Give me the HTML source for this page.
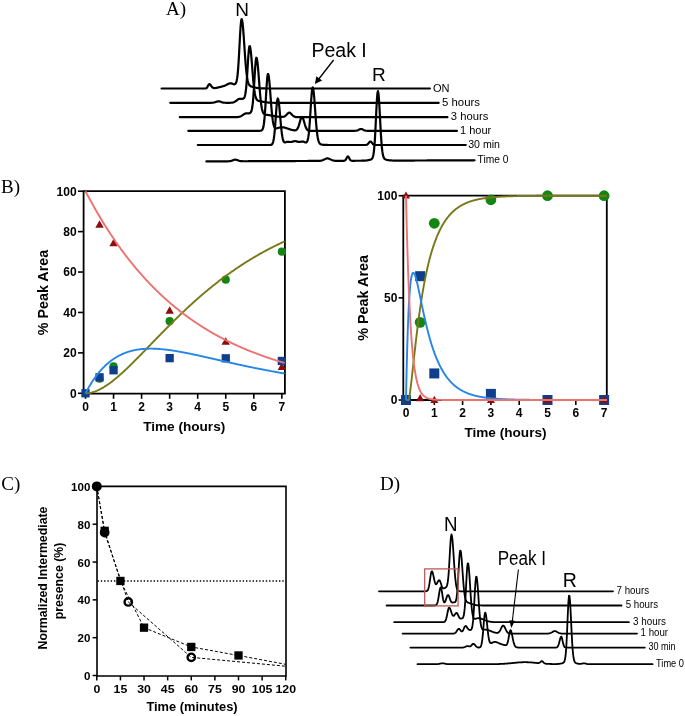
<!DOCTYPE html>
<html><head><meta charset="utf-8"><style>
html,body{margin:0;padding:0;background:#fff;}
body{width:685px;height:716px;overflow:hidden;}
svg{display:block;filter:blur(0.35px);}
</style></head><body>
<svg width="685" height="716" viewBox="0 0 685 716">
<rect width="685" height="716" fill="#fff"/>
<text x="166" y="14.6" font-family='"Liberation Serif", serif' font-size="19" font-weight="normal" text-anchor="start" fill="#000" >A)</text>
<text x="242.2" y="16" font-family='"Liberation Sans", sans-serif' font-size="19" font-weight="normal" text-anchor="middle" fill="#000" >N</text>
<text x="311.5" y="56.6" font-family='"Liberation Sans", sans-serif' font-size="19.5" font-weight="normal" text-anchor="start" fill="#000" >Peak I</text>
<text x="378.8" y="80.6" font-family='"Liberation Sans", sans-serif' font-size="19" font-weight="normal" text-anchor="middle" fill="#000" >R</text>
<path d="M161.6 88.5 L162.1 88.5 L162.6 88.5 L163.1 88.5 L163.6 88.5 L164.1 88.5 L164.6 88.5 L165.1 88.5 L165.6 88.5 L166.1 88.5 L166.6 88.5 L167.1 88.5 L167.6 88.5 L168.1 88.5 L168.6 88.5 L169.1 88.5 L169.6 88.5 L170.1 88.5 L170.6 88.5 L171.1 88.5 L171.6 88.5 L172.1 88.5 L172.6 88.5 L173.1 88.5 L173.6 88.5 L174.1 88.5 L174.6 88.5 L175.1 88.5 L175.6 88.5 L176.1 88.5 L176.6 88.5 L177.1 88.5 L177.6 88.5 L178.1 88.5 L178.6 88.5 L179.1 88.5 L179.6 88.5 L180.1 88.5 L180.6 88.5 L181.1 88.5 L181.6 88.5 L182.1 88.5 L182.6 88.5 L183.1 88.5 L183.6 88.5 L184.1 88.5 L184.6 88.5 L185.1 88.5 L185.6 88.5 L186.1 88.5 L186.6 88.5 L187.1 88.5 L187.6 88.5 L188.1 88.5 L188.6 88.5 L189.1 88.5 L189.6 88.5 L190.1 88.5 L190.6 88.5 L191.1 88.5 L191.6 88.5 L192.1 88.5 L192.6 88.5 L193.1 88.5 L193.6 88.5 L194.1 88.5 L194.6 88.5 L195.1 88.5 L195.6 88.5 L196.1 88.5 L196.6 88.5 L197.1 88.5 L197.6 88.5 L198.1 88.5 L198.6 88.5 L199.1 88.5 L199.6 88.5 L200.1 88.5 L200.6 88.5 L201.1 88.5 L201.6 88.5 L202.1 88.5 L202.6 88.5 L203.1 88.5 L203.6 88.5 L204.1 88.5 L204.6 88.49 L205.1 88.47 L205.6 88.42 L206.1 88.28 L206.6 87.99 L207.1 87.44 L207.6 86.62 L208.1 85.61 L208.6 84.68 L209.1 84.13 L209.6 84.13 L210.1 84.47 L210.6 85.05 L211.1 85.76 L211.6 86.46 L212.1 87.07 L212.6 87.53 L213.1 87.84 L213.6 88.02 L214.1 88.09 L214.6 88.1 L215.1 88.07 L215.6 88 L216.1 87.92 L216.6 87.83 L217.1 87.73 L217.6 87.62 L218.1 87.5 L218.6 87.38 L219.1 87.25 L219.6 87.12 L220.1 86.99 L220.6 86.86 L221.1 86.73 L221.6 86.6 L222.1 86.47 L222.6 86.33 L223.1 86.19 L223.6 86.04 L224.1 85.87 L224.6 85.69 L225.1 85.49 L225.6 85.26 L226.1 85.02 L226.6 84.76 L227.1 84.48 L227.6 84.21 L228.1 83.95 L228.6 83.71 L229.1 83.51 L229.6 83.36 L230.1 83.28 L230.6 83.26 L231.1 83.31 L231.6 83.43 L232.1 83.62 L232.6 83.84 L233.1 84.06 L233.6 84.23 L234.1 84.31 L234.6 84.27 L235.1 84.05 L235.6 83.55 L236.1 82.63 L236.6 81.05 L237.1 78.5 L237.6 74.62 L238.1 69.14 L238.6 61.96 L239.1 53.31 L239.6 43.81 L240.1 34.46 L240.6 26.49 L241.1 21.07 L241.6 19.09 L242.1 20.12 L242.6 23.33 L243.1 28.4 L243.6 34.84 L244.1 42.09 L244.6 49.57 L245.1 56.79 L245.6 63.35 L246.1 69.03 L246.6 73.72 L247.1 77.42 L247.6 80.23 L248.1 82.28 L248.6 83.72 L249.1 84.71 L249.6 85.38 L250.1 85.83 L250.6 86.15 L251.1 86.38 L251.6 86.56 L252.1 86.72 L252.6 86.87 L253.1 87 L253.6 87.13 L254.1 87.26 L254.6 87.38 L255.1 87.49 L255.6 87.6 L256.1 87.71 L256.6 87.8 L257.1 87.89 L257.6 87.97 L258.1 88.05 L258.6 88.11 L259.1 88.17 L259.6 88.22 L260.1 88.27 L260.6 88.31 L261.1 88.34 L261.6 88.37 L262.1 88.39 L262.6 88.41 L263.1 88.43 L263.6 88.45 L264.1 88.46 L264.6 88.47 L265.1 88.47 L265.6 88.48 L266.1 88.48 L266.6 88.49 L267.1 88.49 L267.6 88.49 L268.1 88.49 L268.6 88.5 L269.1 88.5 L269.6 88.5 L270.1 88.5 L270.6 88.5 L271.1 88.5 L271.6 88.5 L272.1 88.5 L272.6 88.5 L273.1 88.5 L273.6 88.5 L274.1 88.5 L274.6 88.5 L275.1 88.5 L275.6 88.5 L276.1 88.5 L276.6 88.5 L277.1 88.5 L277.6 88.5 L278.1 88.5 L278.6 88.5 L279.1 88.5 L279.6 88.5 L280.1 88.5 L280.6 88.5 L281.1 88.5 L281.6 88.5 L282.1 88.5 L282.6 88.5 L283.1 88.5 L283.6 88.5 L284.1 88.5 L284.6 88.5 L285.1 88.5 L285.6 88.5 L286.1 88.5 L286.6 88.5 L287.1 88.5 L287.6 88.5 L288.1 88.5 L288.6 88.5 L289.1 88.5 L289.6 88.5 L290.1 88.5 L290.6 88.5 L291.1 88.5 L291.6 88.5 L292.1 88.5 L292.6 88.5 L293.1 88.5 L293.6 88.5 L294.1 88.5 L294.6 88.5 L295.1 88.5 L295.6 88.5 L296.1 88.5 L296.6 88.5 L297.1 88.5 L297.6 88.5 L298.1 88.5 L298.6 88.5 L299.1 88.5 L299.6 88.5 L300.1 88.5 L300.6 88.5 L301.1 88.5 L301.6 88.5 L302.1 88.5 L302.6 88.5 L303.1 88.5 L303.6 88.5 L304.1 88.5 L304.6 88.5 L305.1 88.5 L305.6 88.5 L306.1 88.5 L306.6 88.5 L307.1 88.5 L307.6 88.5 L308.1 88.5 L308.6 88.5 L309.1 88.5 L309.6 88.5 L310.1 88.5 L310.6 88.5 L311.1 88.5 L311.6 88.5 L312.1 88.5 L312.6 88.5 L313.1 88.5 L313.6 88.5 L314.1 88.5 L314.6 88.5 L315.1 88.5 L315.6 88.5 L316.1 88.5 L316.6 88.5 L317.1 88.5 L317.6 88.5 L318.1 88.5 L318.6 88.5 L319.1 88.5 L319.6 88.5 L320.1 88.5 L320.6 88.5 L321.1 88.5 L321.6 88.5 L322.1 88.5 L322.6 88.5 L323.1 88.5 L323.6 88.5 L324.1 88.5 L324.6 88.5 L325.1 88.5 L325.6 88.5 L326.1 88.5 L326.6 88.5 L327.1 88.5 L327.6 88.5 L328.1 88.5 L328.6 88.5 L329.1 88.5 L329.6 88.5 L330.1 88.5 L330.6 88.5 L331.1 88.5 L331.6 88.5 L332.1 88.5 L332.6 88.5 L333.1 88.5 L333.6 88.5 L334.1 88.5 L334.6 88.5 L335.1 88.5 L335.6 88.5 L336.1 88.5 L336.6 88.5 L337.1 88.5 L337.6 88.5 L338.1 88.5 L338.6 88.5 L339.1 88.5 L339.6 88.5 L340.1 88.5 L340.6 88.5 L341.1 88.5 L341.6 88.5 L342.1 88.5 L342.6 88.5 L343.1 88.5 L343.6 88.5 L344.1 88.5 L344.6 88.5 L345.1 88.5 L345.6 88.5 L346.1 88.5 L346.6 88.5 L347.1 88.5 L347.6 88.5 L348.1 88.5 L348.6 88.5 L349.1 88.5 L349.6 88.5 L350.1 88.5 L350.6 88.5 L351.1 88.5 L351.6 88.5 L352.1 88.5 L352.6 88.5 L353.1 88.5 L353.6 88.5 L354.1 88.5 L354.6 88.5 L355.1 88.5 L355.6 88.5 L356.1 88.5 L356.6 88.5 L357.1 88.5 L357.6 88.5 L358.1 88.5 L358.6 88.5 L359.1 88.5 L359.6 88.5 L360.1 88.5 L360.6 88.5 L361.1 88.5 L361.6 88.5 L362.1 88.5 L362.6 88.5 L363.1 88.5 L363.6 88.5 L364.1 88.5 L364.6 88.5 L365.1 88.5 L365.6 88.5 L366.1 88.5 L366.6 88.5 L367.1 88.5 L367.6 88.5 L368.1 88.5 L368.6 88.5 L369.1 88.5 L369.6 88.5 L370.1 88.5 L370.6 88.5 L371.1 88.5 L371.6 88.5 L372.1 88.5 L372.6 88.5 L373.1 88.5 L373.6 88.5 L374.1 88.5 L374.6 88.5 L375.1 88.5 L375.6 88.5 L376.1 88.5 L376.6 88.5 L377.1 88.5 L377.6 88.5 L378.1 88.5 L378.6 88.5 L379.1 88.5 L379.6 88.5 L380.1 88.5 L380.6 88.5 L381.1 88.5 L381.6 88.5 L382.1 88.5 L382.6 88.5 L383.1 88.5 L383.6 88.5 L384.1 88.5 L384.6 88.5 L385.1 88.5 L385.6 88.5 L386.1 88.5 L386.6 88.5 L387.1 88.5 L387.6 88.5 L388.1 88.5 L388.6 88.5 L389.1 88.5 L389.6 88.5 L390.1 88.5 L390.6 88.5 L391.1 88.5 L391.6 88.5 L392.1 88.5 L392.6 88.5 L393.1 88.5 L393.6 88.5 L394.1 88.5 L394.6 88.5 L395.1 88.5 L395.6 88.5 L396.1 88.5 L396.6 88.5 L397.1 88.5 L397.6 88.5 L398.1 88.5 L398.6 88.5 L399.1 88.5 L399.6 88.5 L400.1 88.5 L400.6 88.5 L401.1 88.5 L401.6 88.5 L402.1 88.5 L402.6 88.5 L403.1 88.5 L403.6 88.5 L404.1 88.5 L404.6 88.5 L405.1 88.5 L405.6 88.5 L406.1 88.5 L406.6 88.5 L407.1 88.5 L407.6 88.5 L408.1 88.5 L408.6 88.5 L409.1 88.5 L409.6 88.5 L410.1 88.5 L410.6 88.5 L411.1 88.5 L411.6 88.5 L412.1 88.5 L412.6 88.5 L413.1 88.5 L413.6 88.5 L414.1 88.5 L414.6 88.5 L415.1 88.5 L415.6 88.5 L416.1 88.5 L416.6 88.5 L417.1 88.5 L417.6 88.5 L418.1 88.5 L418.6 88.5 L419.1 88.5 L419.6 88.5 L420.1 88.5 L420.6 88.5 L421.1 88.5 L421.6 88.5 L422.1 88.5 L422.6 88.5 L423.1 88.5 L423.6 88.5 L424.1 88.5 L424.6 88.5 L425.1 88.5 L425.6 88.5 L426.1 88.5 L426.6 88.5 L427.1 88.5 L427.6 88.5 L428.1 88.5 L428.6 88.5 L429.1 88.5 L429.6 88.5 L429.9 88.5" fill="none" stroke="#000" stroke-width="2.2" stroke-linejoin="round" stroke-linecap="round"/>
<text x="433" y="91.6" font-family='"Liberation Sans", sans-serif' font-size="11" font-weight="normal" text-anchor="start" fill="#000" textLength="16.6" lengthAdjust="spacingAndGlyphs">ON</text>
<path d="M170.3 102.8 L170.8 102.8 L171.3 102.8 L171.8 102.8 L172.3 102.8 L172.8 102.8 L173.3 102.8 L173.8 102.8 L174.3 102.8 L174.8 102.8 L175.3 102.8 L175.8 102.8 L176.3 102.8 L176.8 102.8 L177.3 102.8 L177.8 102.8 L178.3 102.8 L178.8 102.8 L179.3 102.8 L179.8 102.8 L180.3 102.8 L180.8 102.8 L181.3 102.8 L181.8 102.8 L182.3 102.8 L182.8 102.8 L183.3 102.8 L183.8 102.8 L184.3 102.8 L184.8 102.8 L185.3 102.8 L185.8 102.8 L186.3 102.8 L186.8 102.8 L187.3 102.8 L187.8 102.8 L188.3 102.8 L188.8 102.8 L189.3 102.8 L189.8 102.8 L190.3 102.8 L190.8 102.8 L191.3 102.8 L191.8 102.8 L192.3 102.8 L192.8 102.8 L193.3 102.8 L193.8 102.8 L194.3 102.8 L194.8 102.8 L195.3 102.8 L195.8 102.8 L196.3 102.8 L196.8 102.8 L197.3 102.8 L197.8 102.8 L198.3 102.8 L198.8 102.8 L199.3 102.8 L199.8 102.8 L200.3 102.8 L200.8 102.8 L201.3 102.8 L201.8 102.8 L202.3 102.8 L202.8 102.8 L203.3 102.8 L203.8 102.8 L204.3 102.8 L204.8 102.8 L205.3 102.8 L205.8 102.8 L206.3 102.8 L206.8 102.8 L207.3 102.8 L207.8 102.8 L208.3 102.8 L208.8 102.8 L209.3 102.8 L209.8 102.8 L210.3 102.79 L210.8 102.79 L211.3 102.78 L211.8 102.76 L212.3 102.73 L212.8 102.69 L213.3 102.63 L213.8 102.54 L214.3 102.43 L214.8 102.3 L215.3 102.14 L215.8 101.96 L216.3 101.78 L216.8 101.61 L217.3 101.46 L217.8 101.36 L218.3 101.3 L218.8 101.31 L219.3 101.37 L219.8 101.49 L220.3 101.64 L220.8 101.82 L221.3 102 L221.8 102.17 L222.3 102.33 L222.8 102.46 L223.3 102.56 L223.8 102.64 L224.3 102.7 L224.8 102.74 L225.3 102.76 L225.8 102.78 L226.3 102.79 L226.8 102.79 L227.3 102.8 L227.8 102.8 L228.3 102.8 L228.8 102.79 L229.3 102.79 L229.8 102.78 L230.3 102.77 L230.8 102.74 L231.3 102.71 L231.8 102.66 L232.3 102.59 L232.8 102.49 L233.3 102.35 L233.8 102.17 L234.3 101.95 L234.8 101.69 L235.3 101.37 L235.8 101.02 L236.3 100.65 L236.8 100.26 L237.3 99.89 L237.8 99.55 L238.3 99.27 L238.8 99.06 L239.3 98.92 L239.8 98.86 L240.3 98.86 L240.8 98.88 L241.3 98.92 L241.8 98.93 L242.3 98.9 L242.8 98.8 L243.3 98.6 L243.8 98.23 L244.3 97.55 L244.8 96.34 L245.3 94.28 L245.8 91.04 L246.3 86.33 L246.8 80.08 L247.3 72.53 L247.8 64.35 L248.3 56.53 L248.8 50.25 L249.3 46.58 L249.8 46.08 L250.3 47.83 L250.8 51.4 L251.3 56.4 L251.8 62.36 L252.3 68.72 L252.8 75 L253.3 80.79 L253.8 85.84 L254.3 90 L254.8 93.28 L255.3 95.75 L255.8 97.53 L256.3 98.77 L256.8 99.6 L257.3 100.15 L257.8 100.5 L258.3 100.73 L258.8 100.9 L259.3 101.03 L259.8 101.14 L260.3 101.24 L260.8 101.34 L261.3 101.44 L261.8 101.55 L262.3 101.65 L262.8 101.75 L263.3 101.85 L263.8 101.94 L264.3 102.03 L264.8 102.12 L265.3 102.2 L265.8 102.27 L266.3 102.34 L266.8 102.4 L267.3 102.46 L267.8 102.51 L268.3 102.56 L268.8 102.59 L269.3 102.63 L269.8 102.66 L270.3 102.68 L270.8 102.7 L271.3 102.72 L271.8 102.74 L272.3 102.75 L272.8 102.76 L273.3 102.77 L273.8 102.78 L274.3 102.78 L274.8 102.79 L275.3 102.79 L275.8 102.79 L276.3 102.79 L276.8 102.8 L277.3 102.8 L277.8 102.8 L278.3 102.8 L278.8 102.8 L279.3 102.8 L279.8 102.8 L280.3 102.8 L280.8 102.8 L281.3 102.8 L281.8 102.8 L282.3 102.8 L282.8 102.8 L283.3 102.8 L283.8 102.8 L284.3 102.8 L284.8 102.8 L285.3 102.8 L285.8 102.8 L286.3 102.8 L286.8 102.8 L287.3 102.8 L287.8 102.8 L288.3 102.8 L288.8 102.8 L289.3 102.8 L289.8 102.8 L290.3 102.8 L290.8 102.8 L291.3 102.8 L291.8 102.8 L292.3 102.8 L292.8 102.8 L293.3 102.8 L293.8 102.8 L294.3 102.8 L294.8 102.8 L295.3 102.8 L295.8 102.8 L296.3 102.8 L296.8 102.8 L297.3 102.8 L297.8 102.8 L298.3 102.8 L298.8 102.8 L299.3 102.8 L299.8 102.8 L300.3 102.8 L300.8 102.8 L301.3 102.8 L301.8 102.8 L302.3 102.8 L302.8 102.8 L303.3 102.8 L303.8 102.8 L304.3 102.8 L304.8 102.8 L305.3 102.8 L305.8 102.8 L306.3 102.8 L306.8 102.8 L307.3 102.8 L307.8 102.8 L308.3 102.8 L308.8 102.8 L309.3 102.8 L309.8 102.8 L310.3 102.8 L310.8 102.8 L311.3 102.8 L311.8 102.8 L312.3 102.8 L312.8 102.8 L313.3 102.8 L313.8 102.8 L314.3 102.8 L314.8 102.8 L315.3 102.8 L315.8 102.8 L316.3 102.8 L316.8 102.8 L317.3 102.8 L317.8 102.8 L318.3 102.8 L318.8 102.8 L319.3 102.8 L319.8 102.8 L320.3 102.8 L320.8 102.8 L321.3 102.8 L321.8 102.8 L322.3 102.8 L322.8 102.8 L323.3 102.8 L323.8 102.8 L324.3 102.8 L324.8 102.8 L325.3 102.8 L325.8 102.8 L326.3 102.8 L326.8 102.8 L327.3 102.8 L327.8 102.8 L328.3 102.8 L328.8 102.8 L329.3 102.8 L329.8 102.8 L330.3 102.8 L330.8 102.8 L331.3 102.8 L331.8 102.8 L332.3 102.8 L332.8 102.8 L333.3 102.8 L333.8 102.8 L334.3 102.8 L334.8 102.8 L335.3 102.8 L335.8 102.8 L336.3 102.8 L336.8 102.8 L337.3 102.8 L337.8 102.8 L338.3 102.8 L338.8 102.8 L339.3 102.8 L339.8 102.8 L340.3 102.8 L340.8 102.8 L341.3 102.8 L341.8 102.8 L342.3 102.8 L342.8 102.8 L343.3 102.8 L343.8 102.8 L344.3 102.8 L344.8 102.8 L345.3 102.8 L345.8 102.8 L346.3 102.8 L346.8 102.8 L347.3 102.8 L347.8 102.8 L348.3 102.8 L348.8 102.8 L349.3 102.8 L349.8 102.8 L350.3 102.8 L350.8 102.8 L351.3 102.8 L351.8 102.8 L352.3 102.8 L352.8 102.8 L353.3 102.8 L353.8 102.8 L354.3 102.8 L354.8 102.8 L355.3 102.8 L355.8 102.8 L356.3 102.8 L356.8 102.8 L357.3 102.8 L357.8 102.8 L358.3 102.8 L358.8 102.8 L359.3 102.8 L359.8 102.8 L360.3 102.8 L360.8 102.8 L361.3 102.8 L361.8 102.8 L362.3 102.8 L362.8 102.8 L363.3 102.8 L363.8 102.8 L364.3 102.8 L364.8 102.8 L365.3 102.8 L365.8 102.8 L366.3 102.8 L366.8 102.8 L367.3 102.8 L367.8 102.8 L368.3 102.8 L368.8 102.8 L369.3 102.8 L369.8 102.8 L370.3 102.8 L370.8 102.8 L371.3 102.8 L371.8 102.8 L372.3 102.8 L372.8 102.8 L373.3 102.8 L373.8 102.8 L374.3 102.8 L374.8 102.8 L375.3 102.8 L375.8 102.8 L376.3 102.8 L376.8 102.8 L377.3 102.8 L377.8 102.8 L378.3 102.8 L378.8 102.8 L379.3 102.8 L379.8 102.8 L380.3 102.8 L380.8 102.8 L381.3 102.8 L381.8 102.8 L382.3 102.8 L382.8 102.8 L383.3 102.8 L383.8 102.8 L384.3 102.8 L384.8 102.8 L385.3 102.8 L385.8 102.8 L386.3 102.8 L386.8 102.8 L387.3 102.8 L387.8 102.8 L388.3 102.8 L388.8 102.8 L389.3 102.8 L389.8 102.8 L390.3 102.8 L390.8 102.8 L391.3 102.8 L391.8 102.8 L392.3 102.8 L392.8 102.8 L393.3 102.8 L393.8 102.8 L394.3 102.8 L394.8 102.8 L395.3 102.8 L395.8 102.8 L396.3 102.8 L396.8 102.8 L397.3 102.8 L397.8 102.8 L398.3 102.8 L398.8 102.8 L399.3 102.8 L399.8 102.8 L400.3 102.8 L400.8 102.8 L401.3 102.8 L401.8 102.8 L402.3 102.8 L402.8 102.8 L403.3 102.8 L403.8 102.8 L404.3 102.8 L404.8 102.8 L405.3 102.8 L405.8 102.8 L406.3 102.8 L406.8 102.8 L407.3 102.8 L407.8 102.8 L408.3 102.8 L408.8 102.8 L409.3 102.8 L409.8 102.8 L410.3 102.8 L410.8 102.8 L411.3 102.8 L411.8 102.8 L412.3 102.8 L412.8 102.8 L413.3 102.8 L413.8 102.8 L414.3 102.8 L414.8 102.8 L415.3 102.8 L415.8 102.8 L416.3 102.8 L416.8 102.8 L417.3 102.8 L417.8 102.8 L418.3 102.8 L418.8 102.8 L419.3 102.8 L419.8 102.8 L420.3 102.8 L420.8 102.8 L421.3 102.8 L421.8 102.8 L422.3 102.8 L422.8 102.8 L423.3 102.8 L423.8 102.8 L424.3 102.8 L424.8 102.8 L425.3 102.8 L425.8 102.8 L426.3 102.8 L426.8 102.8 L427.3 102.8 L427.8 102.8 L428.3 102.8 L428.8 102.8 L429.3 102.8 L429.8 102.8 L430.3 102.8 L430.8 102.8 L431.3 102.8 L431.8 102.8 L432.3 102.8 L432.8 102.8 L433.3 102.8 L433.8 102.8 L434.3 102.8 L434.8 102.8 L435.3 102.8 L435.8 102.8 L436.3 102.8 L436.8 102.8 L437.3 102.8 L437.8 102.8 L438.3 102.8 L438.7 102.8" fill="none" stroke="#000" stroke-width="2.2" stroke-linejoin="round" stroke-linecap="round"/>
<text x="442" y="105.9" font-family='"Liberation Sans", sans-serif' font-size="11" font-weight="normal" text-anchor="start" fill="#000" textLength="38.0" lengthAdjust="spacingAndGlyphs">5 hours</text>
<path d="M179.8 117.2 L180.3 117.2 L180.8 117.2 L181.3 117.2 L181.8 117.2 L182.3 117.2 L182.8 117.2 L183.3 117.2 L183.8 117.2 L184.3 117.2 L184.8 117.2 L185.3 117.2 L185.8 117.2 L186.3 117.2 L186.8 117.2 L187.3 117.2 L187.8 117.2 L188.3 117.2 L188.8 117.2 L189.3 117.2 L189.8 117.2 L190.3 117.2 L190.8 117.2 L191.3 117.2 L191.8 117.2 L192.3 117.2 L192.8 117.2 L193.3 117.2 L193.8 117.2 L194.3 117.2 L194.8 117.2 L195.3 117.2 L195.8 117.2 L196.3 117.2 L196.8 117.2 L197.3 117.2 L197.8 117.2 L198.3 117.2 L198.8 117.2 L199.3 117.2 L199.8 117.2 L200.3 117.2 L200.8 117.2 L201.3 117.2 L201.8 117.2 L202.3 117.2 L202.8 117.2 L203.3 117.2 L203.8 117.2 L204.3 117.2 L204.8 117.2 L205.3 117.2 L205.8 117.2 L206.3 117.2 L206.8 117.2 L207.3 117.2 L207.8 117.2 L208.3 117.2 L208.8 117.2 L209.3 117.2 L209.8 117.2 L210.3 117.2 L210.8 117.2 L211.3 117.2 L211.8 117.2 L212.3 117.2 L212.8 117.2 L213.3 117.2 L213.8 117.2 L214.3 117.2 L214.8 117.2 L215.3 117.2 L215.8 117.2 L216.3 117.2 L216.8 117.2 L217.3 117.2 L217.8 117.2 L218.3 117.2 L218.8 117.2 L219.3 117.2 L219.8 117.2 L220.3 117.2 L220.8 117.2 L221.3 117.2 L221.8 117.2 L222.3 117.2 L222.8 117.2 L223.3 117.2 L223.8 117.2 L224.3 117.2 L224.8 117.2 L225.3 117.2 L225.8 117.2 L226.3 117.2 L226.8 117.2 L227.3 117.2 L227.8 117.2 L228.3 117.2 L228.8 117.2 L229.3 117.2 L229.8 117.2 L230.3 117.2 L230.8 117.2 L231.3 117.2 L231.8 117.2 L232.3 117.2 L232.8 117.2 L233.3 117.2 L233.8 117.19 L234.3 117.19 L234.8 117.19 L235.3 117.18 L235.8 117.16 L236.3 117.15 L236.8 117.12 L237.3 117.08 L237.8 117.03 L238.3 116.96 L238.8 116.86 L239.3 116.74 L239.8 116.59 L240.3 116.41 L240.8 116.19 L241.3 115.94 L241.8 115.66 L242.3 115.35 L242.8 115.03 L243.3 114.7 L243.8 114.38 L244.3 114.08 L244.8 113.81 L245.3 113.6 L245.8 113.43 L246.3 113.32 L246.8 113.26 L247.3 113.25 L247.8 113.28 L248.3 113.31 L248.8 113.32 L249.3 113.27 L249.8 113.12 L250.3 112.84 L250.8 112.31 L251.3 111.35 L251.8 109.72 L252.3 107.06 L252.8 103.03 L253.3 97.42 L253.8 90.27 L254.3 82 L254.8 73.46 L255.3 65.78 L255.8 60.21 L256.3 57.72 L256.8 58.31 L257.3 60.97 L257.8 65.39 L258.3 71.11 L258.8 77.59 L259.3 84.27 L259.8 90.67 L260.3 96.42 L260.8 101.29 L261.3 105.22 L261.8 108.22 L262.3 110.42 L262.8 111.96 L263.3 112.99 L263.8 113.68 L264.3 114.12 L264.8 114.39 L265.3 114.56 L265.8 114.68 L266.3 114.76 L266.8 114.83 L267.3 114.89 L267.8 114.96 L268.3 115.03 L268.8 115.11 L269.3 115.19 L269.8 115.28 L270.3 115.37 L270.8 115.46 L271.3 115.55 L271.8 115.65 L272.3 115.74 L272.8 115.83 L273.3 115.93 L273.8 116.02 L274.3 116.11 L274.8 116.19 L275.3 116.28 L275.8 116.36 L276.3 116.43 L276.8 116.5 L277.3 116.57 L277.8 116.64 L278.3 116.69 L278.8 116.75 L279.3 116.8 L279.8 116.84 L280.3 116.88 L280.8 116.91 L281.3 116.93 L281.8 116.94 L282.3 116.93 L282.8 116.89 L283.3 116.81 L283.8 116.68 L284.3 116.49 L284.8 116.22 L285.3 115.88 L285.8 115.45 L286.3 114.96 L286.8 114.43 L287.3 113.9 L287.8 113.41 L288.3 113.02 L288.8 112.77 L289.3 112.68 L289.8 112.78 L290.3 113.03 L290.8 113.43 L291.3 113.92 L291.8 114.46 L292.3 115 L292.8 115.51 L293.3 115.95 L293.8 116.31 L294.3 116.59 L294.8 116.8 L295.3 116.95 L295.8 117.05 L296.3 117.11 L296.8 117.15 L297.3 117.17 L297.8 117.19 L298.3 117.19 L298.8 117.2 L299.3 117.2 L299.8 117.2 L300.3 117.2 L300.8 117.2 L301.3 117.2 L301.8 117.2 L302.3 117.2 L302.8 117.2 L303.3 117.2 L303.8 117.2 L304.3 117.2 L304.8 117.2 L305.3 117.2 L305.8 117.2 L306.3 117.2 L306.8 117.2 L307.3 117.2 L307.8 117.2 L308.3 117.2 L308.8 117.2 L309.3 117.2 L309.8 117.2 L310.3 117.2 L310.8 117.2 L311.3 117.2 L311.8 117.2 L312.3 117.2 L312.8 117.2 L313.3 117.2 L313.8 117.2 L314.3 117.2 L314.8 117.2 L315.3 117.2 L315.8 117.2 L316.3 117.2 L316.8 117.2 L317.3 117.2 L317.8 117.2 L318.3 117.2 L318.8 117.2 L319.3 117.2 L319.8 117.2 L320.3 117.2 L320.8 117.2 L321.3 117.2 L321.8 117.2 L322.3 117.2 L322.8 117.2 L323.3 117.2 L323.8 117.2 L324.3 117.2 L324.8 117.2 L325.3 117.2 L325.8 117.2 L326.3 117.2 L326.8 117.2 L327.3 117.2 L327.8 117.2 L328.3 117.2 L328.8 117.2 L329.3 117.2 L329.8 117.2 L330.3 117.2 L330.8 117.2 L331.3 117.2 L331.8 117.2 L332.3 117.2 L332.8 117.2 L333.3 117.2 L333.8 117.2 L334.3 117.2 L334.8 117.2 L335.3 117.2 L335.8 117.2 L336.3 117.2 L336.8 117.2 L337.3 117.2 L337.8 117.2 L338.3 117.2 L338.8 117.2 L339.3 117.2 L339.8 117.2 L340.3 117.2 L340.8 117.2 L341.3 117.2 L341.8 117.2 L342.3 117.2 L342.8 117.2 L343.3 117.2 L343.8 117.2 L344.3 117.2 L344.8 117.2 L345.3 117.2 L345.8 117.2 L346.3 117.2 L346.8 117.2 L347.3 117.2 L347.8 117.2 L348.3 117.2 L348.8 117.2 L349.3 117.2 L349.8 117.2 L350.3 117.2 L350.8 117.2 L351.3 117.2 L351.8 117.2 L352.3 117.2 L352.8 117.2 L353.3 117.2 L353.8 117.2 L354.3 117.2 L354.8 117.2 L355.3 117.2 L355.8 117.2 L356.3 117.2 L356.8 117.2 L357.3 117.2 L357.8 117.2 L358.3 117.2 L358.8 117.2 L359.3 117.2 L359.8 117.2 L360.3 117.2 L360.8 117.2 L361.3 117.2 L361.8 117.2 L362.3 117.2 L362.8 117.2 L363.3 117.2 L363.8 117.2 L364.3 117.2 L364.8 117.2 L365.3 117.2 L365.8 117.2 L366.3 117.2 L366.8 117.2 L367.3 117.2 L367.8 117.2 L368.3 117.2 L368.8 117.2 L369.3 117.2 L369.8 117.2 L370.3 117.2 L370.8 117.2 L371.3 117.2 L371.8 117.2 L372.3 117.2 L372.8 117.2 L373.3 117.2 L373.8 117.2 L374.3 117.2 L374.8 117.2 L375.3 117.2 L375.8 117.2 L376.3 117.2 L376.8 117.2 L377.3 117.2 L377.8 117.2 L378.3 117.2 L378.8 117.2 L379.3 117.2 L379.8 117.2 L380.3 117.2 L380.8 117.2 L381.3 117.2 L381.8 117.2 L382.3 117.2 L382.8 117.2 L383.3 117.2 L383.8 117.2 L384.3 117.2 L384.8 117.2 L385.3 117.2 L385.8 117.2 L386.3 117.2 L386.8 117.2 L387.3 117.2 L387.8 117.2 L388.3 117.2 L388.8 117.2 L389.3 117.2 L389.8 117.2 L390.3 117.2 L390.8 117.2 L391.3 117.2 L391.8 117.2 L392.3 117.2 L392.8 117.2 L393.3 117.2 L393.8 117.2 L394.3 117.2 L394.8 117.2 L395.3 117.2 L395.8 117.2 L396.3 117.2 L396.8 117.2 L397.3 117.2 L397.8 117.2 L398.3 117.2 L398.8 117.2 L399.3 117.2 L399.8 117.2 L400.3 117.2 L400.8 117.2 L401.3 117.2 L401.8 117.2 L402.3 117.2 L402.8 117.2 L403.3 117.2 L403.8 117.2 L404.3 117.2 L404.8 117.2 L405.3 117.2 L405.8 117.2 L406.3 117.2 L406.8 117.2 L407.3 117.2 L407.8 117.2 L408.3 117.2 L408.8 117.2 L409.3 117.2 L409.8 117.2 L410.3 117.2 L410.8 117.2 L411.3 117.2 L411.8 117.2 L412.3 117.2 L412.8 117.2 L413.3 117.2 L413.8 117.2 L414.3 117.2 L414.8 117.2 L415.3 117.2 L415.8 117.2 L416.3 117.2 L416.8 117.2 L417.3 117.2 L417.8 117.2 L418.3 117.2 L418.8 117.2 L419.3 117.2 L419.8 117.2 L420.3 117.2 L420.8 117.2 L421.3 117.2 L421.8 117.2 L422.3 117.2 L422.8 117.2 L423.3 117.2 L423.8 117.2 L424.3 117.2 L424.8 117.2 L425.3 117.2 L425.8 117.2 L426.3 117.2 L426.8 117.2 L427.3 117.2 L427.8 117.2 L428.3 117.2 L428.8 117.2 L429.3 117.2 L429.8 117.2 L430.3 117.2 L430.8 117.2 L431.3 117.2 L431.8 117.2 L432.3 117.2 L432.8 117.2 L433.3 117.2 L433.8 117.2 L434.3 117.2 L434.8 117.2 L435.3 117.2 L435.8 117.2 L436.3 117.2 L436.8 117.2 L437.3 117.2 L437.8 117.2 L438.3 117.2 L438.8 117.2 L439.3 117.2 L439.8 117.2 L440.3 117.2 L440.8 117.2 L441.3 117.2 L441.8 117.2 L442.3 117.2 L442.8 117.2 L443.3 117.2 L443.8 117.2 L444.3 117.2 L444.8 117.2 L445.3 117.2 L445.8 117.2 L446.3 117.2 L446.8 117.2 L447.3 117.2 L447.4 117.2" fill="none" stroke="#000" stroke-width="2.2" stroke-linejoin="round" stroke-linecap="round"/>
<text x="450.8" y="120.3" font-family='"Liberation Sans", sans-serif' font-size="11" font-weight="normal" text-anchor="start" fill="#000" textLength="37.5" lengthAdjust="spacingAndGlyphs">3 hours</text>
<path d="M188.3 130.8 L188.8 130.8 L189.3 130.8 L189.8 130.8 L190.3 130.8 L190.8 130.8 L191.3 130.8 L191.8 130.8 L192.3 130.8 L192.8 130.8 L193.3 130.8 L193.8 130.8 L194.3 130.8 L194.8 130.8 L195.3 130.8 L195.8 130.8 L196.3 130.8 L196.8 130.8 L197.3 130.8 L197.8 130.8 L198.3 130.8 L198.8 130.8 L199.3 130.8 L199.8 130.8 L200.3 130.8 L200.8 130.8 L201.3 130.8 L201.8 130.8 L202.3 130.8 L202.8 130.8 L203.3 130.8 L203.8 130.8 L204.3 130.8 L204.8 130.8 L205.3 130.8 L205.8 130.8 L206.3 130.8 L206.8 130.8 L207.3 130.8 L207.8 130.8 L208.3 130.8 L208.8 130.8 L209.3 130.8 L209.8 130.8 L210.3 130.8 L210.8 130.8 L211.3 130.8 L211.8 130.8 L212.3 130.8 L212.8 130.8 L213.3 130.8 L213.8 130.8 L214.3 130.8 L214.8 130.8 L215.3 130.8 L215.8 130.8 L216.3 130.8 L216.8 130.8 L217.3 130.8 L217.8 130.8 L218.3 130.8 L218.8 130.8 L219.3 130.8 L219.8 130.8 L220.3 130.8 L220.8 130.8 L221.3 130.8 L221.8 130.8 L222.3 130.8 L222.8 130.8 L223.3 130.8 L223.8 130.8 L224.3 130.8 L224.8 130.8 L225.3 130.8 L225.8 130.8 L226.3 130.8 L226.8 130.8 L227.3 130.8 L227.8 130.8 L228.3 130.8 L228.8 130.8 L229.3 130.8 L229.8 130.8 L230.3 130.8 L230.8 130.8 L231.3 130.8 L231.8 130.8 L232.3 130.8 L232.8 130.8 L233.3 130.8 L233.8 130.8 L234.3 130.8 L234.8 130.8 L235.3 130.8 L235.8 130.8 L236.3 130.8 L236.8 130.8 L237.3 130.8 L237.8 130.8 L238.3 130.8 L238.8 130.8 L239.3 130.8 L239.8 130.8 L240.3 130.8 L240.8 130.8 L241.3 130.8 L241.8 130.8 L242.3 130.8 L242.8 130.8 L243.3 130.8 L243.8 130.8 L244.3 130.8 L244.8 130.8 L245.3 130.8 L245.8 130.8 L246.3 130.8 L246.8 130.8 L247.3 130.8 L247.8 130.8 L248.3 130.8 L248.8 130.8 L249.3 130.8 L249.8 130.8 L250.3 130.8 L250.8 130.8 L251.3 130.8 L251.8 130.8 L252.3 130.8 L252.8 130.8 L253.3 130.8 L253.8 130.8 L254.3 130.8 L254.8 130.8 L255.3 130.8 L255.8 130.8 L256.3 130.8 L256.8 130.8 L257.3 130.8 L257.8 130.8 L258.3 130.8 L258.8 130.8 L259.3 130.79 L259.8 130.78 L260.3 130.76 L260.8 130.71 L261.3 130.58 L261.8 130.32 L262.3 129.81 L262.8 128.85 L263.3 127.18 L263.8 124.5 L264.3 120.49 L264.8 114.95 L265.3 107.89 L265.8 99.69 L266.3 91.11 L266.8 83.22 L267.3 77.2 L267.8 74.07 L268.3 74.15 L268.8 76.52 L269.3 80.81 L269.8 86.53 L270.3 93.08 L270.8 99.85 L271.3 106.32 L271.8 112.08 L272.3 116.91 L272.8 120.73 L273.3 123.57 L273.8 125.57 L274.3 126.89 L274.8 127.69 L275.3 128.12 L275.8 128.31 L276.3 128.34 L276.8 128.28 L277.3 128.17 L277.8 128.03 L278.3 127.89 L278.8 127.76 L279.3 127.63 L279.8 127.53 L280.3 127.44 L280.8 127.37 L281.3 127.32 L281.8 127.3 L282.3 127.3 L282.8 127.33 L283.3 127.38 L283.8 127.45 L284.3 127.55 L284.8 127.66 L285.3 127.79 L285.8 127.94 L286.3 128.09 L286.8 128.26 L287.3 128.43 L287.8 128.61 L288.3 128.78 L288.8 128.96 L289.3 129.13 L289.8 129.3 L290.3 129.46 L290.8 129.61 L291.3 129.75 L291.8 129.88 L292.3 130 L292.8 130.1 L293.3 130.2 L293.8 130.27 L294.3 130.32 L294.8 130.34 L295.3 130.3 L295.8 130.19 L296.3 129.96 L296.8 129.57 L297.3 128.97 L297.8 128.1 L298.3 126.96 L298.8 125.53 L299.3 123.87 L299.8 122.09 L300.3 120.34 L300.8 118.82 L301.3 117.7 L301.8 117.14 L302.3 117.2 L302.8 117.9 L303.3 119.12 L303.8 120.71 L304.3 122.49 L304.8 124.27 L305.3 125.9 L305.8 127.3 L306.3 128.41 L306.8 129.25 L307.3 129.84 L307.8 130.23 L308.3 130.48 L308.8 130.63 L309.3 130.71 L309.8 130.76 L310.3 130.78 L310.8 130.79 L311.3 130.8 L311.8 130.8 L312.3 130.8 L312.8 130.8 L313.3 130.8 L313.8 130.8 L314.3 130.8 L314.8 130.8 L315.3 130.8 L315.8 130.8 L316.3 130.8 L316.8 130.8 L317.3 130.8 L317.8 130.8 L318.3 130.8 L318.8 130.8 L319.3 130.8 L319.8 130.8 L320.3 130.8 L320.8 130.8 L321.3 130.8 L321.8 130.8 L322.3 130.8 L322.8 130.8 L323.3 130.8 L323.8 130.8 L324.3 130.8 L324.8 130.8 L325.3 130.8 L325.8 130.8 L326.3 130.8 L326.8 130.8 L327.3 130.8 L327.8 130.8 L328.3 130.8 L328.8 130.8 L329.3 130.8 L329.8 130.8 L330.3 130.8 L330.8 130.8 L331.3 130.8 L331.8 130.8 L332.3 130.8 L332.8 130.8 L333.3 130.8 L333.8 130.8 L334.3 130.8 L334.8 130.8 L335.3 130.8 L335.8 130.8 L336.3 130.8 L336.8 130.8 L337.3 130.8 L337.8 130.8 L338.3 130.8 L338.8 130.8 L339.3 130.8 L339.8 130.8 L340.3 130.8 L340.8 130.8 L341.3 130.8 L341.8 130.8 L342.3 130.8 L342.8 130.8 L343.3 130.8 L343.8 130.8 L344.3 130.8 L344.8 130.8 L345.3 130.8 L345.8 130.8 L346.3 130.8 L346.8 130.8 L347.3 130.8 L347.8 130.8 L348.3 130.8 L348.8 130.8 L349.3 130.8 L349.8 130.8 L350.3 130.8 L350.8 130.8 L351.3 130.8 L351.8 130.8 L352.3 130.8 L352.8 130.8 L353.3 130.8 L353.8 130.8 L354.3 130.79 L354.8 130.79 L355.3 130.77 L355.8 130.74 L356.3 130.69 L356.8 130.6 L357.3 130.47 L357.8 130.3 L358.3 130.08 L358.8 129.82 L359.3 129.55 L359.8 129.3 L360.3 129.11 L360.8 129.01 L361.3 129.02 L361.8 129.14 L362.3 129.34 L362.8 129.6 L363.3 129.87 L363.8 130.12 L364.3 130.34 L364.8 130.5 L365.3 130.62 L365.8 130.7 L366.3 130.75 L366.8 130.77 L367.3 130.79 L367.8 130.79 L368.3 130.8 L368.8 130.8 L369.3 130.8 L369.8 130.8 L370.3 130.8 L370.8 130.8 L371.3 130.8 L371.8 130.8 L372.3 130.8 L372.8 130.8 L373.3 130.8 L373.8 130.8 L374.3 130.8 L374.8 130.8 L375.3 130.8 L375.8 130.8 L376.3 130.8 L376.8 130.8 L377.3 130.8 L377.8 130.8 L378.3 130.8 L378.8 130.8 L379.3 130.8 L379.8 130.8 L380.3 130.8 L380.8 130.8 L381.3 130.8 L381.8 130.8 L382.3 130.8 L382.8 130.8 L383.3 130.8 L383.8 130.8 L384.3 130.8 L384.8 130.8 L385.3 130.8 L385.8 130.8 L386.3 130.8 L386.8 130.8 L387.3 130.8 L387.8 130.8 L388.3 130.8 L388.8 130.8 L389.3 130.8 L389.8 130.8 L390.3 130.8 L390.8 130.8 L391.3 130.8 L391.8 130.8 L392.3 130.8 L392.8 130.8 L393.3 130.8 L393.8 130.8 L394.3 130.8 L394.8 130.8 L395.3 130.8 L395.8 130.8 L396.3 130.8 L396.8 130.8 L397.3 130.8 L397.8 130.8 L398.3 130.8 L398.8 130.8 L399.3 130.8 L399.8 130.8 L400.3 130.8 L400.8 130.8 L401.3 130.8 L401.8 130.8 L402.3 130.8 L402.8 130.8 L403.3 130.8 L403.8 130.8 L404.3 130.8 L404.8 130.8 L405.3 130.8 L405.8 130.8 L406.3 130.8 L406.8 130.8 L407.3 130.8 L407.8 130.8 L408.3 130.8 L408.8 130.8 L409.3 130.8 L409.8 130.8 L410.3 130.8 L410.8 130.8 L411.3 130.8 L411.8 130.8 L412.3 130.8 L412.8 130.8 L413.3 130.8 L413.8 130.8 L414.3 130.8 L414.8 130.8 L415.3 130.8 L415.8 130.8 L416.3 130.8 L416.8 130.8 L417.3 130.8 L417.8 130.8 L418.3 130.8 L418.8 130.8 L419.3 130.8 L419.8 130.8 L420.3 130.8 L420.8 130.8 L421.3 130.8 L421.8 130.8 L422.3 130.8 L422.8 130.8 L423.3 130.8 L423.8 130.8 L424.3 130.8 L424.8 130.8 L425.3 130.8 L425.8 130.8 L426.3 130.8 L426.8 130.8 L427.3 130.8 L427.8 130.8 L428.3 130.8 L428.8 130.8 L429.3 130.8 L429.8 130.8 L430.3 130.8 L430.8 130.8 L431.3 130.8 L431.8 130.8 L432.3 130.8 L432.8 130.8 L433.3 130.8 L433.8 130.8 L434.3 130.8 L434.8 130.8 L435.3 130.8 L435.8 130.8 L436.3 130.8 L436.8 130.8 L437.3 130.8 L437.8 130.8 L438.3 130.8 L438.8 130.8 L439.3 130.8 L439.8 130.8 L440.3 130.8 L440.8 130.8 L441.3 130.8 L441.8 130.8 L442.3 130.8 L442.8 130.8 L443.3 130.8 L443.8 130.8 L444.3 130.8 L444.8 130.8 L445.3 130.8 L445.8 130.8 L446.3 130.8 L446.8 130.8 L447.3 130.8 L447.8 130.8 L448.3 130.8 L448.8 130.8 L449.3 130.8 L449.8 130.8 L450.3 130.8 L450.8 130.8 L451.3 130.8 L451.8 130.8 L452.3 130.8 L452.8 130.8 L453.3 130.8 L453.8 130.8 L454.3 130.8 L454.8 130.8 L455.3 130.8 L455.8 130.8 L456.3 130.8 L456.8 130.8 L457 130.8" fill="none" stroke="#000" stroke-width="2.2" stroke-linejoin="round" stroke-linecap="round"/>
<text x="460" y="133.9" font-family='"Liberation Sans", sans-serif' font-size="11" font-weight="normal" text-anchor="start" fill="#000" textLength="31.2" lengthAdjust="spacingAndGlyphs">1 hour</text>
<path d="M197.8 145 L198.3 145 L198.8 145 L199.3 145 L199.8 145 L200.3 145 L200.8 145 L201.3 145 L201.8 145 L202.3 145 L202.8 145 L203.3 145 L203.8 145 L204.3 145 L204.8 145 L205.3 145 L205.8 145 L206.3 145 L206.8 145 L207.3 145 L207.8 145 L208.3 145 L208.8 145 L209.3 145 L209.8 145 L210.3 145 L210.8 145 L211.3 145 L211.8 145 L212.3 145 L212.8 145 L213.3 145 L213.8 145 L214.3 145 L214.8 145 L215.3 145 L215.8 145 L216.3 145 L216.8 145 L217.3 145 L217.8 145 L218.3 145 L218.8 145 L219.3 145 L219.8 145 L220.3 145 L220.8 145 L221.3 145 L221.8 145 L222.3 145 L222.8 145 L223.3 145 L223.8 145 L224.3 145 L224.8 145 L225.3 145 L225.8 145 L226.3 145 L226.8 145 L227.3 145 L227.8 145 L228.3 145 L228.8 145 L229.3 145 L229.8 145 L230.3 145 L230.8 145 L231.3 145 L231.8 145 L232.3 145 L232.8 145 L233.3 145 L233.8 145 L234.3 145 L234.8 145 L235.3 145 L235.8 145 L236.3 145 L236.8 145 L237.3 145 L237.8 145 L238.3 145 L238.8 145 L239.3 145 L239.8 145 L240.3 145 L240.8 145 L241.3 145 L241.8 145 L242.3 145 L242.8 145 L243.3 145 L243.8 145 L244.3 145 L244.8 145 L245.3 145 L245.8 145 L246.3 145 L246.8 145 L247.3 145 L247.8 145 L248.3 145 L248.8 145 L249.3 145 L249.8 145 L250.3 145 L250.8 145 L251.3 145 L251.8 145 L252.3 145 L252.8 145 L253.3 145 L253.8 145 L254.3 145 L254.8 145 L255.3 145 L255.8 145 L256.3 145 L256.8 145 L257.3 145 L257.8 145 L258.3 145 L258.8 145 L259.3 145 L259.8 145 L260.3 145 L260.8 145 L261.3 145 L261.8 145 L262.3 145 L262.8 145 L263.3 145 L263.8 145 L264.3 145 L264.8 145 L265.3 145 L265.8 145 L266.3 145 L266.8 145 L267.3 145 L267.8 145 L268.3 145 L268.8 145 L269.3 144.99 L269.8 144.98 L270.3 144.96 L270.8 144.9 L271.3 144.76 L271.8 144.48 L272.3 143.94 L272.8 142.96 L273.3 141.3 L273.8 138.71 L274.3 134.94 L274.8 129.9 L275.3 123.71 L275.8 116.8 L276.3 109.9 L276.8 103.96 L277.3 99.93 L277.8 98.5 L278.3 99.49 L278.8 102.35 L279.3 106.73 L279.8 112.1 L280.3 117.89 L280.8 123.58 L281.3 128.74 L281.8 133.09 L282.3 136.51 L282.8 139.02 L283.3 140.71 L283.8 141.74 L284.3 142.26 L284.8 142.43 L285.3 142.38 L285.8 142.23 L286.3 142.06 L286.8 141.9 L287.3 141.8 L287.8 141.77 L288.3 141.79 L288.8 141.85 L289.3 141.92 L289.8 141.98 L290.3 142.01 L290.8 141.99 L291.3 141.93 L291.8 141.83 L292.3 141.7 L292.8 141.56 L293.3 141.42 L293.8 141.3 L294.3 141.21 L294.8 141.17 L295.3 141.17 L295.8 141.22 L296.3 141.31 L296.8 141.43 L297.3 141.57 L297.8 141.7 L298.3 141.82 L298.8 141.9 L299.3 141.94 L299.8 141.93 L300.3 141.88 L300.8 141.79 L301.3 141.69 L301.8 141.6 L302.3 141.55 L302.8 141.56 L303.3 141.63 L303.8 141.77 L304.3 141.97 L304.8 142.18 L305.3 142.38 L305.8 142.49 L306.3 142.42 L306.8 142.06 L307.3 141.22 L307.8 139.67 L308.3 137.15 L308.8 133.41 L309.3 128.28 L309.8 121.78 L310.3 114.19 L310.8 106.13 L311.3 98.46 L311.8 92.21 L312.3 88.3 L312.8 87.35 L313.3 89.03 L313.8 92.9 L314.3 98.5 L314.8 105.18 L315.3 112.28 L315.8 119.16 L316.3 125.37 L316.8 130.63 L317.3 134.82 L317.8 137.99 L318.3 140.27 L318.8 141.85 L319.3 142.89 L319.8 143.57 L320.3 144 L320.8 144.27 L321.3 144.45 L321.8 144.58 L322.3 144.66 L322.8 144.73 L323.3 144.79 L323.8 144.83 L324.3 144.86 L324.8 144.89 L325.3 144.92 L325.8 144.94 L326.3 144.95 L326.8 144.96 L327.3 144.97 L327.8 144.98 L328.3 144.98 L328.8 144.99 L329.3 144.99 L329.8 144.99 L330.3 145 L330.8 145 L331.3 145 L331.8 145 L332.3 145 L332.8 145 L333.3 145 L333.8 145 L334.3 145 L334.8 145 L335.3 145 L335.8 145 L336.3 145 L336.8 145 L337.3 145 L337.8 145 L338.3 145 L338.8 145 L339.3 145 L339.8 145 L340.3 145 L340.8 145 L341.3 145 L341.8 145 L342.3 145 L342.8 145 L343.3 145 L343.8 145 L344.3 145 L344.8 145 L345.3 145 L345.8 145 L346.3 145 L346.8 145 L347.3 145 L347.8 145 L348.3 145 L348.8 145 L349.3 145 L349.8 145 L350.3 145 L350.8 145 L351.3 145 L351.8 145 L352.3 145 L352.8 145 L353.3 145 L353.8 145 L354.3 145 L354.8 145 L355.3 145 L355.8 145 L356.3 145 L356.8 145 L357.3 145 L357.8 145 L358.3 145 L358.8 145 L359.3 145 L359.8 145 L360.3 145 L360.8 145 L361.3 145 L361.8 145 L362.3 145 L362.8 145 L363.3 145 L363.8 145 L364.3 145 L364.8 144.99 L365.3 144.98 L365.8 144.94 L366.3 144.87 L366.8 144.72 L367.3 144.46 L367.8 144.07 L368.3 143.52 L368.8 142.88 L369.3 142.24 L369.8 141.74 L370.3 141.51 L370.8 141.61 L371.3 142.01 L371.8 142.61 L372.3 143.27 L372.8 143.86 L373.3 144.32 L373.8 144.63 L374.3 144.82 L374.8 144.92 L375.3 144.97 L375.8 144.99 L376.3 145 L376.8 145 L377.3 145 L377.8 145 L378.3 145 L378.8 145 L379.3 145 L379.8 145 L380.3 145 L380.8 145 L381.3 145 L381.8 145 L382.3 145 L382.8 145 L383.3 145 L383.8 145 L384.3 145 L384.8 145 L385.3 145 L385.8 145 L386.3 145 L386.8 145 L387.3 145 L387.8 145 L388.3 145 L388.8 145 L389.3 145 L389.8 145 L390.3 145 L390.8 145 L391.3 145 L391.8 145 L392.3 145 L392.8 145 L393.3 145 L393.8 145 L394.3 145 L394.8 145 L395.3 145 L395.8 145 L396.3 145 L396.8 145 L397.3 145 L397.8 145 L398.3 145 L398.8 145 L399.3 145 L399.8 145 L400.3 145 L400.8 145 L401.3 145 L401.8 145 L402.3 145 L402.8 145 L403.3 145 L403.8 145 L404.3 145 L404.8 145 L405.3 145 L405.8 145 L406.3 145 L406.8 145 L407.3 145 L407.8 145 L408.3 145 L408.8 145 L409.3 145 L409.8 145 L410.3 145 L410.8 145 L411.3 145 L411.8 145 L412.3 145 L412.8 145 L413.3 145 L413.8 145 L414.3 145 L414.8 145 L415.3 145 L415.8 145 L416.3 145 L416.8 145 L417.3 145 L417.8 145 L418.3 145 L418.8 145 L419.3 145 L419.8 145 L420.3 145 L420.8 145 L421.3 145 L421.8 145 L422.3 145 L422.8 145 L423.3 145 L423.8 145 L424.3 145 L424.8 145 L425.3 145 L425.8 145 L426.3 145 L426.8 145 L427.3 145 L427.8 145 L428.3 145 L428.8 145 L429.3 145 L429.8 145 L430.3 145 L430.8 145 L431.3 145 L431.8 145 L432.3 145 L432.8 145 L433.3 145 L433.8 145 L434.3 145 L434.8 145 L435.3 145 L435.8 145 L436.3 145 L436.8 145 L437.3 145 L437.8 145 L438.3 145 L438.8 145 L439.3 145 L439.8 145 L440.3 145 L440.8 145 L441.3 145 L441.8 145 L442.3 145 L442.8 145 L443.3 145 L443.8 145 L444.3 145 L444.8 145 L445.3 145 L445.8 145 L446.3 145 L446.8 145 L447.3 145 L447.8 145 L448.3 145 L448.8 145 L449.3 145 L449.8 145 L450.3 145 L450.8 145 L451.3 145 L451.8 145 L452.3 145 L452.8 145 L453.3 145 L453.8 145 L454.3 145 L454.8 145 L455.3 145 L455.8 145 L456.3 145 L456.8 145 L457.3 145 L457.8 145 L458.3 145 L458.8 145 L459.3 145 L459.8 145 L460.3 145 L460.8 145 L461.3 145 L461.8 145 L462.3 145 L462.8 145 L463.3 145 L463.8 145 L464.3 145 L464.8 145 L465.3 145 L465.8 145 L465.8 145" fill="none" stroke="#000" stroke-width="2.2" stroke-linejoin="round" stroke-linecap="round"/>
<text x="468.2" y="148.1" font-family='"Liberation Sans", sans-serif' font-size="11" font-weight="normal" text-anchor="start" fill="#000" textLength="31.8" lengthAdjust="spacingAndGlyphs">30 min</text>
<path d="M206.4 161.4 L206.9 161.4 L207.4 161.4 L207.9 161.39 L208.4 161.39 L208.9 161.39 L209.4 161.39 L209.9 161.39 L210.4 161.38 L210.9 161.38 L211.4 161.38 L211.9 161.38 L212.4 161.37 L212.9 161.37 L213.4 161.37 L213.9 161.37 L214.4 161.37 L214.9 161.36 L215.4 161.36 L215.9 161.36 L216.4 161.36 L216.9 161.36 L217.4 161.35 L217.9 161.35 L218.4 161.35 L218.9 161.35 L219.4 161.35 L219.9 161.34 L220.4 161.34 L220.9 161.34 L221.4 161.34 L221.9 161.33 L222.4 161.33 L222.9 161.33 L223.4 161.33 L223.9 161.33 L224.4 161.32 L224.9 161.32 L225.4 161.32 L225.9 161.32 L226.4 161.31 L226.9 161.31 L227.4 161.3 L227.9 161.29 L228.4 161.27 L228.9 161.25 L229.4 161.2 L229.9 161.15 L230.4 161.06 L230.9 160.96 L231.4 160.82 L231.9 160.66 L232.4 160.47 L232.9 160.28 L233.4 160.09 L233.9 159.92 L234.4 159.78 L234.9 159.7 L235.4 159.68 L235.9 159.72 L236.4 159.82 L236.9 159.97 L237.4 160.15 L237.9 160.34 L238.4 160.52 L238.9 160.7 L239.4 160.84 L239.9 160.96 L240.4 161.06 L240.9 161.12 L241.4 161.17 L241.9 161.2 L242.4 161.22 L242.9 161.23 L243.4 161.24 L243.9 161.24 L244.4 161.24 L244.9 161.24 L245.4 161.24 L245.9 161.23 L246.4 161.23 L246.9 161.23 L247.4 161.23 L247.9 161.23 L248.4 161.22 L248.9 161.22 L249.4 161.22 L249.9 161.22 L250.4 161.22 L250.9 161.21 L251.4 161.21 L251.9 161.21 L252.4 161.21 L252.9 161.2 L253.4 161.2 L253.9 161.2 L254.4 161.2 L254.9 161.2 L255.4 161.19 L255.9 161.19 L256.4 161.19 L256.9 161.19 L257.4 161.19 L257.9 161.18 L258.4 161.18 L258.9 161.18 L259.4 161.18 L259.9 161.18 L260.4 161.17 L260.9 161.17 L261.4 161.17 L261.9 161.17 L262.4 161.16 L262.9 161.16 L263.4 161.16 L263.9 161.16 L264.4 161.16 L264.9 161.15 L265.4 161.15 L265.9 161.15 L266.4 161.15 L266.9 161.15 L267.4 161.14 L267.9 161.14 L268.4 161.14 L268.9 161.14 L269.4 161.14 L269.9 161.13 L270.4 161.13 L270.9 161.13 L271.4 161.13 L271.9 161.12 L272.4 161.12 L272.9 161.12 L273.4 161.12 L273.9 161.12 L274.4 161.11 L274.9 161.11 L275.4 161.11 L275.9 161.11 L276.4 161.11 L276.9 161.1 L277.4 161.1 L277.9 161.1 L278.4 161.1 L278.9 161.1 L279.4 161.09 L279.9 161.09 L280.4 161.09 L280.9 161.09 L281.4 161.09 L281.9 161.08 L282.4 161.08 L282.9 161.08 L283.4 161.08 L283.9 161.07 L284.4 161.07 L284.9 161.07 L285.4 161.07 L285.9 161.07 L286.4 161.06 L286.9 161.06 L287.4 161.06 L287.9 161.06 L288.4 161.06 L288.9 161.05 L289.4 161.05 L289.9 161.05 L290.4 161.05 L290.9 161.05 L291.4 161.04 L291.9 161.04 L292.4 161.04 L292.9 161.04 L293.4 161.03 L293.9 161.03 L294.4 161.03 L294.9 161.03 L295.4 161.03 L295.9 161.02 L296.4 161.02 L296.9 161.02 L297.4 161.02 L297.9 161.02 L298.4 161.01 L298.9 161.01 L299.4 161.01 L299.9 161.01 L300.4 161.01 L300.9 161 L301.4 161 L301.9 161 L302.4 161 L302.9 160.99 L303.4 160.99 L303.9 160.99 L304.4 160.99 L304.9 160.99 L305.4 160.98 L305.9 160.98 L306.4 160.98 L306.9 160.98 L307.4 160.98 L307.9 160.97 L308.4 160.97 L308.9 160.97 L309.4 160.97 L309.9 160.97 L310.4 160.96 L310.9 160.96 L311.4 160.96 L311.9 160.96 L312.4 160.95 L312.9 160.95 L313.4 160.95 L313.9 160.95 L314.4 160.95 L314.9 160.94 L315.4 160.94 L315.9 160.94 L316.4 160.93 L316.9 160.93 L317.4 160.92 L317.9 160.92 L318.4 160.9 L318.9 160.88 L319.4 160.85 L319.9 160.81 L320.4 160.76 L320.9 160.68 L321.4 160.58 L321.9 160.45 L322.4 160.29 L322.9 160.1 L323.4 159.88 L323.9 159.64 L324.4 159.39 L324.9 159.14 L325.4 158.9 L325.9 158.69 L326.4 158.53 L326.9 158.43 L327.4 158.39 L327.9 158.42 L328.4 158.52 L328.9 158.68 L329.4 158.88 L329.9 159.11 L330.4 159.36 L330.9 159.61 L331.4 159.85 L331.9 160.06 L332.4 160.25 L332.9 160.4 L333.4 160.53 L333.9 160.63 L334.4 160.7 L334.9 160.75 L335.4 160.79 L335.9 160.81 L336.4 160.83 L336.9 160.84 L337.4 160.84 L337.9 160.84 L338.4 160.84 L338.9 160.84 L339.4 160.84 L339.9 160.84 L340.4 160.84 L340.9 160.83 L341.4 160.83 L341.9 160.83 L342.4 160.83 L342.9 160.82 L343.4 160.81 L343.9 160.78 L344.4 160.7 L344.9 160.5 L345.4 160.11 L345.9 159.44 L346.4 158.5 L346.9 157.46 L347.4 156.63 L347.9 156.31 L348.4 156.62 L348.9 157.45 L349.4 158.49 L349.9 159.42 L350.4 160.09 L350.9 160.48 L351.4 160.67 L351.9 160.75 L352.4 160.78 L352.9 160.78 L353.4 160.78 L353.9 160.78 L354.4 160.78 L354.9 160.78 L355.4 160.77 L355.9 160.77 L356.4 160.77 L356.9 160.77 L357.4 160.76 L357.9 160.76 L358.4 160.76 L358.9 160.75 L359.4 160.75 L359.9 160.74 L360.4 160.74 L360.9 160.73 L361.4 160.72 L361.9 160.71 L362.4 160.7 L362.9 160.68 L363.4 160.66 L363.9 160.64 L364.4 160.61 L364.9 160.58 L365.4 160.54 L365.9 160.49 L366.4 160.44 L366.9 160.37 L367.4 160.3 L367.9 160.22 L368.4 160.13 L368.9 160.03 L369.4 159.91 L369.9 159.78 L370.4 159.63 L370.9 159.45 L371.4 159.18 L371.9 158.77 L372.4 158.06 L372.9 156.82 L373.4 154.72 L373.9 151.33 L374.4 146.24 L374.9 139.15 L375.4 130.14 L375.9 119.78 L376.4 109.18 L376.9 99.88 L377.4 93.47 L377.9 91.18 L378.4 93.05 L378.9 98.35 L379.4 106.27 L379.9 115.64 L380.4 125.27 L380.9 134.17 L381.4 141.69 L381.9 147.59 L382.4 151.88 L382.9 154.83 L383.4 156.74 L383.9 157.92 L384.4 158.65 L384.9 159.09 L385.4 159.37 L385.9 159.57 L386.4 159.73 L386.9 159.86 L387.4 159.97 L387.9 160.06 L388.4 160.15 L388.9 160.23 L389.4 160.29 L389.9 160.35 L390.4 160.4 L390.9 160.44 L391.4 160.47 L391.9 160.5 L392.4 160.52 L392.9 160.54 L393.4 160.56 L393.9 160.57 L394.4 160.58 L394.9 160.58 L395.4 160.59 L395.9 160.59 L396.4 160.59 L396.9 160.59 L397.4 160.59 L397.9 160.59 L398.4 160.59 L398.9 160.59 L399.4 160.59 L399.9 160.59 L400.4 160.58 L400.9 160.58 L401.4 160.58 L401.9 160.58 L402.4 160.58 L402.9 160.57 L403.4 160.57 L403.9 160.57 L404.4 160.57 L404.9 160.57 L405.4 160.56 L405.9 160.56 L406.4 160.56 L406.9 160.56 L407.4 160.56 L407.9 160.55 L408.4 160.55 L408.9 160.55 L409.4 160.55 L409.9 160.55 L410.4 160.54 L410.9 160.54 L411.4 160.54 L411.9 160.54 L412.4 160.53 L412.9 160.53 L413.4 160.53 L413.9 160.53 L414.4 160.53 L414.9 160.52 L415.4 160.52 L415.9 160.52 L416.4 160.52 L416.9 160.52 L417.4 160.51 L417.9 160.51 L418.4 160.51 L418.9 160.51 L419.4 160.51 L419.9 160.5 L420.4 160.5 L420.9 160.5 L421.4 160.5 L421.9 160.49 L422.4 160.49 L422.9 160.49 L423.4 160.49 L423.9 160.49 L424.4 160.48 L424.9 160.48 L425.4 160.48 L425.9 160.48 L426.4 160.48 L426.9 160.47 L427.4 160.47 L427.9 160.47 L428.4 160.47 L428.9 160.47 L429.4 160.46 L429.9 160.46 L430.4 160.46 L430.9 160.46 L431.4 160.46 L431.9 160.45 L432.4 160.45 L432.9 160.45 L433.4 160.45 L433.9 160.44 L434.4 160.44 L434.9 160.44 L435.4 160.44 L435.9 160.44 L436.4 160.43 L436.9 160.43 L437.4 160.43 L437.9 160.43 L438.4 160.43 L438.9 160.42 L439.4 160.42 L439.9 160.42 L440.4 160.42 L440.9 160.42 L441.4 160.41 L441.9 160.41 L442.4 160.41 L442.9 160.41 L443.4 160.4 L443.9 160.4 L444.4 160.4 L444.9 160.4 L445.4 160.4 L445.9 160.39 L446.4 160.39 L446.9 160.39 L447.4 160.39 L447.9 160.39 L448.4 160.38 L448.9 160.38 L449.4 160.38 L449.9 160.38 L450.4 160.38 L450.9 160.37 L451.4 160.37 L451.9 160.37 L452.4 160.37 L452.9 160.36 L453.4 160.36 L453.9 160.36 L454.4 160.36 L454.9 160.36 L455.4 160.35 L455.9 160.35 L456.4 160.35 L456.9 160.35 L457.4 160.35 L457.9 160.34 L458.4 160.34 L458.9 160.34 L459.4 160.34 L459.9 160.34 L460.4 160.33 L460.9 160.33 L461.4 160.33 L461.9 160.33 L462.4 160.32 L462.9 160.32 L463.4 160.32 L463.9 160.32 L464.4 160.32 L464.9 160.31 L465.4 160.31 L465.9 160.31 L466.4 160.31 L466.9 160.31 L467.4 160.3 L467.9 160.3 L468.4 160.3 L468.9 160.3 L469.4 160.3 L469.9 160.29 L470.4 160.29 L470.9 160.29 L471.4 160.29 L471.9 160.28 L472.4 160.28 L472.9 160.28 L473.4 160.28 L473.9 160.28 L474.4 160.27 L474.6 160.27" fill="none" stroke="#000" stroke-width="2.2" stroke-linejoin="round" stroke-linecap="round"/>
<text x="477.5" y="163.37" font-family='"Liberation Sans", sans-serif' font-size="11" font-weight="normal" text-anchor="start" fill="#000" textLength="31.0" lengthAdjust="spacingAndGlyphs">Time 0</text>
<line x1="333.6" y1="60" x2="318.8" y2="79" stroke="#000" stroke-width="1.3"/>
<path d="M314.9 84.0 L316.3 76.3 L322.1 80.6 Z" fill="#000"/>
<text x="1" y="192.8" font-family='"Liberation Serif", serif' font-size="19" font-weight="normal" text-anchor="start" fill="#000" >B)</text>
<path d="M83.6 191.2 L284.9 191.2 L284.9 393.6 L83.6 393.6 Z" fill="none" stroke="#000" stroke-width="1.8"/>
<line x1="78" y1="393.3" x2="83.6" y2="393.3" stroke="#000" stroke-width="1.6"/>
<text x="76.6" y="397.6" font-family='"Liberation Sans", sans-serif' font-size="12" font-weight="bold" text-anchor="end" fill="#000" >0</text>
<line x1="78" y1="352.88" x2="83.6" y2="352.88" stroke="#000" stroke-width="1.6"/>
<text x="76.6" y="357.18" font-family='"Liberation Sans", sans-serif' font-size="12" font-weight="bold" text-anchor="end" fill="#000" >20</text>
<line x1="78" y1="312.46" x2="83.6" y2="312.46" stroke="#000" stroke-width="1.6"/>
<text x="76.6" y="316.76" font-family='"Liberation Sans", sans-serif' font-size="12" font-weight="bold" text-anchor="end" fill="#000" >40</text>
<line x1="78" y1="272.04" x2="83.6" y2="272.04" stroke="#000" stroke-width="1.6"/>
<text x="76.6" y="276.34" font-family='"Liberation Sans", sans-serif' font-size="12" font-weight="bold" text-anchor="end" fill="#000" >60</text>
<line x1="78" y1="231.62" x2="83.6" y2="231.62" stroke="#000" stroke-width="1.6"/>
<text x="76.6" y="235.92" font-family='"Liberation Sans", sans-serif' font-size="12" font-weight="bold" text-anchor="end" fill="#000" >80</text>
<line x1="78" y1="191.2" x2="83.6" y2="191.2" stroke="#000" stroke-width="1.6"/>
<text x="76.6" y="195.5" font-family='"Liberation Sans", sans-serif' font-size="12" font-weight="bold" text-anchor="end" fill="#000" >100</text>
<line x1="85.5" y1="393.6" x2="85.5" y2="398.8" stroke="#000" stroke-width="1.6"/>
<text x="85.5" y="411.2" font-family='"Liberation Sans", sans-serif' font-size="12" font-weight="bold" text-anchor="middle" fill="#000" >0</text>
<line x1="113.55" y1="393.6" x2="113.55" y2="398.8" stroke="#000" stroke-width="1.6"/>
<text x="113.55" y="411.2" font-family='"Liberation Sans", sans-serif' font-size="12" font-weight="bold" text-anchor="middle" fill="#000" >1</text>
<line x1="141.6" y1="393.6" x2="141.6" y2="398.8" stroke="#000" stroke-width="1.6"/>
<text x="141.6" y="411.2" font-family='"Liberation Sans", sans-serif' font-size="12" font-weight="bold" text-anchor="middle" fill="#000" >2</text>
<line x1="169.65" y1="393.6" x2="169.65" y2="398.8" stroke="#000" stroke-width="1.6"/>
<text x="169.65" y="411.2" font-family='"Liberation Sans", sans-serif' font-size="12" font-weight="bold" text-anchor="middle" fill="#000" >3</text>
<line x1="197.7" y1="393.6" x2="197.7" y2="398.8" stroke="#000" stroke-width="1.6"/>
<text x="197.7" y="411.2" font-family='"Liberation Sans", sans-serif' font-size="12" font-weight="bold" text-anchor="middle" fill="#000" >4</text>
<line x1="225.75" y1="393.6" x2="225.75" y2="398.8" stroke="#000" stroke-width="1.6"/>
<text x="225.75" y="411.2" font-family='"Liberation Sans", sans-serif' font-size="12" font-weight="bold" text-anchor="middle" fill="#000" >5</text>
<line x1="253.8" y1="393.6" x2="253.8" y2="398.8" stroke="#000" stroke-width="1.6"/>
<text x="253.8" y="411.2" font-family='"Liberation Sans", sans-serif' font-size="12" font-weight="bold" text-anchor="middle" fill="#000" >6</text>
<line x1="281.85" y1="393.6" x2="281.85" y2="398.8" stroke="#000" stroke-width="1.6"/>
<text x="281.85" y="411.2" font-family='"Liberation Sans", sans-serif' font-size="12" font-weight="bold" text-anchor="middle" fill="#000" >7</text>
<text x="184.2" y="431" font-family='"Liberation Sans", sans-serif' font-size="13.6" font-weight="bold" text-anchor="middle" fill="#000" >Time (hours)</text>
<text x="0" y="0" font-family='"Liberation Sans", sans-serif' font-size="14.3" font-weight="bold" text-anchor="middle" fill="#000" transform="translate(48.2 292.5) rotate(-90)">% Peak Area</text>
<circle cx="99.53" cy="378.75" r="4.1" fill="#138513"/>
<circle cx="113.55" cy="366.42" r="4.1" fill="#138513"/>
<circle cx="169.65" cy="321.15" r="4.1" fill="#138513"/>
<circle cx="225.75" cy="279.72" r="4.1" fill="#138513"/>
<circle cx="281.85" cy="251.63" r="4.1" fill="#138513"/>
<path d="M99.53 220.21 L103.73 227.77 L95.33 227.77 Z" fill="#8e0c0c"/>
<path d="M113.55 238.81 L117.75 246.37 L109.35 246.37 Z" fill="#8e0c0c"/>
<path d="M169.65 306.31 L173.85 313.87 L165.45 313.87 Z" fill="#8e0c0c"/>
<path d="M225.75 337.23 L229.95 344.79 L221.55 344.79 Z" fill="#8e0c0c"/>
<path d="M281.85 362.49 L286.05 370.05 L277.65 370.05 Z" fill="#8e0c0c"/>
<rect x="81.35" y="389.15" width="8.3" height="8.3" fill="#0f3f8c"/>
<rect x="95.38" y="373.18" width="8.3" height="8.3" fill="#0f3f8c"/>
<rect x="109.4" y="366.11" width="8.3" height="8.3" fill="#0f3f8c"/>
<rect x="165.5" y="353.98" width="8.3" height="8.3" fill="#0f3f8c"/>
<rect x="221.6" y="354.19" width="8.3" height="8.3" fill="#0f3f8c"/>
<rect x="277.7" y="356.81" width="8.3" height="8.3" fill="#0f3f8c"/>
<path d="M85.5 393.3 L86.16 393.29 L86.83 393.26 L87.49 393.21 L88.16 393.15 L88.82 393.06 L89.48 392.96 L90.15 392.84 L90.81 392.71 L91.47 392.55 L92.14 392.39 L92.8 392.2 L93.47 392 L94.13 391.79 L94.79 391.56 L95.46 391.31 L96.12 391.06 L96.79 390.79 L97.45 390.5 L98.11 390.2 L98.78 389.89 L99.44 389.57 L100.1 389.24 L100.77 388.89 L101.43 388.53 L102.1 388.16 L102.76 387.78 L103.42 387.39 L104.09 386.99 L104.75 386.57 L105.42 386.15 L106.08 385.72 L106.74 385.28 L107.41 384.83 L108.07 384.37 L108.73 383.9 L109.4 383.43 L110.06 382.94 L110.73 382.45 L111.39 381.95 L112.05 381.44 L112.72 380.92 L113.38 380.4 L114.05 379.87 L114.71 379.33 L115.37 378.79 L116.04 378.24 L116.7 377.69 L117.36 377.12 L118.03 376.56 L118.69 375.98 L119.36 375.41 L120.02 374.82 L120.68 374.23 L121.35 373.64 L122.01 373.04 L122.68 372.44 L123.34 371.83 L124 371.22 L124.67 370.6 L125.33 369.98 L125.99 369.36 L126.66 368.73 L127.32 368.1 L127.99 367.46 L128.65 366.82 L129.31 366.18 L129.98 365.54 L130.64 364.89 L131.31 364.24 L131.97 363.59 L132.63 362.93 L133.3 362.27 L133.96 361.61 L134.62 360.95 L135.29 360.29 L135.95 359.62 L136.62 358.95 L137.28 358.28 L137.94 357.61 L138.61 356.93 L139.27 356.26 L139.94 355.58 L140.6 354.91 L141.26 354.23 L141.93 353.55 L142.59 352.87 L143.25 352.18 L143.92 351.5 L144.58 350.82 L145.25 350.13 L145.91 349.45 L146.57 348.76 L147.24 348.08 L147.9 347.39 L148.57 346.71 L149.23 346.02 L149.89 345.33 L150.56 344.65 L151.22 343.96 L151.88 343.27 L152.55 342.59 L153.21 341.9 L153.88 341.21 L154.54 340.53 L155.2 339.84 L155.87 339.16 L156.53 338.47 L157.2 337.79 L157.86 337.1 L158.52 336.42 L159.19 335.74 L159.85 335.06 L160.52 334.38 L161.18 333.7 L161.84 333.02 L162.51 332.34 L163.17 331.66 L163.83 330.99 L164.5 330.31 L165.16 329.64 L165.83 328.97 L166.49 328.29 L167.15 327.62 L167.82 326.96 L168.48 326.29 L169.15 325.62 L169.81 324.96 L170.47 324.29 L171.14 323.63 L171.8 322.97 L172.46 322.31 L173.13 321.65 L173.79 321 L174.46 320.34 L175.12 319.69 L175.78 319.04 L176.45 318.39 L177.11 317.74 L177.78 317.1 L178.44 316.45 L179.1 315.81 L179.77 315.17 L180.43 314.53 L181.09 313.89 L181.76 313.26 L182.42 312.63 L183.09 312 L183.75 311.37 L184.41 310.74 L185.08 310.11 L185.74 309.49 L186.41 308.87 L187.07 308.25 L187.73 307.63 L188.4 307.02 L189.06 306.4 L189.72 305.79 L190.39 305.18 L191.05 304.58 L191.72 303.97 L192.38 303.37 L193.04 302.77 L193.71 302.17 L194.37 301.58 L195.04 300.98 L195.7 300.39 L196.36 299.8 L197.03 299.21 L197.69 298.63 L198.35 298.04 L199.02 297.46 L199.68 296.89 L200.35 296.31 L201.01 295.74 L201.67 295.16 L202.34 294.6 L203 294.03 L203.67 293.46 L204.33 292.9 L204.99 292.34 L205.66 291.78 L206.32 291.23 L206.98 290.67 L207.65 290.12 L208.31 289.57 L208.98 289.03 L209.64 288.48 L210.3 287.94 L210.97 287.4 L211.63 286.87 L212.3 286.33 L212.96 285.8 L213.62 285.27 L214.29 284.74 L214.95 284.22 L215.61 283.69 L216.28 283.17 L216.94 282.65 L217.61 282.14 L218.27 281.62 L218.93 281.11 L219.6 280.6 L220.26 280.1 L220.93 279.59 L221.59 279.09 L222.25 278.59 L222.92 278.09 L223.58 277.6 L224.24 277.11 L224.91 276.62 L225.57 276.13 L226.24 275.64 L226.9 275.16 L227.56 274.68 L228.23 274.2 L228.89 273.72 L229.56 273.25 L230.22 272.78 L230.88 272.31 L231.55 271.84 L232.21 271.37 L232.87 270.91 L233.54 270.45 L234.2 269.99 L234.87 269.54 L235.53 269.08 L236.19 268.63 L236.86 268.18 L237.52 267.73 L238.19 267.29 L238.85 266.85 L239.51 266.41 L240.18 265.97 L240.84 265.53 L241.5 265.1 L242.17 264.67 L242.83 264.24 L243.5 263.81 L244.16 263.39 L244.82 262.96 L245.49 262.54 L246.15 262.12 L246.82 261.71 L247.48 261.29 L248.14 260.88 L248.81 260.47 L249.47 260.06 L250.13 259.66 L250.8 259.26 L251.46 258.85 L252.13 258.46 L252.79 258.06 L253.45 257.66 L254.12 257.27 L254.78 256.88 L255.45 256.49 L256.11 256.1 L256.77 255.72 L257.44 255.34 L258.1 254.96 L258.76 254.58 L259.43 254.2 L260.09 253.83 L260.76 253.45 L261.42 253.08 L262.08 252.72 L262.75 252.35 L263.41 251.99 L264.08 251.62 L264.74 251.26 L265.4 250.9 L266.07 250.55 L266.73 250.19 L267.39 249.84 L268.06 249.49 L268.72 249.14 L269.39 248.79 L270.05 248.45 L270.71 248.11 L271.38 247.76 L272.04 247.43 L272.71 247.09 L273.37 246.75 L274.03 246.42 L274.7 246.09 L275.36 245.76 L276.02 245.43 L276.69 245.1 L277.35 244.78 L278.02 244.46 L278.68 244.13 L279.34 243.82 L280.01 243.5 L280.67 243.18 L281.34 242.87 L282 242.56 L282.66 242.25 L283.33 241.94 L283.99 241.63 L284.65 241.33" fill="none" stroke="#787818" stroke-width="1.9" stroke-linejoin="round"/>
<path d="M85.5 393.3 L86.16 392.04 L86.83 390.8 L87.49 389.59 L88.16 388.41 L88.82 387.25 L89.48 386.12 L90.15 385.01 L90.81 383.93 L91.47 382.87 L92.14 381.84 L92.8 380.83 L93.47 379.84 L94.13 378.87 L94.79 377.93 L95.46 377.01 L96.12 376.11 L96.79 375.23 L97.45 374.37 L98.11 373.53 L98.78 372.71 L99.44 371.91 L100.1 371.13 L100.77 370.37 L101.43 369.63 L102.1 368.91 L102.76 368.2 L103.42 367.51 L104.09 366.84 L104.75 366.19 L105.42 365.55 L106.08 364.93 L106.74 364.32 L107.41 363.73 L108.07 363.16 L108.73 362.6 L109.4 362.05 L110.06 361.53 L110.73 361.01 L111.39 360.51 L112.05 360.02 L112.72 359.55 L113.38 359.09 L114.05 358.64 L114.71 358.21 L115.37 357.79 L116.04 357.38 L116.7 356.98 L117.36 356.6 L118.03 356.23 L118.69 355.87 L119.36 355.52 L120.02 355.18 L120.68 354.85 L121.35 354.53 L122.01 354.23 L122.68 353.93 L123.34 353.65 L124 353.37 L124.67 353.1 L125.33 352.85 L125.99 352.6 L126.66 352.36 L127.32 352.13 L127.99 351.91 L128.65 351.7 L129.31 351.5 L129.98 351.3 L130.64 351.12 L131.31 350.94 L131.97 350.77 L132.63 350.61 L133.3 350.45 L133.96 350.31 L134.62 350.17 L135.29 350.03 L135.95 349.91 L136.62 349.79 L137.28 349.68 L137.94 349.57 L138.61 349.47 L139.27 349.38 L139.94 349.29 L140.6 349.21 L141.26 349.14 L141.93 349.07 L142.59 349 L143.25 348.95 L143.92 348.89 L144.58 348.85 L145.25 348.81 L145.91 348.77 L146.57 348.74 L147.24 348.71 L147.9 348.69 L148.57 348.68 L149.23 348.66 L149.89 348.66 L150.56 348.65 L151.22 348.65 L151.88 348.66 L152.55 348.67 L153.21 348.68 L153.88 348.7 L154.54 348.72 L155.2 348.75 L155.87 348.78 L156.53 348.81 L157.2 348.85 L157.86 348.89 L158.52 348.93 L159.19 348.98 L159.85 349.03 L160.52 349.08 L161.18 349.14 L161.84 349.2 L162.51 349.26 L163.17 349.33 L163.83 349.39 L164.5 349.47 L165.16 349.54 L165.83 349.62 L166.49 349.69 L167.15 349.78 L167.82 349.86 L168.48 349.95 L169.15 350.03 L169.81 350.12 L170.47 350.22 L171.14 350.31 L171.8 350.41 L172.46 350.51 L173.13 350.61 L173.79 350.71 L174.46 350.82 L175.12 350.92 L175.78 351.03 L176.45 351.14 L177.11 351.26 L177.78 351.37 L178.44 351.48 L179.1 351.6 L179.77 351.72 L180.43 351.84 L181.09 351.96 L181.76 352.08 L182.42 352.21 L183.09 352.33 L183.75 352.46 L184.41 352.59 L185.08 352.71 L185.74 352.84 L186.41 352.98 L187.07 353.11 L187.73 353.24 L188.4 353.38 L189.06 353.51 L189.72 353.65 L190.39 353.78 L191.05 353.92 L191.72 354.06 L192.38 354.2 L193.04 354.34 L193.71 354.48 L194.37 354.62 L195.04 354.76 L195.7 354.91 L196.36 355.05 L197.03 355.19 L197.69 355.34 L198.35 355.48 L199.02 355.63 L199.68 355.78 L200.35 355.92 L201.01 356.07 L201.67 356.22 L202.34 356.37 L203 356.51 L203.67 356.66 L204.33 356.81 L204.99 356.96 L205.66 357.11 L206.32 357.26 L206.98 357.41 L207.65 357.56 L208.31 357.71 L208.98 357.86 L209.64 358.01 L210.3 358.17 L210.97 358.32 L211.63 358.47 L212.3 358.62 L212.96 358.77 L213.62 358.92 L214.29 359.07 L214.95 359.23 L215.61 359.38 L216.28 359.53 L216.94 359.68 L217.61 359.83 L218.27 359.98 L218.93 360.14 L219.6 360.29 L220.26 360.44 L220.93 360.59 L221.59 360.74 L222.25 360.89 L222.92 361.04 L223.58 361.19 L224.24 361.35 L224.91 361.5 L225.57 361.65 L226.24 361.8 L226.9 361.95 L227.56 362.1 L228.23 362.25 L228.89 362.4 L229.56 362.54 L230.22 362.69 L230.88 362.84 L231.55 362.99 L232.21 363.14 L232.87 363.29 L233.54 363.43 L234.2 363.58 L234.87 363.73 L235.53 363.87 L236.19 364.02 L236.86 364.17 L237.52 364.31 L238.19 364.46 L238.85 364.6 L239.51 364.75 L240.18 364.89 L240.84 365.04 L241.5 365.18 L242.17 365.32 L242.83 365.46 L243.5 365.61 L244.16 365.75 L244.82 365.89 L245.49 366.03 L246.15 366.17 L246.82 366.31 L247.48 366.45 L248.14 366.59 L248.81 366.73 L249.47 366.87 L250.13 367.01 L250.8 367.15 L251.46 367.28 L252.13 367.42 L252.79 367.56 L253.45 367.69 L254.12 367.83 L254.78 367.96 L255.45 368.1 L256.11 368.23 L256.77 368.37 L257.44 368.5 L258.1 368.63 L258.76 368.76 L259.43 368.9 L260.09 369.03 L260.76 369.16 L261.42 369.29 L262.08 369.42 L262.75 369.55 L263.41 369.68 L264.08 369.8 L264.74 369.93 L265.4 370.06 L266.07 370.19 L266.73 370.31 L267.39 370.44 L268.06 370.56 L268.72 370.69 L269.39 370.81 L270.05 370.94 L270.71 371.06 L271.38 371.18 L272.04 371.31 L272.71 371.43 L273.37 371.55 L274.03 371.67 L274.7 371.79 L275.36 371.91 L276.02 372.03 L276.69 372.15 L277.35 372.27 L278.02 372.38 L278.68 372.5 L279.34 372.62 L280.01 372.73 L280.67 372.85 L281.34 372.96 L282 373.08 L282.66 373.19 L283.33 373.31 L283.99 373.42 L284.65 373.53" fill="none" stroke="#2586e6" stroke-width="1.9" stroke-linejoin="round"/>
<path d="M85.5 191.2 L86.16 192.47 L86.83 193.74 L87.49 195 L88.16 196.24 L88.82 197.49 L89.48 198.72 L90.15 199.94 L90.81 201.16 L91.47 202.37 L92.14 203.58 L92.8 204.77 L93.47 205.96 L94.13 207.14 L94.79 208.31 L95.46 209.48 L96.12 210.63 L96.79 211.78 L97.45 212.93 L98.11 214.06 L98.78 215.19 L99.44 216.32 L100.1 217.43 L100.77 218.54 L101.43 219.64 L102.1 220.73 L102.76 221.82 L103.42 222.9 L104.09 223.97 L104.75 225.04 L105.42 226.1 L106.08 227.15 L106.74 228.2 L107.41 229.24 L108.07 230.27 L108.73 231.3 L109.4 232.32 L110.06 233.33 L110.73 234.34 L111.39 235.34 L112.05 236.34 L112.72 237.33 L113.38 238.31 L114.05 239.29 L114.71 240.26 L115.37 241.22 L116.04 242.18 L116.7 243.13 L117.36 244.08 L118.03 245.02 L118.69 245.95 L119.36 246.88 L120.02 247.8 L120.68 248.72 L121.35 249.63 L122.01 250.53 L122.68 251.43 L123.34 252.33 L124 253.21 L124.67 254.1 L125.33 254.97 L125.99 255.84 L126.66 256.71 L127.32 257.57 L127.99 258.43 L128.65 259.27 L129.31 260.12 L129.98 260.96 L130.64 261.79 L131.31 262.62 L131.97 263.44 L132.63 264.26 L133.3 265.07 L133.96 265.88 L134.62 266.68 L135.29 267.48 L135.95 268.27 L136.62 269.06 L137.28 269.84 L137.94 270.62 L138.61 271.39 L139.27 272.16 L139.94 272.93 L140.6 273.68 L141.26 274.44 L141.93 275.19 L142.59 275.93 L143.25 276.67 L143.92 277.4 L144.58 278.13 L145.25 278.86 L145.91 279.58 L146.57 280.3 L147.24 281.01 L147.9 281.72 L148.57 282.42 L149.23 283.12 L149.89 283.81 L150.56 284.5 L151.22 285.19 L151.88 285.87 L152.55 286.54 L153.21 287.22 L153.88 287.88 L154.54 288.55 L155.2 289.21 L155.87 289.86 L156.53 290.52 L157.2 291.16 L157.86 291.81 L158.52 292.45 L159.19 293.08 L159.85 293.71 L160.52 294.34 L161.18 294.96 L161.84 295.58 L162.51 296.2 L163.17 296.81 L163.83 297.42 L164.5 298.02 L165.16 298.62 L165.83 299.22 L166.49 299.81 L167.15 300.4 L167.82 300.99 L168.48 301.57 L169.15 302.14 L169.81 302.72 L170.47 303.29 L171.14 303.86 L171.8 304.42 L172.46 304.98 L173.13 305.54 L173.79 306.09 L174.46 306.64 L175.12 307.18 L175.78 307.73 L176.45 308.27 L177.11 308.8 L177.78 309.33 L178.44 309.86 L179.1 310.39 L179.77 310.91 L180.43 311.43 L181.09 311.94 L181.76 312.46 L182.42 312.97 L183.09 313.47 L183.75 313.98 L184.41 314.47 L185.08 314.97 L185.74 315.46 L186.41 315.96 L187.07 316.44 L187.73 316.93 L188.4 317.41 L189.06 317.89 L189.72 318.36 L190.39 318.83 L191.05 319.3 L191.72 319.77 L192.38 320.23 L193.04 320.69 L193.71 321.15 L194.37 321.6 L195.04 322.05 L195.7 322.5 L196.36 322.95 L197.03 323.39 L197.69 323.83 L198.35 324.27 L199.02 324.71 L199.68 325.14 L200.35 325.57 L201.01 325.99 L201.67 326.42 L202.34 326.84 L203 327.26 L203.67 327.67 L204.33 328.09 L204.99 328.5 L205.66 328.91 L206.32 329.31 L206.98 329.71 L207.65 330.12 L208.31 330.51 L208.98 330.91 L209.64 331.3 L210.3 331.69 L210.97 332.08 L211.63 332.47 L212.3 332.85 L212.96 333.23 L213.62 333.61 L214.29 333.98 L214.95 334.36 L215.61 334.73 L216.28 335.1 L216.94 335.46 L217.61 335.83 L218.27 336.19 L218.93 336.55 L219.6 336.91 L220.26 337.26 L220.93 337.62 L221.59 337.97 L222.25 338.32 L222.92 338.66 L223.58 339.01 L224.24 339.35 L224.91 339.69 L225.57 340.03 L226.24 340.36 L226.9 340.69 L227.56 341.03 L228.23 341.36 L228.89 341.68 L229.56 342.01 L230.22 342.33 L230.88 342.65 L231.55 342.97 L232.21 343.29 L232.87 343.6 L233.54 343.92 L234.2 344.23 L234.87 344.54 L235.53 344.84 L236.19 345.15 L236.86 345.45 L237.52 345.75 L238.19 346.05 L238.85 346.35 L239.51 346.65 L240.18 346.94 L240.84 347.23 L241.5 347.52 L242.17 347.81 L242.83 348.1 L243.5 348.38 L244.16 348.66 L244.82 348.95 L245.49 349.23 L246.15 349.5 L246.82 349.78 L247.48 350.05 L248.14 350.33 L248.81 350.6 L249.47 350.87 L250.13 351.13 L250.8 351.4 L251.46 351.66 L252.13 351.92 L252.79 352.18 L253.45 352.44 L254.12 352.7 L254.78 352.96 L255.45 353.21 L256.11 353.46 L256.77 353.71 L257.44 353.96 L258.1 354.21 L258.76 354.46 L259.43 354.7 L260.09 354.95 L260.76 355.19 L261.42 355.43 L262.08 355.67 L262.75 355.9 L263.41 356.14 L264.08 356.37 L264.74 356.61 L265.4 356.84 L266.07 357.07 L266.73 357.29 L267.39 357.52 L268.06 357.75 L268.72 357.97 L269.39 358.19 L270.05 358.41 L270.71 358.63 L271.38 358.85 L272.04 359.07 L272.71 359.28 L273.37 359.5 L274.03 359.71 L274.7 359.92 L275.36 360.13 L276.02 360.34 L276.69 360.55 L277.35 360.76 L278.02 360.96 L278.68 361.17 L279.34 361.37 L280.01 361.57 L280.67 361.77 L281.34 361.97 L282 362.16 L282.66 362.36 L283.33 362.56 L283.99 362.75 L284.65 362.94" fill="none" stroke="#ec7270" stroke-width="1.9" stroke-linejoin="round"/>
<path d="M403.3 195.7 L606.8 195.7 L606.8 400 L403.3 400 Z" fill="none" stroke="#000" stroke-width="1.8"/>
<line x1="398.6" y1="400" x2="403.3" y2="400" stroke="#000" stroke-width="1.6"/>
<text x="397.4" y="404.3" font-family='"Liberation Sans", sans-serif' font-size="12" font-weight="bold" text-anchor="end" fill="#000" >0</text>
<line x1="398.6" y1="297.85" x2="403.3" y2="297.85" stroke="#000" stroke-width="1.6"/>
<text x="397.4" y="302.15" font-family='"Liberation Sans", sans-serif' font-size="12" font-weight="bold" text-anchor="end" fill="#000" >50</text>
<line x1="398.6" y1="195.7" x2="403.3" y2="195.7" stroke="#000" stroke-width="1.6"/>
<text x="397.4" y="200" font-family='"Liberation Sans", sans-serif' font-size="12" font-weight="bold" text-anchor="end" fill="#000" >100</text>
<line x1="406" y1="400" x2="406" y2="405" stroke="#000" stroke-width="1.6"/>
<text x="406" y="417.4" font-family='"Liberation Sans", sans-serif' font-size="12" font-weight="bold" text-anchor="middle" fill="#000" >0</text>
<line x1="434.3" y1="400" x2="434.3" y2="405" stroke="#000" stroke-width="1.6"/>
<text x="434.3" y="417.4" font-family='"Liberation Sans", sans-serif' font-size="12" font-weight="bold" text-anchor="middle" fill="#000" >1</text>
<line x1="462.6" y1="400" x2="462.6" y2="405" stroke="#000" stroke-width="1.6"/>
<text x="462.6" y="417.4" font-family='"Liberation Sans", sans-serif' font-size="12" font-weight="bold" text-anchor="middle" fill="#000" >2</text>
<line x1="490.9" y1="400" x2="490.9" y2="405" stroke="#000" stroke-width="1.6"/>
<text x="490.9" y="417.4" font-family='"Liberation Sans", sans-serif' font-size="12" font-weight="bold" text-anchor="middle" fill="#000" >3</text>
<line x1="519.2" y1="400" x2="519.2" y2="405" stroke="#000" stroke-width="1.6"/>
<text x="519.2" y="417.4" font-family='"Liberation Sans", sans-serif' font-size="12" font-weight="bold" text-anchor="middle" fill="#000" >4</text>
<line x1="547.5" y1="400" x2="547.5" y2="405" stroke="#000" stroke-width="1.6"/>
<text x="547.5" y="417.4" font-family='"Liberation Sans", sans-serif' font-size="12" font-weight="bold" text-anchor="middle" fill="#000" >5</text>
<line x1="575.8" y1="400" x2="575.8" y2="405" stroke="#000" stroke-width="1.6"/>
<text x="575.8" y="417.4" font-family='"Liberation Sans", sans-serif' font-size="12" font-weight="bold" text-anchor="middle" fill="#000" >6</text>
<line x1="604.1" y1="400" x2="604.1" y2="405" stroke="#000" stroke-width="1.6"/>
<text x="604.1" y="417.4" font-family='"Liberation Sans", sans-serif' font-size="12" font-weight="bold" text-anchor="middle" fill="#000" >7</text>
<text x="505.5" y="437.4" font-family='"Liberation Sans", sans-serif' font-size="13.6" font-weight="bold" text-anchor="middle" fill="#000" >Time (hours)</text>
<text x="0" y="0" font-family='"Liberation Sans", sans-serif' font-size="14.4" font-weight="bold" text-anchor="middle" fill="#000" transform="translate(368.4 297.9) rotate(-90)">% Peak Area</text>
<circle cx="420.15" cy="322.37" r="5.4" fill="#138513"/>
<circle cx="434.3" cy="223.28" r="5.4" fill="#138513"/>
<circle cx="490.9" cy="199.79" r="5.4" fill="#138513"/>
<circle cx="547.5" cy="195.7" r="5.4" fill="#138513"/>
<circle cx="604.1" cy="195.7" r="5.4" fill="#138513"/>
<rect x="401" y="395" width="10" height="10" fill="#0f3f8c"/>
<rect x="415.15" y="271.19" width="10" height="10" fill="#0f3f8c"/>
<rect x="429.3" y="368.44" width="10" height="10" fill="#0f3f8c"/>
<rect x="485.9" y="388.87" width="10" height="10" fill="#0f3f8c"/>
<rect x="542.5" y="395" width="10" height="10" fill="#0f3f8c"/>
<rect x="599.1" y="395" width="10" height="10" fill="#0f3f8c"/>
<path d="M406 191.38 L410 198.58 L402 198.58 Z" fill="#8e0c0c"/>
<path d="M420.15 394.05 L424.15 401.25 L416.15 401.25 Z" fill="#8e0c0c"/>
<path d="M434.3 395.68 L438.3 402.88 L430.3 402.88 Z" fill="#8e0c0c"/>
<path d="M490.9 395.68 L494.9 402.88 L486.9 402.88 Z" fill="#8e0c0c"/>
<path d="M547.5 395.68 L551.5 402.88 L543.5 402.88 Z" fill="#8e0c0c"/>
<path d="M604.1 395.68 L608.1 402.88 L600.1 402.88 Z" fill="#8e0c0c"/>
<path d="M406 400 L406.29 400 L406.57 400 L406.86 400 L407.15 400 L407.44 400 L407.72 400 L408.01 400 L408.3 400 L408.58 400 L408.87 399.72 L409.16 398.12 L409.44 396.35 L409.73 394.44 L410.02 392.39 L410.31 390.23 L410.59 387.98 L410.88 385.65 L411.17 383.25 L411.45 380.79 L411.74 378.28 L412.03 375.74 L412.31 373.17 L412.6 370.58 L412.89 367.98 L413.18 365.37 L413.46 362.76 L413.75 360.15 L414.04 357.55 L414.32 354.96 L414.61 352.38 L414.9 349.82 L415.19 347.29 L415.47 344.77 L415.76 342.29 L416.05 339.83 L416.33 337.39 L416.62 334.99 L416.91 332.62 L417.19 330.28 L417.48 327.97 L417.77 325.7 L418.06 323.45 L418.34 321.25 L418.63 319.07 L418.92 316.93 L419.2 314.83 L419.49 312.76 L419.78 310.72 L420.07 308.72 L420.35 306.75 L420.64 304.82 L420.93 302.92 L421.21 301.05 L421.5 299.21 L421.79 297.41 L422.07 295.64 L422.36 293.9 L422.65 292.19 L422.94 290.51 L423.22 288.86 L423.51 287.24 L423.8 285.65 L424.08 284.09 L424.37 282.56 L424.66 281.05 L424.94 279.57 L425.23 278.12 L425.52 276.7 L425.81 275.3 L426.09 273.92 L426.38 272.57 L426.67 271.25 L426.95 269.95 L427.24 268.67 L427.53 267.41 L427.82 266.18 L428.1 264.97 L428.39 263.78 L428.68 262.62 L428.96 261.47 L429.25 260.35 L429.54 259.24 L429.82 258.16 L430.11 257.09 L430.4 256.04 L430.69 255.01 L430.97 254 L431.26 253.01 L431.55 252.03 L431.83 251.08 L432.12 250.14 L432.41 249.21 L432.69 248.3 L432.98 247.41 L433.27 246.53 L433.56 245.67 L433.84 244.83 L434.13 244 L434.42 243.18 L434.7 242.38 L434.99 241.59 L435.28 240.81 L435.57 240.05 L435.85 239.3 L436.14 238.57 L436.43 237.84 L436.71 237.13 L437 236.43 L437.29 235.75 L437.57 235.07 L437.86 234.41 L438.15 233.76 L438.44 233.12 L438.72 232.49 L439.01 231.87 L439.3 231.26 L439.58 230.67 L439.87 230.08 L440.16 229.5 L440.45 228.94 L440.73 228.38 L441.02 227.83 L441.31 227.29 L441.59 226.76 L441.88 226.24 L442.17 225.73 L442.45 225.22 L442.74 224.73 L443.03 224.24 L443.32 223.77 L443.6 223.3 L443.89 222.83 L444.18 222.38 L444.46 221.93 L444.75 221.49 L445.04 221.06 L445.32 220.64 L445.61 220.22 L445.9 219.81 L446.19 219.41 L446.47 219.01 L446.76 218.62 L447.05 218.24 L447.33 217.86 L447.62 217.49 L447.91 217.13 L448.2 216.77 L448.48 216.42 L448.77 216.07 L449.06 215.73 L449.34 215.39 L449.63 215.06 L449.92 214.74 L450.2 214.42 L450.49 214.11 L450.78 213.8 L451.07 213.5 L451.35 213.2 L451.64 212.91 L451.93 212.62 L452.21 212.34 L452.5 212.06 L452.79 211.79 L453.08 211.52 L453.36 211.26 L453.65 211 L453.94 210.74 L454.22 210.49 L454.51 210.24 L454.8 210 L455.08 209.76 L455.37 209.53 L455.66 209.3 L455.95 209.07 L456.23 208.85 L456.52 208.63 L456.81 208.41 L457.09 208.2 L457.38 207.99 L457.67 207.79 L457.95 207.58 L458.24 207.39 L458.53 207.19 L458.82 207 L459.1 206.81 L459.39 206.62 L459.68 206.44 L459.96 206.26 L460.25 206.09 L460.54 205.91 L460.83 205.74 L461.11 205.58 L461.4 205.41 L461.69 205.25 L461.97 205.09 L462.26 204.93 L462.55 204.78 L462.83 204.63 L463.12 204.48 L463.41 204.33 L463.7 204.19 L463.98 204.05 L464.27 203.91 L464.56 203.77 L464.84 203.64 L465.13 203.5 L465.42 203.37 L465.7 203.24 L465.99 203.12 L466.28 203 L466.57 202.87 L466.85 202.75 L467.14 202.64 L467.43 202.52 L467.71 202.41 L468 202.29 L468.29 202.18 L468.58 202.08 L468.86 201.97 L469.15 201.87 L469.44 201.76 L469.72 201.66 L470.01 201.56 L470.3 201.46 L470.58 201.37 L470.87 201.27 L471.16 201.18 L471.45 201.09 L471.73 201 L472.02 200.91 L472.31 200.82 L472.59 200.74 L472.88 200.65 L473.17 200.57 L473.46 200.49 L473.74 200.41 L474.03 200.33 L474.32 200.25 L474.6 200.18 L474.89 200.1 L475.18 200.03 L475.46 199.96 L475.75 199.89 L476.04 199.82 L476.33 199.75 L476.61 199.68 L476.9 199.61 L477.19 199.55 L477.47 199.49 L477.76 199.42 L478.05 199.36 L478.33 199.3 L478.62 199.24 L478.91 199.18 L479.2 199.12 L479.48 199.06 L479.77 199.01 L480.06 198.95 L480.34 198.9 L480.63 198.85 L480.92 198.79 L481.21 198.74 L481.49 198.69 L481.78 198.64 L482.07 198.59 L482.35 198.54 L482.64 198.5 L482.93 198.45 L483.21 198.4 L483.5 198.36 L483.79 198.31 L484.08 198.27 L484.36 198.23 L484.65 198.19 L484.94 198.14 L485.22 198.1 L485.51 198.06 L485.8 198.02 L486.08 197.99 L486.37 197.95 L486.66 197.91 L486.95 197.87 L487.23 197.84 L487.52 197.8 L487.81 197.77 L488.09 197.73 L488.38 197.7 L488.67 197.66 L488.96 197.63 L489.24 197.6 L489.53 197.57 L489.82 197.54 L490.1 197.51 L490.39 197.48 L490.68 197.45 L490.96 197.42 L491.25 197.39 L491.54 197.36 L491.83 197.33 L492.11 197.31 L492.4 197.28 L492.69 197.25 L492.97 197.23 L493.26 197.2 L493.55 197.18 L493.84 197.15 L494.12 197.13 L494.41 197.1 L494.7 197.08 L494.98 197.06 L495.27 197.03 L495.56 197.01 L495.84 196.99 L496.13 196.97 L496.42 196.95 L496.71 196.93 L496.99 196.91 L497.28 196.89 L497.57 196.87 L497.85 196.85 L498.14 196.83 L498.43 196.81 L498.71 196.79 L499 196.77 L499.29 196.75 L499.58 196.74 L499.86 196.72 L500.15 196.7 L500.44 196.69 L500.72 196.67 L501.01 196.65 L501.3 196.64 L501.59 196.62 L501.87 196.61 L502.16 196.59 L502.45 196.58 L502.73 196.56 L503.02 196.55 L503.31 196.53 L503.59 196.52 L503.88 196.51 L504.17 196.49 L504.46 196.48 L504.74 196.47 L505.03 196.45 L505.32 196.44 L505.6 196.43 L505.89 196.42 L506.18 196.4 L506.47 196.39 L506.75 196.38 L507.04 196.37 L507.33 196.36 L507.61 196.35 L507.9 196.34 L508.19 196.33 L508.47 196.32 L508.76 196.31 L509.05 196.29 L509.34 196.29 L509.62 196.28 L509.91 196.27 L510.2 196.26 L510.48 196.25 L510.77 196.24 L511.06 196.23 L511.34 196.22 L511.63 196.21 L511.92 196.2 L512.21 196.19 L512.49 196.19 L512.78 196.18 L513.07 196.17 L513.35 196.16 L513.64 196.15 L513.93 196.15 L514.22 196.14 L514.5 196.13 L514.79 196.12 L515.08 196.12 L515.36 196.11 L515.65 196.1 L515.94 196.1 L516.22 196.09 L516.51 196.08 L516.8 196.08 L517.09 196.07 L517.37 196.07 L517.66 196.06 L517.95 196.05 L518.23 196.05 L518.52 196.04 L518.81 196.04 L519.09 196.03 L519.38 196.02 L519.67 196.02 L519.96 196.01 L520.24 196.01 L520.53 196 L520.82 196 L521.1 195.99 L521.39 195.99 L521.68 195.98 L521.97 195.98 L522.25 195.97 L522.54 195.97 L522.83 195.97 L523.11 195.96 L523.4 195.96 L523.69 195.95 L523.97 195.95 L524.26 195.94 L524.55 195.94 L524.84 195.94 L525.12 195.93 L525.41 195.93 L525.7 195.92 L525.98 195.92 L526.27 195.92 L526.56 195.91 L526.85 195.91 L527.13 195.91 L527.42 195.9 L527.71 195.9 L527.99 195.9 L528.28 195.89 L528.57 195.89 L528.85 195.89 L529.14 195.88 L529.43 195.88 L529.72 195.88 L530 195.87 L530.29 195.87 L530.58 195.87 L530.86 195.87 L531.15 195.86 L531.44 195.86 L531.72 195.86 L532.01 195.85 L532.3 195.85 L532.59 195.85 L532.87 195.85 L533.16 195.84 L533.45 195.84 L533.73 195.84 L534.02 195.84 L534.31 195.84 L534.6 195.83 L534.88 195.83 L535.17 195.83 L535.46 195.83 L535.74 195.82 L536.03 195.82 L536.32 195.82 L536.6 195.82 L536.89 195.82 L537.18 195.81 L537.47 195.81 L537.75 195.81 L538.04 195.81 L538.33 195.81 L538.61 195.81 L538.9 195.8 L539.19 195.8 L539.47 195.8 L539.76 195.8 L540.05 195.8 L540.34 195.8 L540.62 195.79 L540.91 195.79 L541.2 195.79 L541.48 195.79 L541.77 195.79 L542.06 195.79 L542.35 195.78 L542.63 195.78 L542.92 195.78 L543.21 195.78 L543.49 195.78 L543.78 195.78 L544.07 195.78 L544.35 195.78 L544.64 195.77 L544.93 195.77 L545.22 195.77 L545.5 195.77 L545.79 195.77 L546.08 195.77 L546.36 195.77 L546.65 195.77 L546.94 195.76 L547.23 195.76 L547.51 195.76 L547.8 195.76 L548.09 195.76 L548.37 195.76 L548.66 195.76 L548.95 195.76 L549.23 195.76 L549.52 195.76 L549.81 195.75 L550.1 195.75 L550.38 195.75 L550.67 195.75 L550.96 195.75 L551.24 195.75 L551.53 195.75 L551.82 195.75 L552.1 195.75 L552.39 195.75 L552.68 195.75 L552.97 195.75 L553.25 195.74 L553.54 195.74 L553.83 195.74 L554.11 195.74 L554.4 195.74 L554.69 195.74 L554.98 195.74 L555.26 195.74 L555.55 195.74 L555.84 195.74 L556.12 195.74 L556.41 195.74 L556.7 195.74 L556.98 195.74 L557.27 195.74 L557.56 195.73 L557.85 195.73 L558.13 195.73 L558.42 195.73 L558.71 195.73 L558.99 195.73 L559.28 195.73 L559.57 195.73 L559.85 195.73 L560.14 195.73 L560.43 195.73 L560.72 195.73 L561 195.73 L561.29 195.73 L561.58 195.73 L561.86 195.73 L562.15 195.73 L562.44 195.73 L562.73 195.73 L563.01 195.73 L563.3 195.72 L563.59 195.72 L563.87 195.72 L564.16 195.72 L564.45 195.72 L564.73 195.72 L565.02 195.72 L565.31 195.72 L565.6 195.72 L565.88 195.72 L566.17 195.72 L566.46 195.72 L566.74 195.72 L567.03 195.72 L567.32 195.72 L567.61 195.72 L567.89 195.72 L568.18 195.72 L568.47 195.72 L568.75 195.72 L569.04 195.72 L569.33 195.72 L569.61 195.72 L569.9 195.72 L570.19 195.72 L570.48 195.72 L570.76 195.72 L571.05 195.72 L571.34 195.72 L571.62 195.72 L571.91 195.71 L572.2 195.71 L572.48 195.71 L572.77 195.71 L573.06 195.71 L573.35 195.71 L573.63 195.71 L573.92 195.71 L574.21 195.71 L574.49 195.71 L574.78 195.71 L575.07 195.71 L575.36 195.71 L575.64 195.71 L575.93 195.71 L576.22 195.71 L576.5 195.71 L576.79 195.71 L577.08 195.71 L577.36 195.71 L577.65 195.71 L577.94 195.71 L578.23 195.71 L578.51 195.71 L578.8 195.71 L579.09 195.71 L579.37 195.71 L579.66 195.71 L579.95 195.71 L580.24 195.71 L580.52 195.71 L580.81 195.71 L581.1 195.71 L581.38 195.71 L581.67 195.71 L581.96 195.71 L582.24 195.71 L582.53 195.71 L582.82 195.71 L583.11 195.71 L583.39 195.71 L583.68 195.71 L583.97 195.71 L584.25 195.71 L584.54 195.71 L584.83 195.71 L585.11 195.71 L585.4 195.71 L585.69 195.71 L585.98 195.71 L586.26 195.71 L586.55 195.71 L586.84 195.71 L587.12 195.71 L587.41 195.71 L587.7 195.71 L587.99 195.71 L588.27 195.71 L588.56 195.71 L588.85 195.71 L589.13 195.71 L589.42 195.71 L589.71 195.71 L589.99 195.71 L590.28 195.71 L590.57 195.71 L590.86 195.7 L591.14 195.7 L591.43 195.7 L591.72 195.7 L592 195.7 L592.29 195.7 L592.58 195.7 L592.86 195.7 L593.15 195.7 L593.44 195.7 L593.73 195.7 L594.01 195.7 L594.3 195.7 L594.59 195.7 L594.87 195.7 L595.16 195.7 L595.45 195.7 L595.74 195.7 L596.02 195.7 L596.31 195.7 L596.6 195.7 L596.88 195.7 L597.17 195.7 L597.46 195.7 L597.74 195.7 L598.03 195.7 L598.32 195.7 L598.61 195.7 L598.89 195.7 L599.18 195.7 L599.47 195.7 L599.75 195.7 L600.04 195.7 L600.33 195.7 L600.62 195.7 L600.9 195.7 L601.19 195.7 L601.48 195.7 L601.76 195.7 L602.05 195.7 L602.34 195.7 L602.62 195.7 L602.91 195.7 L603.2 195.7 L603.49 195.7 L603.77 195.7 L604.06 195.7 L604.35 195.7 L604.63 195.7 L604.92 195.7 L605.21 195.7 L605.49 195.7 L605.78 195.7 L606.07 195.7 L606.36 195.7 L606.64 195.7 L606.93 195.7" fill="none" stroke="#787818" stroke-width="1.9" stroke-linejoin="round"/>
<path d="M406 400 L406.29 385.72 L406.57 372.74 L406.86 360.95 L407.15 350.27 L407.44 340.59 L407.72 331.86 L408.01 323.99 L408.3 316.91 L408.58 310.58 L408.87 304.91 L409.16 299.87 L409.44 295.41 L409.73 291.47 L410.02 288.02 L410.31 285.01 L410.59 282.41 L410.88 280.19 L411.17 278.32 L411.45 276.76 L411.74 275.5 L412.03 274.5 L412.31 273.74 L412.6 273.21 L412.89 272.88 L413.18 272.74 L413.46 272.77 L413.75 272.95 L414.04 273.27 L414.32 273.72 L414.61 274.29 L414.9 274.96 L415.19 275.72 L415.47 276.57 L415.76 277.5 L416.05 278.49 L416.33 279.54 L416.62 280.65 L416.91 281.81 L417.19 283.01 L417.48 284.24 L417.77 285.51 L418.06 286.81 L418.34 288.13 L418.63 289.47 L418.92 290.82 L419.2 292.19 L419.49 293.57 L419.78 294.96 L420.07 296.36 L420.35 297.75 L420.64 299.15 L420.93 300.55 L421.21 301.94 L421.5 303.33 L421.79 304.72 L422.07 306.1 L422.36 307.47 L422.65 308.84 L422.94 310.19 L423.22 311.53 L423.51 312.87 L423.8 314.19 L424.08 315.5 L424.37 316.79 L424.66 318.08 L424.94 319.35 L425.23 320.6 L425.52 321.84 L425.81 323.07 L426.09 324.28 L426.38 325.48 L426.67 326.66 L426.95 327.83 L427.24 328.98 L427.53 330.11 L427.82 331.23 L428.1 332.34 L428.39 333.43 L428.68 334.5 L428.96 335.56 L429.25 336.61 L429.54 337.64 L429.82 338.65 L430.11 339.65 L430.4 340.63 L430.69 341.6 L430.97 342.56 L431.26 343.5 L431.55 344.42 L431.83 345.34 L432.12 346.23 L432.41 347.12 L432.69 347.99 L432.98 348.84 L433.27 349.69 L433.56 350.52 L433.84 351.33 L434.13 352.14 L434.42 352.93 L434.7 353.7 L434.99 354.47 L435.28 355.22 L435.57 355.96 L435.85 356.69 L436.14 357.41 L436.43 358.12 L436.71 358.81 L437 359.49 L437.29 360.17 L437.57 360.83 L437.86 361.48 L438.15 362.12 L438.44 362.75 L438.72 363.37 L439.01 363.98 L439.3 364.57 L439.58 365.16 L439.87 365.74 L440.16 366.31 L440.45 366.87 L440.73 367.42 L441.02 367.97 L441.31 368.5 L441.59 369.02 L441.88 369.54 L442.17 370.05 L442.45 370.54 L442.74 371.04 L443.03 371.52 L443.32 371.99 L443.6 372.46 L443.89 372.92 L444.18 373.37 L444.46 373.81 L444.75 374.25 L445.04 374.68 L445.32 375.1 L445.61 375.51 L445.9 375.92 L446.19 376.32 L446.47 376.72 L446.76 377.11 L447.05 377.49 L447.33 377.86 L447.62 378.23 L447.91 378.6 L448.2 378.95 L448.48 379.3 L448.77 379.65 L449.06 379.99 L449.34 380.32 L449.63 380.65 L449.92 380.97 L450.2 381.29 L450.49 381.6 L450.78 381.91 L451.07 382.21 L451.35 382.51 L451.64 382.8 L451.93 383.09 L452.21 383.37 L452.5 383.64 L452.79 383.92 L453.08 384.19 L453.36 384.45 L453.65 384.71 L453.94 384.96 L454.22 385.21 L454.51 385.46 L454.8 385.7 L455.08 385.94 L455.37 386.18 L455.66 386.41 L455.95 386.63 L456.23 386.86 L456.52 387.08 L456.81 387.29 L457.09 387.5 L457.38 387.71 L457.67 387.92 L457.95 388.12 L458.24 388.32 L458.53 388.51 L458.82 388.7 L459.1 388.89 L459.39 389.08 L459.68 389.26 L459.96 389.44 L460.25 389.61 L460.54 389.79 L460.83 389.96 L461.11 390.13 L461.4 390.29 L461.69 390.45 L461.97 390.61 L462.26 390.77 L462.55 390.92 L462.83 391.07 L463.12 391.22 L463.41 391.37 L463.7 391.51 L463.98 391.65 L464.27 391.79 L464.56 391.93 L464.84 392.07 L465.13 392.2 L465.42 392.33 L465.7 392.46 L465.99 392.58 L466.28 392.71 L466.57 392.83 L466.85 392.95 L467.14 393.06 L467.43 393.18 L467.71 393.29 L468 393.41 L468.29 393.52 L468.58 393.62 L468.86 393.73 L469.15 393.83 L469.44 393.94 L469.72 394.04 L470.01 394.14 L470.3 394.24 L470.58 394.33 L470.87 394.43 L471.16 394.52 L471.45 394.61 L471.73 394.7 L472.02 394.79 L472.31 394.88 L472.59 394.96 L472.88 395.05 L473.17 395.13 L473.46 395.21 L473.74 395.29 L474.03 395.37 L474.32 395.45 L474.6 395.52 L474.89 395.6 L475.18 395.67 L475.46 395.74 L475.75 395.81 L476.04 395.88 L476.33 395.95 L476.61 396.02 L476.9 396.09 L477.19 396.15 L477.47 396.21 L477.76 396.28 L478.05 396.34 L478.33 396.4 L478.62 396.46 L478.91 396.52 L479.2 396.58 L479.48 396.64 L479.77 396.69 L480.06 396.75 L480.34 396.8 L480.63 396.85 L480.92 396.91 L481.21 396.96 L481.49 397.01 L481.78 397.06 L482.07 397.11 L482.35 397.16 L482.64 397.2 L482.93 397.25 L483.21 397.3 L483.5 397.34 L483.79 397.39 L484.08 397.43 L484.36 397.47 L484.65 397.51 L484.94 397.56 L485.22 397.6 L485.51 397.64 L485.8 397.68 L486.08 397.71 L486.37 397.75 L486.66 397.79 L486.95 397.83 L487.23 397.86 L487.52 397.9 L487.81 397.93 L488.09 397.97 L488.38 398 L488.67 398.04 L488.96 398.07 L489.24 398.1 L489.53 398.13 L489.82 398.16 L490.1 398.19 L490.39 398.22 L490.68 398.25 L490.96 398.28 L491.25 398.31 L491.54 398.34 L491.83 398.37 L492.11 398.39 L492.4 398.42 L492.69 398.45 L492.97 398.47 L493.26 398.5 L493.55 398.52 L493.84 398.55 L494.12 398.57 L494.41 398.6 L494.7 398.62 L494.98 398.64 L495.27 398.67 L495.56 398.69 L495.84 398.71 L496.13 398.73 L496.42 398.75 L496.71 398.77 L496.99 398.79 L497.28 398.81 L497.57 398.83 L497.85 398.85 L498.14 398.87 L498.43 398.89 L498.71 398.91 L499 398.93 L499.29 398.95 L499.58 398.96 L499.86 398.98 L500.15 399 L500.44 399.01 L500.72 399.03 L501.01 399.05 L501.3 399.06 L501.59 399.08 L501.87 399.09 L502.16 399.11 L502.45 399.12 L502.73 399.14 L503.02 399.15 L503.31 399.17 L503.59 399.18 L503.88 399.19 L504.17 399.21 L504.46 399.22 L504.74 399.23 L505.03 399.25 L505.32 399.26 L505.6 399.27 L505.89 399.28 L506.18 399.3 L506.47 399.31 L506.75 399.32 L507.04 399.33 L507.33 399.34 L507.61 399.35 L507.9 399.36 L508.19 399.37 L508.47 399.38 L508.76 399.39 L509.05 399.41 L509.34 399.41 L509.62 399.42 L509.91 399.43 L510.2 399.44 L510.48 399.45 L510.77 399.46 L511.06 399.47 L511.34 399.48 L511.63 399.49 L511.92 399.5 L512.21 399.51 L512.49 399.51 L512.78 399.52 L513.07 399.53 L513.35 399.54 L513.64 399.55 L513.93 399.55 L514.22 399.56 L514.5 399.57 L514.79 399.58 L515.08 399.58 L515.36 399.59 L515.65 399.6 L515.94 399.6 L516.22 399.61 L516.51 399.62 L516.8 399.62 L517.09 399.63 L517.37 399.63 L517.66 399.64 L517.95 399.65 L518.23 399.65 L518.52 399.66 L518.81 399.66 L519.09 399.67 L519.38 399.68 L519.67 399.68 L519.96 399.69 L520.24 399.69 L520.53 399.7 L520.82 399.7 L521.1 399.71 L521.39 399.71 L521.68 399.72 L521.97 399.72 L522.25 399.73 L522.54 399.73 L522.83 399.73 L523.11 399.74 L523.4 399.74 L523.69 399.75 L523.97 399.75 L524.26 399.76 L524.55 399.76 L524.84 399.76 L525.12 399.77 L525.41 399.77 L525.7 399.78 L525.98 399.78 L526.27 399.78 L526.56 399.79 L526.85 399.79 L527.13 399.79 L527.42 399.8 L527.71 399.8 L527.99 399.8 L528.28 399.81 L528.57 399.81 L528.85 399.81 L529.14 399.82 L529.43 399.82 L529.72 399.82 L530 399.83 L530.29 399.83 L530.58 399.83 L530.86 399.83 L531.15 399.84 L531.44 399.84 L531.72 399.84 L532.01 399.85 L532.3 399.85 L532.59 399.85 L532.87 399.85 L533.16 399.86 L533.45 399.86 L533.73 399.86 L534.02 399.86 L534.31 399.86 L534.6 399.87 L534.88 399.87 L535.17 399.87 L535.46 399.87 L535.74 399.88 L536.03 399.88 L536.32 399.88 L536.6 399.88 L536.89 399.88 L537.18 399.89 L537.47 399.89 L537.75 399.89 L538.04 399.89 L538.33 399.89 L538.61 399.89 L538.9 399.9 L539.19 399.9 L539.47 399.9 L539.76 399.9 L540.05 399.9 L540.34 399.9 L540.62 399.91 L540.91 399.91 L541.2 399.91 L541.48 399.91 L541.77 399.91 L542.06 399.91 L542.35 399.92 L542.63 399.92 L542.92 399.92 L543.21 399.92 L543.49 399.92 L543.78 399.92 L544.07 399.92 L544.35 399.92 L544.64 399.93 L544.93 399.93 L545.22 399.93 L545.5 399.93 L545.79 399.93 L546.08 399.93 L546.36 399.93 L546.65 399.93 L546.94 399.94 L547.23 399.94 L547.51 399.94 L547.8 399.94 L548.09 399.94 L548.37 399.94 L548.66 399.94 L548.95 399.94 L549.23 399.94 L549.52 399.94 L549.81 399.95 L550.1 399.95 L550.38 399.95 L550.67 399.95 L550.96 399.95 L551.24 399.95 L551.53 399.95 L551.82 399.95 L552.1 399.95 L552.39 399.95 L552.68 399.95 L552.97 399.95 L553.25 399.96 L553.54 399.96 L553.83 399.96 L554.11 399.96 L554.4 399.96 L554.69 399.96 L554.98 399.96 L555.26 399.96 L555.55 399.96 L555.84 399.96 L556.12 399.96 L556.41 399.96 L556.7 399.96 L556.98 399.96 L557.27 399.96 L557.56 399.97 L557.85 399.97 L558.13 399.97 L558.42 399.97 L558.71 399.97 L558.99 399.97 L559.28 399.97 L559.57 399.97 L559.85 399.97 L560.14 399.97 L560.43 399.97 L560.72 399.97 L561 399.97 L561.29 399.97 L561.58 399.97 L561.86 399.97 L562.15 399.97 L562.44 399.97 L562.73 399.97 L563.01 399.97 L563.3 399.98 L563.59 399.98 L563.87 399.98 L564.16 399.98 L564.45 399.98 L564.73 399.98 L565.02 399.98 L565.31 399.98 L565.6 399.98 L565.88 399.98 L566.17 399.98 L566.46 399.98 L566.74 399.98 L567.03 399.98 L567.32 399.98 L567.61 399.98 L567.89 399.98 L568.18 399.98 L568.47 399.98 L568.75 399.98 L569.04 399.98 L569.33 399.98 L569.61 399.98 L569.9 399.98 L570.19 399.98 L570.48 399.98 L570.76 399.98 L571.05 399.98 L571.34 399.98 L571.62 399.98 L571.91 399.99 L572.2 399.99 L572.48 399.99 L572.77 399.99 L573.06 399.99 L573.35 399.99 L573.63 399.99 L573.92 399.99 L574.21 399.99 L574.49 399.99 L574.78 399.99 L575.07 399.99 L575.36 399.99 L575.64 399.99 L575.93 399.99 L576.22 399.99 L576.5 399.99 L576.79 399.99 L577.08 399.99 L577.36 399.99 L577.65 399.99 L577.94 399.99 L578.23 399.99 L578.51 399.99 L578.8 399.99 L579.09 399.99 L579.37 399.99 L579.66 399.99 L579.95 399.99 L580.24 399.99 L580.52 399.99 L580.81 399.99 L581.1 399.99 L581.38 399.99 L581.67 399.99 L581.96 399.99 L582.24 399.99 L582.53 399.99 L582.82 399.99 L583.11 399.99 L583.39 399.99 L583.68 399.99 L583.97 399.99 L584.25 399.99 L584.54 399.99 L584.83 399.99 L585.11 399.99 L585.4 399.99 L585.69 399.99 L585.98 399.99 L586.26 399.99 L586.55 399.99 L586.84 399.99 L587.12 399.99 L587.41 399.99 L587.7 399.99 L587.99 399.99 L588.27 399.99 L588.56 399.99 L588.85 399.99 L589.13 399.99 L589.42 399.99 L589.71 399.99 L589.99 399.99 L590.28 399.99 L590.57 399.99 L590.86 400 L591.14 400 L591.43 400 L591.72 400 L592 400 L592.29 400 L592.58 400 L592.86 400 L593.15 400 L593.44 400 L593.73 400 L594.01 400 L594.3 400 L594.59 400 L594.87 400 L595.16 400 L595.45 400 L595.74 400 L596.02 400 L596.31 400 L596.6 400 L596.88 400 L597.17 400 L597.46 400 L597.74 400 L598.03 400 L598.32 400 L598.61 400 L598.89 400 L599.18 400 L599.47 400 L599.75 400 L600.04 400 L600.33 400 L600.62 400 L600.9 400 L601.19 400 L601.48 400 L601.76 400 L602.05 400 L602.34 400 L602.62 400 L602.91 400 L603.2 400 L603.49 400 L603.77 400 L604.06 400 L604.35 400 L604.63 400 L604.92 400 L605.21 400 L605.49 400 L605.78 400 L606.07 400 L606.36 400 L606.64 400 L606.93 400" fill="none" stroke="#2586e6" stroke-width="1.9" stroke-linejoin="round"/>
<path d="M406 195.7 L406.29 208.15 L406.57 219.84 L406.86 230.83 L407.15 241.14 L407.44 250.82 L407.72 259.91 L408.01 268.45 L408.3 276.47 L408.58 284 L408.87 291.07 L409.16 297.71 L409.44 303.94 L409.73 309.8 L410.02 315.29 L410.31 320.46 L410.59 325.3 L410.88 329.86 L411.17 334.13 L411.45 338.15 L411.74 341.92 L412.03 345.46 L412.31 348.78 L412.6 351.9 L412.89 354.83 L413.18 357.59 L413.46 360.17 L413.75 362.6 L414.04 364.88 L414.32 367.02 L414.61 369.03 L414.9 370.92 L415.19 372.69 L415.47 374.35 L415.76 375.92 L416.05 377.39 L416.33 378.76 L416.62 380.06 L416.91 381.27 L417.19 382.41 L417.48 383.49 L417.77 384.49 L418.06 385.44 L418.34 386.33 L418.63 387.16 L418.92 387.94 L419.2 388.68 L419.49 389.37 L419.78 390.02 L420.07 390.62 L420.35 391.2 L420.64 391.73 L420.93 392.24 L421.21 392.71 L421.5 393.15 L421.79 393.57 L422.07 393.96 L422.36 394.33 L422.65 394.68 L422.94 395 L423.22 395.31 L423.51 395.59 L423.8 395.86 L424.08 396.11 L424.37 396.35 L424.66 396.57 L424.94 396.78 L425.23 396.98 L425.52 397.16 L425.81 397.33 L426.09 397.5 L426.38 397.65 L426.67 397.79 L426.95 397.93 L427.24 398.05 L427.53 398.17 L427.82 398.28 L428.1 398.39 L428.39 398.49 L428.68 398.58 L428.96 398.67 L429.25 398.75 L429.54 398.82 L429.82 398.89 L430.11 398.96 L430.4 399.03 L430.69 399.08 L430.97 399.14 L431.26 399.19 L431.55 399.24 L431.83 399.29 L432.12 399.33 L432.41 399.37 L432.69 399.41 L432.98 399.45 L433.27 399.48 L433.56 399.51 L433.84 399.54 L434.13 399.57 L434.42 399.6 L434.7 399.62 L434.99 399.64 L435.28 399.67 L435.57 399.69 L435.85 399.7 L436.14 399.72 L436.43 399.74 L436.71 399.76 L437 399.77 L437.29 399.78 L437.57 399.8 L437.86 399.81 L438.15 399.82 L438.44 399.83 L438.72 399.84 L439.01 399.85 L439.3 399.86 L439.58 399.87 L439.87 399.88 L440.16 399.89 L440.45 399.89 L440.73 399.9 L441.02 399.9 L441.31 399.91 L441.59 399.92 L441.88 399.92 L442.17 399.93 L442.45 399.93 L442.74 399.93 L443.03 399.94 L443.32 399.94 L443.6 399.95 L443.89 399.95 L444.18 399.95 L444.46 399.96 L444.75 399.96 L445.04 399.96 L445.32 399.96 L445.61 399.97 L445.9 399.97 L446.19 399.97 L446.47 399.97 L446.76 399.97 L447.05 399.97 L447.33 399.98 L447.62 399.98 L447.91 399.98 L448.2 399.98 L448.48 399.98 L448.77 399.98 L449.06 399.98 L449.34 399.98 L449.63 399.99 L449.92 399.99 L450.2 399.99 L450.49 399.99 L450.78 399.99 L451.07 399.99 L451.35 399.99 L451.64 399.99 L451.93 399.99 L452.21 399.99 L452.5 399.99 L452.79 399.99 L453.08 399.99 L453.36 399.99 L453.65 399.99 L453.94 399.99 L454.22 399.99 L454.51 400 L454.8 400 L455.08 400 L455.37 400 L455.66 400 L455.95 400 L456.23 400 L456.52 400 L456.81 400 L457.09 400 L457.38 400 L457.67 400 L457.95 400 L458.24 400 L458.53 400 L458.82 400 L459.1 400 L459.39 400 L459.68 400 L459.96 400 L460.25 400 L460.54 400 L460.83 400 L461.11 400 L461.4 400 L461.69 400 L461.97 400 L462.26 400 L462.55 400 L462.83 400 L463.12 400 L463.41 400 L463.7 400 L463.98 400 L464.27 400 L464.56 400 L464.84 400 L465.13 400 L465.42 400 L465.7 400 L465.99 400 L466.28 400 L466.57 400 L466.85 400 L467.14 400 L467.43 400 L467.71 400 L468 400 L468.29 400 L468.58 400 L468.86 400 L469.15 400 L469.44 400 L469.72 400 L470.01 400 L470.3 400 L470.58 400 L470.87 400 L471.16 400 L471.45 400 L471.73 400 L472.02 400 L472.31 400 L472.59 400 L472.88 400 L473.17 400 L473.46 400 L473.74 400 L474.03 400 L474.32 400 L474.6 400 L474.89 400 L475.18 400 L475.46 400 L475.75 400 L476.04 400 L476.33 400 L476.61 400 L476.9 400 L477.19 400 L477.47 400 L477.76 400 L478.05 400 L478.33 400 L478.62 400 L478.91 400 L479.2 400 L479.48 400 L479.77 400 L480.06 400 L480.34 400 L480.63 400 L480.92 400 L481.21 400 L481.49 400 L481.78 400 L482.07 400 L482.35 400 L482.64 400 L482.93 400 L483.21 400 L483.5 400 L483.79 400 L484.08 400 L484.36 400 L484.65 400 L484.94 400 L485.22 400 L485.51 400 L485.8 400 L486.08 400 L486.37 400 L486.66 400 L486.95 400 L487.23 400 L487.52 400 L487.81 400 L488.09 400 L488.38 400 L488.67 400 L488.96 400 L489.24 400 L489.53 400 L489.82 400 L490.1 400 L490.39 400 L490.68 400 L490.96 400 L491.25 400 L491.54 400 L491.83 400 L492.11 400 L492.4 400 L492.69 400 L492.97 400 L493.26 400 L493.55 400 L493.84 400 L494.12 400 L494.41 400 L494.7 400 L494.98 400 L495.27 400 L495.56 400 L495.84 400 L496.13 400 L496.42 400 L496.71 400 L496.99 400 L497.28 400 L497.57 400 L497.85 400 L498.14 400 L498.43 400 L498.71 400 L499 400 L499.29 400 L499.58 400 L499.86 400 L500.15 400 L500.44 400 L500.72 400 L501.01 400 L501.3 400 L501.59 400 L501.87 400 L502.16 400 L502.45 400 L502.73 400 L503.02 400 L503.31 400 L503.59 400 L503.88 400 L504.17 400 L504.46 400 L504.74 400 L505.03 400 L505.32 400 L505.6 400 L505.89 400 L506.18 400 L506.47 400 L506.75 400 L507.04 400 L507.33 400 L507.61 400 L507.9 400 L508.19 400 L508.47 400 L508.76 400 L509.05 400 L509.34 400 L509.62 400 L509.91 400 L510.2 400 L510.48 400 L510.77 400 L511.06 400 L511.34 400 L511.63 400 L511.92 400 L512.21 400 L512.49 400 L512.78 400 L513.07 400 L513.35 400 L513.64 400 L513.93 400 L514.22 400 L514.5 400 L514.79 400 L515.08 400 L515.36 400 L515.65 400 L515.94 400 L516.22 400 L516.51 400 L516.8 400 L517.09 400 L517.37 400 L517.66 400 L517.95 400 L518.23 400 L518.52 400 L518.81 400 L519.09 400 L519.38 400 L519.67 400 L519.96 400 L520.24 400 L520.53 400 L520.82 400 L521.1 400 L521.39 400 L521.68 400 L521.97 400 L522.25 400 L522.54 400 L522.83 400 L523.11 400 L523.4 400 L523.69 400 L523.97 400 L524.26 400 L524.55 400 L524.84 400 L525.12 400 L525.41 400 L525.7 400 L525.98 400 L526.27 400 L526.56 400 L526.85 400 L527.13 400 L527.42 400 L527.71 400 L527.99 400 L528.28 400 L528.57 400 L528.85 400 L529.14 400 L529.43 400 L529.72 400 L530 400 L530.29 400 L530.58 400 L530.86 400 L531.15 400 L531.44 400 L531.72 400 L532.01 400 L532.3 400 L532.59 400 L532.87 400 L533.16 400 L533.45 400 L533.73 400 L534.02 400 L534.31 400 L534.6 400 L534.88 400 L535.17 400 L535.46 400 L535.74 400 L536.03 400 L536.32 400 L536.6 400 L536.89 400 L537.18 400 L537.47 400 L537.75 400 L538.04 400 L538.33 400 L538.61 400 L538.9 400 L539.19 400 L539.47 400 L539.76 400 L540.05 400 L540.34 400 L540.62 400 L540.91 400 L541.2 400 L541.48 400 L541.77 400 L542.06 400 L542.35 400 L542.63 400 L542.92 400 L543.21 400 L543.49 400 L543.78 400 L544.07 400 L544.35 400 L544.64 400 L544.93 400 L545.22 400 L545.5 400 L545.79 400 L546.08 400 L546.36 400 L546.65 400 L546.94 400 L547.23 400 L547.51 400 L547.8 400 L548.09 400 L548.37 400 L548.66 400 L548.95 400 L549.23 400 L549.52 400 L549.81 400 L550.1 400 L550.38 400 L550.67 400 L550.96 400 L551.24 400 L551.53 400 L551.82 400 L552.1 400 L552.39 400 L552.68 400 L552.97 400 L553.25 400 L553.54 400 L553.83 400 L554.11 400 L554.4 400 L554.69 400 L554.98 400 L555.26 400 L555.55 400 L555.84 400 L556.12 400 L556.41 400 L556.7 400 L556.98 400 L557.27 400 L557.56 400 L557.85 400 L558.13 400 L558.42 400 L558.71 400 L558.99 400 L559.28 400 L559.57 400 L559.85 400 L560.14 400 L560.43 400 L560.72 400 L561 400 L561.29 400 L561.58 400 L561.86 400 L562.15 400 L562.44 400 L562.73 400 L563.01 400 L563.3 400 L563.59 400 L563.87 400 L564.16 400 L564.45 400 L564.73 400 L565.02 400 L565.31 400 L565.6 400 L565.88 400 L566.17 400 L566.46 400 L566.74 400 L567.03 400 L567.32 400 L567.61 400 L567.89 400 L568.18 400 L568.47 400 L568.75 400 L569.04 400 L569.33 400 L569.61 400 L569.9 400 L570.19 400 L570.48 400 L570.76 400 L571.05 400 L571.34 400 L571.62 400 L571.91 400 L572.2 400 L572.48 400 L572.77 400 L573.06 400 L573.35 400 L573.63 400 L573.92 400 L574.21 400 L574.49 400 L574.78 400 L575.07 400 L575.36 400 L575.64 400 L575.93 400 L576.22 400 L576.5 400 L576.79 400 L577.08 400 L577.36 400 L577.65 400 L577.94 400 L578.23 400 L578.51 400 L578.8 400 L579.09 400 L579.37 400 L579.66 400 L579.95 400 L580.24 400 L580.52 400 L580.81 400 L581.1 400 L581.38 400 L581.67 400 L581.96 400 L582.24 400 L582.53 400 L582.82 400 L583.11 400 L583.39 400 L583.68 400 L583.97 400 L584.25 400 L584.54 400 L584.83 400 L585.11 400 L585.4 400 L585.69 400 L585.98 400 L586.26 400 L586.55 400 L586.84 400 L587.12 400 L587.41 400 L587.7 400 L587.99 400 L588.27 400 L588.56 400 L588.85 400 L589.13 400 L589.42 400 L589.71 400 L589.99 400 L590.28 400 L590.57 400 L590.86 400 L591.14 400 L591.43 400 L591.72 400 L592 400 L592.29 400 L592.58 400 L592.86 400 L593.15 400 L593.44 400 L593.73 400 L594.01 400 L594.3 400 L594.59 400 L594.87 400 L595.16 400 L595.45 400 L595.74 400 L596.02 400 L596.31 400 L596.6 400 L596.88 400 L597.17 400 L597.46 400 L597.74 400 L598.03 400 L598.32 400 L598.61 400 L598.89 400 L599.18 400 L599.47 400 L599.75 400 L600.04 400 L600.33 400 L600.62 400 L600.9 400 L601.19 400 L601.48 400 L601.76 400 L602.05 400 L602.34 400 L602.62 400 L602.91 400 L603.2 400 L603.49 400 L603.77 400 L604.06 400 L604.35 400 L604.63 400 L604.92 400 L605.21 400 L605.49 400 L605.78 400 L606.07 400 L606.36 400 L606.64 400 L606.93 400" fill="none" stroke="#ec7270" stroke-width="1.9" stroke-linejoin="round"/>
<text x="1.3" y="490.2" font-family='"Liberation Serif", serif' font-size="19" font-weight="normal" text-anchor="start" fill="#000" >C)</text>
<path d="M97 486.4 L286 486.4 L286 676 L97 676 Z" fill="none" stroke="#000" stroke-width="1.6"/>
<line x1="92.6" y1="675.5" x2="97.1" y2="675.5" stroke="#000" stroke-width="1.5"/>
<text x="90.4" y="680" font-family='"Liberation Sans", sans-serif' font-size="11" font-weight="bold" text-anchor="end" fill="#000" textLength="6.43" lengthAdjust="spacingAndGlyphs">0</text>
<line x1="92.6" y1="637.68" x2="97.1" y2="637.68" stroke="#000" stroke-width="1.5"/>
<text x="90.4" y="642.18" font-family='"Liberation Sans", sans-serif' font-size="11" font-weight="bold" text-anchor="end" fill="#000" textLength="12.85" lengthAdjust="spacingAndGlyphs">20</text>
<line x1="92.6" y1="599.86" x2="97.1" y2="599.86" stroke="#000" stroke-width="1.5"/>
<text x="90.4" y="604.36" font-family='"Liberation Sans", sans-serif' font-size="11" font-weight="bold" text-anchor="end" fill="#000" textLength="12.85" lengthAdjust="spacingAndGlyphs">40</text>
<line x1="92.6" y1="562.04" x2="97.1" y2="562.04" stroke="#000" stroke-width="1.5"/>
<text x="90.4" y="566.54" font-family='"Liberation Sans", sans-serif' font-size="11" font-weight="bold" text-anchor="end" fill="#000" textLength="12.85" lengthAdjust="spacingAndGlyphs">60</text>
<line x1="92.6" y1="524.22" x2="97.1" y2="524.22" stroke="#000" stroke-width="1.5"/>
<text x="90.4" y="528.72" font-family='"Liberation Sans", sans-serif' font-size="11" font-weight="bold" text-anchor="end" fill="#000" textLength="12.85" lengthAdjust="spacingAndGlyphs">80</text>
<line x1="92.6" y1="486.4" x2="97.1" y2="486.4" stroke="#000" stroke-width="1.5"/>
<text x="90.4" y="490.9" font-family='"Liberation Sans", sans-serif' font-size="11" font-weight="bold" text-anchor="end" fill="#000" textLength="19.28" lengthAdjust="spacingAndGlyphs">100</text>
<line x1="96.8" y1="676" x2="96.8" y2="680.4" stroke="#000" stroke-width="1.5"/>
<text x="96.8" y="692.7" font-family='"Liberation Sans", sans-serif' font-size="11" font-weight="bold" text-anchor="middle" fill="#000" textLength="6.85" lengthAdjust="spacingAndGlyphs">0</text>
<line x1="120.42" y1="676" x2="120.42" y2="680.4" stroke="#000" stroke-width="1.5"/>
<text x="120.42" y="692.7" font-family='"Liberation Sans", sans-serif' font-size="11" font-weight="bold" text-anchor="middle" fill="#000" textLength="13.71" lengthAdjust="spacingAndGlyphs">15</text>
<line x1="144.03" y1="676" x2="144.03" y2="680.4" stroke="#000" stroke-width="1.5"/>
<text x="144.03" y="692.7" font-family='"Liberation Sans", sans-serif' font-size="11" font-weight="bold" text-anchor="middle" fill="#000" textLength="13.71" lengthAdjust="spacingAndGlyphs">30</text>
<line x1="167.65" y1="676" x2="167.65" y2="680.4" stroke="#000" stroke-width="1.5"/>
<text x="167.65" y="692.7" font-family='"Liberation Sans", sans-serif' font-size="11" font-weight="bold" text-anchor="middle" fill="#000" textLength="13.71" lengthAdjust="spacingAndGlyphs">45</text>
<line x1="191.27" y1="676" x2="191.27" y2="680.4" stroke="#000" stroke-width="1.5"/>
<text x="191.27" y="692.7" font-family='"Liberation Sans", sans-serif' font-size="11" font-weight="bold" text-anchor="middle" fill="#000" textLength="13.71" lengthAdjust="spacingAndGlyphs">60</text>
<line x1="214.89" y1="676" x2="214.89" y2="680.4" stroke="#000" stroke-width="1.5"/>
<text x="214.89" y="692.7" font-family='"Liberation Sans", sans-serif' font-size="11" font-weight="bold" text-anchor="middle" fill="#000" textLength="13.71" lengthAdjust="spacingAndGlyphs">75</text>
<line x1="238.5" y1="676" x2="238.5" y2="680.4" stroke="#000" stroke-width="1.5"/>
<text x="238.5" y="692.7" font-family='"Liberation Sans", sans-serif' font-size="11" font-weight="bold" text-anchor="middle" fill="#000" textLength="13.71" lengthAdjust="spacingAndGlyphs">90</text>
<line x1="262.12" y1="676" x2="262.12" y2="680.4" stroke="#000" stroke-width="1.5"/>
<text x="262.12" y="692.7" font-family='"Liberation Sans", sans-serif' font-size="11" font-weight="bold" text-anchor="middle" fill="#000" textLength="20.56" lengthAdjust="spacingAndGlyphs">105</text>
<line x1="285.74" y1="676" x2="285.74" y2="680.4" stroke="#000" stroke-width="1.5"/>
<text x="285.74" y="692.7" font-family='"Liberation Sans", sans-serif' font-size="11" font-weight="bold" text-anchor="middle" fill="#000" textLength="20.56" lengthAdjust="spacingAndGlyphs">120</text>
<text x="192" y="711.1" font-family='"Liberation Sans", sans-serif' font-size="12.5" font-weight="bold" text-anchor="middle" fill="#000" textLength="91.2" lengthAdjust="spacingAndGlyphs">Time (minutes)</text>
<text x="0" y="0" font-family='"Liberation Sans", sans-serif' font-size="12.3" font-weight="bold" text-anchor="middle" fill="#000" transform="translate(47.2 578) rotate(-90)">Normalized Intermediate</text>
<text x="0" y="0" font-family='"Liberation Sans", sans-serif' font-size="12.3" font-weight="bold" text-anchor="middle" fill="#000" transform="translate(62.9 581) rotate(-90)">presence (%)</text>
<line x1="97.5" y1="580.95" x2="285.8" y2="580.95" stroke="#000" stroke-width="1.5" stroke-dasharray="1.4 1.9"/>
<path d="M96.8 486.4 L104.67 530.84 L120.42 580.95 L144.03 627.66 L191.27 646.95 L238.5 655.46 L285.74 664.34" fill="none" stroke="#000" stroke-width="1.0" stroke-dasharray="3 2"/>
<path d="M96.8 486.4 L104.67 533.11 L128.29 601.94 L191.27 657.35 L285.74 666.23" fill="none" stroke="#000" stroke-width="1.0" stroke-dasharray="3 2"/>
<rect x="100.52" y="526.69" width="8.3" height="8.3" fill="#000"/>
<rect x="116.27" y="576.8" width="8.3" height="8.3" fill="#000"/>
<rect x="139.88" y="623.51" width="8.3" height="8.3" fill="#000"/>
<rect x="187.12" y="642.8" width="8.3" height="8.3" fill="#000"/>
<rect x="234.35" y="651.31" width="8.3" height="8.3" fill="#000"/>
<circle cx="96.8" cy="486.4" r="5" fill="#000"/>
<circle cx="104.67" cy="532.54" r="4.9" fill="#000"/>
<circle cx="128.29" cy="601.94" r="3.7" fill="none" stroke="#000" stroke-width="2.4"/>
<circle cx="191.27" cy="657.35" r="3.7" fill="none" stroke="#000" stroke-width="2.4"/>
<text x="380" y="489.5" font-family='"Liberation Serif", serif' font-size="19" font-weight="normal" text-anchor="start" fill="#000" >D)</text>
<text x="450.8" y="530.5" font-family='"Liberation Sans", sans-serif' font-size="19.5" font-weight="normal" text-anchor="middle" fill="#000" textLength="13.5" lengthAdjust="spacingAndGlyphs">N</text>
<text x="497.7" y="564.7" font-family='"Liberation Sans", sans-serif' font-size="19.5" font-weight="normal" text-anchor="start" fill="#000" textLength="48.4" lengthAdjust="spacingAndGlyphs">Peak I</text>
<text x="569.9" y="586.5" font-family='"Liberation Sans", sans-serif' font-size="19.5" font-weight="normal" text-anchor="middle" fill="#000" >R</text>
<path d="M379 591.3 L379.5 591.3 L380 591.3 L380.5 591.3 L381 591.3 L381.5 591.3 L382 591.3 L382.5 591.3 L383 591.3 L383.5 591.3 L384 591.3 L384.5 591.3 L385 591.3 L385.5 591.3 L386 591.3 L386.5 591.3 L387 591.3 L387.5 591.3 L388 591.3 L388.5 591.3 L389 591.3 L389.5 591.3 L390 591.3 L390.5 591.3 L391 591.3 L391.5 591.3 L392 591.3 L392.5 591.3 L393 591.3 L393.5 591.3 L394 591.3 L394.5 591.3 L395 591.3 L395.5 591.3 L396 591.3 L396.5 591.3 L397 591.3 L397.5 591.3 L398 591.3 L398.5 591.3 L399 591.3 L399.5 591.3 L400 591.3 L400.5 591.3 L401 591.3 L401.5 591.3 L402 591.3 L402.5 591.3 L403 591.3 L403.5 591.3 L404 591.3 L404.5 591.3 L405 591.3 L405.5 591.3 L406 591.3 L406.5 591.3 L407 591.3 L407.5 591.3 L408 591.3 L408.5 591.3 L409 591.3 L409.5 591.3 L410 591.3 L410.5 591.3 L411 591.3 L411.5 591.3 L412 591.3 L412.5 591.3 L413 591.3 L413.5 591.3 L414 591.3 L414.5 591.3 L415 591.3 L415.5 591.3 L416 591.3 L416.5 591.3 L417 591.3 L417.5 591.3 L418 591.3 L418.5 591.3 L419 591.3 L419.5 591.3 L420 591.3 L420.5 591.3 L421 591.3 L421.5 591.3 L422 591.3 L422.5 591.3 L423 591.3 L423.5 591.3 L424 591.3 L424.5 591.3 L425 591.29 L425.5 591.28 L426 591.24 L426.5 591.14 L427 590.93 L427.5 590.48 L428 589.66 L428.5 588.26 L429 586.15 L429.5 583.29 L430 579.88 L430.5 576.37 L431 573.39 L431.5 571.58 L432 571.33 L432.5 572.18 L433 573.86 L433.5 576.08 L434 578.5 L434.5 580.76 L435 582.58 L435.5 583.76 L436 584.25 L436.5 584.08 L437 583.4 L437.5 582.43 L438 581.42 L438.5 580.61 L439 580.18 L439.5 580.27 L440 581.02 L440.5 582.28 L441 583.8 L441.5 585.32 L442 586.61 L442.5 587.55 L443 588.11 L443.5 588.32 L444 588.3 L444.5 588.12 L445 587.88 L445.5 587.61 L446 587.25 L446.5 586.67 L447 585.58 L447.5 583.59 L448 580.23 L448.5 575.09 L449 568.06 L449.5 559.51 L450 550.4 L450.5 542.19 L451 536.46 L451.5 534.49 L452 536.04 L452.5 540.23 L453 546.45 L453.5 553.89 L454 561.66 L454.5 568.99 L455 575.36 L455.5 580.48 L456 584.32 L456.5 587.03 L457 588.82 L457.5 589.93 L458 590.58 L458.5 590.94 L459 591.13 L459.5 591.22 L460 591.27 L460.5 591.29 L461 591.29 L461.5 591.3 L462 591.3 L462.5 591.3 L463 591.3 L463.5 591.3 L464 591.3 L464.5 591.3 L465 591.3 L465.5 591.3 L466 591.3 L466.5 591.3 L467 591.3 L467.5 591.3 L468 591.3 L468.5 591.3 L469 591.3 L469.5 591.3 L470 591.3 L470.5 591.3 L471 591.3 L471.5 591.3 L472 591.3 L472.5 591.3 L473 591.3 L473.5 591.3 L474 591.3 L474.5 591.3 L475 591.3 L475.5 591.3 L476 591.3 L476.5 591.3 L477 591.3 L477.5 591.3 L478 591.3 L478.5 591.3 L479 591.3 L479.5 591.3 L480 591.3 L480.5 591.3 L481 591.3 L481.5 591.3 L482 591.3 L482.5 591.3 L483 591.3 L483.5 591.3 L484 591.3 L484.5 591.3 L485 591.3 L485.5 591.3 L486 591.3 L486.5 591.3 L487 591.3 L487.5 591.3 L488 591.3 L488.5 591.3 L489 591.3 L489.5 591.3 L490 591.3 L490.5 591.3 L491 591.3 L491.5 591.3 L492 591.3 L492.5 591.3 L493 591.3 L493.5 591.3 L494 591.3 L494.5 591.3 L495 591.3 L495.5 591.3 L496 591.3 L496.5 591.3 L497 591.3 L497.5 591.3 L498 591.3 L498.5 591.3 L499 591.3 L499.5 591.3 L500 591.3 L500.5 591.3 L501 591.3 L501.5 591.3 L502 591.3 L502.5 591.3 L503 591.3 L503.5 591.3 L504 591.3 L504.5 591.3 L505 591.3 L505.5 591.3 L506 591.3 L506.5 591.3 L507 591.3 L507.5 591.3 L508 591.3 L508.5 591.3 L509 591.3 L509.5 591.3 L510 591.3 L510.5 591.3 L511 591.3 L511.5 591.3 L512 591.3 L512.5 591.3 L513 591.3 L513.5 591.3 L514 591.3 L514.5 591.3 L515 591.3 L515.5 591.3 L516 591.3 L516.5 591.3 L517 591.3 L517.5 591.3 L518 591.3 L518.5 591.3 L519 591.3 L519.5 591.3 L520 591.3 L520.5 591.3 L521 591.3 L521.5 591.3 L522 591.3 L522.5 591.3 L523 591.3 L523.5 591.3 L524 591.3 L524.5 591.3 L525 591.3 L525.5 591.3 L526 591.3 L526.5 591.3 L527 591.3 L527.5 591.3 L528 591.3 L528.5 591.3 L529 591.3 L529.5 591.3 L530 591.3 L530.5 591.3 L531 591.3 L531.5 591.3 L532 591.3 L532.5 591.3 L533 591.3 L533.5 591.3 L534 591.3 L534.5 591.3 L535 591.3 L535.5 591.3 L536 591.3 L536.5 591.3 L537 591.3 L537.5 591.3 L538 591.3 L538.5 591.3 L539 591.3 L539.5 591.3 L540 591.3 L540.5 591.3 L541 591.3 L541.5 591.3 L542 591.3 L542.5 591.3 L543 591.3 L543.5 591.3 L544 591.3 L544.5 591.3 L545 591.3 L545.5 591.3 L546 591.3 L546.5 591.3 L547 591.3 L547.5 591.3 L548 591.3 L548.5 591.3 L549 591.3 L549.5 591.3 L550 591.3 L550.5 591.3 L551 591.3 L551.5 591.3 L552 591.3 L552.5 591.3 L553 591.3 L553.5 591.3 L554 591.3 L554.5 591.3 L555 591.3 L555.5 591.3 L556 591.3 L556.5 591.3 L557 591.3 L557.5 591.3 L558 591.3 L558.5 591.3 L559 591.3 L559.5 591.3 L560 591.3 L560.5 591.3 L561 591.3 L561.5 591.3 L562 591.3 L562.5 591.3 L563 591.3 L563.5 591.3 L564 591.3 L564.5 591.3 L565 591.3 L565.5 591.3 L566 591.3 L566.5 591.3 L567 591.3 L567.5 591.3 L568 591.3 L568.5 591.3 L569 591.3 L569.5 591.3 L570 591.3 L570.5 591.3 L571 591.3 L571.5 591.3 L572 591.3 L572.5 591.3 L573 591.3 L573.5 591.3 L574 591.3 L574.5 591.3 L575 591.3 L575.5 591.3 L576 591.3 L576.5 591.3 L577 591.3 L577.5 591.3 L578 591.3 L578.5 591.3 L579 591.3 L579.5 591.3 L580 591.3 L580.5 591.3 L581 591.3 L581.5 591.3 L582 591.3 L582.5 591.3 L583 591.3 L583.5 591.3 L584 591.3 L584.5 591.3 L585 591.3 L585.5 591.3 L586 591.3 L586.5 591.3 L587 591.3 L587.5 591.3 L588 591.3 L588.5 591.3 L589 591.3 L589.5 591.3 L590 591.3 L590.5 591.3 L591 591.3 L591.5 591.3 L592 591.3 L592.5 591.3 L593 591.3 L593.5 591.3 L594 591.3 L594.5 591.3 L595 591.3 L595.5 591.3 L596 591.3 L596.5 591.3 L597 591.3 L597.5 591.3 L598 591.3 L598.5 591.3 L599 591.3 L599.5 591.3 L600 591.3 L600.5 591.3 L601 591.3 L601.5 591.3 L602 591.3 L602.5 591.3 L603 591.3 L603.5 591.3 L604 591.3 L604.5 591.3 L605 591.3 L605.5 591.3 L606 591.3 L606.5 591.3 L607 591.3 L607.5 591.3 L608 591.3 L608.5 591.3 L609 591.3 L609.5 591.3 L610 591.3 L610.5 591.3 L611 591.3 L611.5 591.3 L612 591.3 L612.5 591.3 L613 591.3 L613 591.3" fill="none" stroke="#000" stroke-width="1.8" stroke-linejoin="round" stroke-linecap="round"/>
<text x="616.6" y="593.9" font-family='"Liberation Sans", sans-serif' font-size="10.6" font-weight="normal" text-anchor="start" fill="#000" textLength="32.4" lengthAdjust="spacingAndGlyphs">7 hours</text>
<path d="M386.6 605.5 L387.1 605.5 L387.6 605.5 L388.1 605.5 L388.6 605.5 L389.1 605.5 L389.6 605.5 L390.1 605.5 L390.6 605.5 L391.1 605.5 L391.6 605.5 L392.1 605.5 L392.6 605.5 L393.1 605.5 L393.6 605.5 L394.1 605.5 L394.6 605.5 L395.1 605.5 L395.6 605.5 L396.1 605.5 L396.6 605.5 L397.1 605.5 L397.6 605.5 L398.1 605.5 L398.6 605.5 L399.1 605.5 L399.6 605.5 L400.1 605.5 L400.6 605.5 L401.1 605.5 L401.6 605.5 L402.1 605.5 L402.6 605.5 L403.1 605.5 L403.6 605.5 L404.1 605.5 L404.6 605.5 L405.1 605.5 L405.6 605.5 L406.1 605.5 L406.6 605.5 L407.1 605.5 L407.6 605.5 L408.1 605.5 L408.6 605.5 L409.1 605.5 L409.6 605.5 L410.1 605.5 L410.6 605.5 L411.1 605.5 L411.6 605.5 L412.1 605.5 L412.6 605.5 L413.1 605.5 L413.6 605.5 L414.1 605.5 L414.6 605.5 L415.1 605.5 L415.6 605.5 L416.1 605.5 L416.6 605.5 L417.1 605.5 L417.6 605.5 L418.1 605.5 L418.6 605.5 L419.1 605.5 L419.6 605.5 L420.1 605.5 L420.6 605.5 L421.1 605.5 L421.6 605.5 L422.1 605.5 L422.6 605.5 L423.1 605.5 L423.6 605.5 L424.1 605.5 L424.6 605.5 L425.1 605.5 L425.6 605.5 L426.1 605.5 L426.6 605.5 L427.1 605.5 L427.6 605.5 L428.1 605.5 L428.6 605.5 L429.1 605.5 L429.6 605.5 L430.1 605.5 L430.6 605.5 L431.1 605.5 L431.6 605.5 L432.1 605.5 L432.6 605.5 L433.1 605.5 L433.6 605.5 L434.1 605.49 L434.6 605.47 L435.1 605.42 L435.6 605.3 L436.1 605.03 L436.6 604.51 L437.1 603.57 L437.6 602.05 L438.1 599.85 L438.6 597.01 L439.1 593.81 L439.6 590.74 L440.1 588.4 L440.6 587.33 L441.1 587.85 L441.6 589.93 L442.1 593 L442.6 596.32 L443.1 599.21 L443.6 601.26 L444.1 602.32 L444.6 602.45 L445.1 601.81 L445.6 600.6 L446.1 599.07 L446.6 597.47 L447.1 596.1 L447.6 595.21 L448.1 594.98 L448.6 595.43 L449.1 596.47 L449.6 597.87 L450.1 599.35 L450.6 600.68 L451.1 601.68 L451.6 602.29 L452.1 602.56 L452.6 602.59 L453.1 602.48 L453.6 602.37 L454.1 602.3 L454.6 602.24 L455.1 602.06 L455.6 601.5 L456.1 600.16 L456.6 597.57 L457.1 593.3 L457.6 587.09 L458.1 579.12 L458.6 570.13 L459.1 561.37 L459.6 554.42 L460.1 550.67 L460.6 550.7 L461.1 553.5 L461.6 558.54 L462.1 565.07 L462.6 572.25 L463.1 579.28 L463.6 585.56 L464.1 590.74 L464.6 594.71 L465.1 597.57 L465.6 599.52 L466.1 600.81 L466.6 601.62 L467.1 602.11 L467.6 602.43 L468.1 602.65 L468.6 602.83 L469.1 603.01 L469.6 603.18 L470.1 603.35 L470.6 603.53 L471.1 603.72 L471.6 603.9 L472.1 604.07 L472.6 604.24 L473.1 604.41 L473.6 604.56 L474.1 604.69 L474.6 604.82 L475.1 604.93 L475.6 605.03 L476.1 605.11 L476.6 605.18 L477.1 605.24 L477.6 605.3 L478.1 605.34 L478.6 605.37 L479.1 605.4 L479.6 605.43 L480.1 605.44 L480.6 605.46 L481.1 605.47 L481.6 605.48 L482.1 605.48 L482.6 605.49 L483.1 605.49 L483.6 605.49 L484.1 605.5 L484.6 605.5 L485.1 605.5 L485.6 605.5 L486.1 605.5 L486.6 605.5 L487.1 605.5 L487.6 605.5 L488.1 605.5 L488.6 605.5 L489.1 605.5 L489.6 605.5 L490.1 605.5 L490.6 605.5 L491.1 605.5 L491.6 605.5 L492.1 605.5 L492.6 605.5 L493.1 605.5 L493.6 605.5 L494.1 605.5 L494.6 605.5 L495.1 605.5 L495.6 605.5 L496.1 605.5 L496.6 605.5 L497.1 605.5 L497.6 605.5 L498.1 605.5 L498.6 605.5 L499.1 605.5 L499.6 605.5 L500.1 605.5 L500.6 605.5 L501.1 605.5 L501.6 605.5 L502.1 605.5 L502.6 605.5 L503.1 605.5 L503.6 605.5 L504.1 605.5 L504.6 605.5 L505.1 605.5 L505.6 605.5 L506.1 605.5 L506.6 605.5 L507.1 605.5 L507.6 605.5 L508.1 605.5 L508.6 605.5 L509.1 605.5 L509.6 605.5 L510.1 605.5 L510.6 605.5 L511.1 605.5 L511.6 605.5 L512.1 605.5 L512.6 605.5 L513.1 605.5 L513.6 605.5 L514.1 605.5 L514.6 605.5 L515.1 605.5 L515.6 605.5 L516.1 605.5 L516.6 605.5 L517.1 605.5 L517.6 605.5 L518.1 605.5 L518.6 605.5 L519.1 605.5 L519.6 605.5 L520.1 605.5 L520.6 605.5 L521.1 605.5 L521.6 605.5 L522.1 605.5 L522.6 605.5 L523.1 605.5 L523.6 605.5 L524.1 605.5 L524.6 605.5 L525.1 605.5 L525.6 605.5 L526.1 605.5 L526.6 605.5 L527.1 605.5 L527.6 605.5 L528.1 605.5 L528.6 605.5 L529.1 605.5 L529.6 605.5 L530.1 605.5 L530.6 605.5 L531.1 605.5 L531.6 605.5 L532.1 605.5 L532.6 605.5 L533.1 605.5 L533.6 605.5 L534.1 605.5 L534.6 605.5 L535.1 605.5 L535.6 605.5 L536.1 605.5 L536.6 605.5 L537.1 605.5 L537.6 605.5 L538.1 605.5 L538.6 605.5 L539.1 605.5 L539.6 605.5 L540.1 605.5 L540.6 605.5 L541.1 605.5 L541.6 605.5 L542.1 605.5 L542.6 605.5 L543.1 605.5 L543.6 605.5 L544.1 605.5 L544.6 605.5 L545.1 605.5 L545.6 605.5 L546.1 605.5 L546.6 605.5 L547.1 605.5 L547.6 605.5 L548.1 605.5 L548.6 605.5 L549.1 605.5 L549.6 605.5 L550.1 605.5 L550.6 605.5 L551.1 605.5 L551.6 605.5 L552.1 605.5 L552.6 605.5 L553.1 605.5 L553.6 605.5 L554.1 605.5 L554.6 605.5 L555.1 605.5 L555.6 605.5 L556.1 605.5 L556.6 605.5 L557.1 605.5 L557.6 605.5 L558.1 605.5 L558.6 605.5 L559.1 605.5 L559.6 605.5 L560.1 605.5 L560.6 605.5 L561.1 605.5 L561.6 605.5 L562.1 605.5 L562.6 605.5 L563.1 605.5 L563.6 605.5 L564.1 605.5 L564.6 605.5 L565.1 605.5 L565.6 605.5 L566.1 605.5 L566.6 605.5 L567.1 605.5 L567.6 605.5 L568.1 605.5 L568.6 605.5 L569.1 605.5 L569.6 605.5 L570.1 605.5 L570.6 605.5 L571.1 605.5 L571.6 605.5 L572.1 605.5 L572.6 605.5 L573.1 605.5 L573.6 605.5 L574.1 605.5 L574.6 605.5 L575.1 605.5 L575.6 605.5 L576.1 605.5 L576.6 605.5 L577.1 605.5 L577.6 605.5 L578.1 605.5 L578.6 605.5 L579.1 605.5 L579.6 605.5 L580.1 605.5 L580.6 605.5 L581.1 605.5 L581.6 605.5 L582.1 605.5 L582.6 605.5 L583.1 605.5 L583.6 605.5 L584.1 605.5 L584.6 605.5 L585.1 605.5 L585.6 605.5 L586.1 605.5 L586.6 605.5 L587.1 605.5 L587.6 605.5 L588.1 605.5 L588.6 605.5 L589.1 605.5 L589.6 605.5 L590.1 605.5 L590.6 605.5 L591.1 605.5 L591.6 605.5 L592.1 605.5 L592.6 605.5 L593.1 605.5 L593.6 605.5 L594.1 605.5 L594.6 605.5 L595.1 605.5 L595.6 605.5 L596.1 605.5 L596.6 605.5 L597.1 605.5 L597.6 605.5 L598.1 605.5 L598.6 605.5 L599.1 605.5 L599.6 605.5 L600.1 605.5 L600.6 605.5 L601.1 605.5 L601.6 605.5 L602.1 605.5 L602.6 605.5 L603.1 605.5 L603.6 605.5 L604.1 605.5 L604.6 605.5 L605.1 605.5 L605.6 605.5 L606.1 605.5 L606.6 605.5 L607.1 605.5 L607.6 605.5 L608.1 605.5 L608.6 605.5 L609.1 605.5 L609.6 605.5 L610.1 605.5 L610.6 605.5 L611.1 605.5 L611.6 605.5 L612.1 605.5 L612.6 605.5 L613.1 605.5 L613.6 605.5 L614.1 605.5 L614.6 605.5 L615.1 605.5 L615.6 605.5 L616.1 605.5 L616.6 605.5 L617.1 605.5 L617.6 605.5 L618.1 605.5 L618.6 605.5 L619.1 605.5 L619.6 605.5 L620.1 605.5 L620.6 605.5 L621.1 605.5 L621.5 605.5" fill="none" stroke="#000" stroke-width="1.8" stroke-linejoin="round" stroke-linecap="round"/>
<text x="625.7" y="608.1" font-family='"Liberation Sans", sans-serif' font-size="10.6" font-weight="normal" text-anchor="start" fill="#000" textLength="32.4" lengthAdjust="spacingAndGlyphs">5 hours</text>
<path d="M394.2 622.2 L394.7 622.2 L395.2 622.2 L395.7 622.2 L396.2 622.2 L396.7 622.2 L397.2 622.2 L397.7 622.2 L398.2 622.2 L398.7 622.2 L399.2 622.2 L399.7 622.2 L400.2 622.2 L400.7 622.2 L401.2 622.2 L401.7 622.2 L402.2 622.2 L402.7 622.2 L403.2 622.2 L403.7 622.2 L404.2 622.2 L404.7 622.2 L405.2 622.2 L405.7 622.2 L406.2 622.2 L406.7 622.2 L407.2 622.2 L407.7 622.2 L408.2 622.2 L408.7 622.2 L409.2 622.2 L409.7 622.2 L410.2 622.2 L410.7 622.2 L411.2 622.2 L411.7 622.2 L412.2 622.2 L412.7 622.2 L413.2 622.2 L413.7 622.2 L414.2 622.2 L414.7 622.2 L415.2 622.2 L415.7 622.2 L416.2 622.2 L416.7 622.2 L417.2 622.2 L417.7 622.2 L418.2 622.2 L418.7 622.2 L419.2 622.2 L419.7 622.2 L420.2 622.2 L420.7 622.2 L421.2 622.2 L421.7 622.2 L422.2 622.2 L422.7 622.2 L423.2 622.2 L423.7 622.2 L424.2 622.2 L424.7 622.2 L425.2 622.2 L425.7 622.2 L426.2 622.2 L426.7 622.2 L427.2 622.2 L427.7 622.2 L428.2 622.2 L428.7 622.2 L429.2 622.2 L429.7 622.2 L430.2 622.2 L430.7 622.2 L431.2 622.2 L431.7 622.2 L432.2 622.2 L432.7 622.2 L433.2 622.2 L433.7 622.2 L434.2 622.2 L434.7 622.2 L435.2 622.2 L435.7 622.2 L436.2 622.2 L436.7 622.2 L437.2 622.2 L437.7 622.2 L438.2 622.2 L438.7 622.2 L439.2 622.2 L439.7 622.2 L440.2 622.2 L440.7 622.2 L441.2 622.2 L441.7 622.2 L442.2 622.2 L442.7 622.19 L443.2 622.16 L443.7 622.11 L444.2 621.97 L444.7 621.69 L445.2 621.15 L445.7 620.22 L446.2 618.79 L446.7 616.81 L447.2 614.38 L447.7 611.8 L448.2 609.5 L448.7 607.98 L449.2 607.58 L449.7 607.97 L450.2 608.91 L450.7 610.23 L451.2 611.75 L451.7 613.25 L452.2 614.53 L452.7 615.43 L453.2 615.88 L453.7 615.87 L454.2 615.46 L454.7 614.79 L455.2 614.04 L455.7 613.39 L456.2 612.99 L456.7 612.97 L457.2 613.43 L457.7 614.3 L458.2 615.39 L458.7 616.49 L459.2 617.41 L459.7 618.05 L460.2 618.41 L460.7 618.54 L461.2 618.54 L461.7 618.46 L462.2 618.32 L462.7 618.01 L463.2 617.3 L463.7 615.79 L464.2 612.99 L464.7 608.43 L465.2 601.84 L465.7 593.38 L466.2 583.83 L466.7 574.54 L467.2 567.18 L467.7 563.3 L468.2 563.48 L468.7 566.67 L469.2 572.28 L469.7 579.51 L470.2 587.44 L470.7 595.19 L471.2 602.1 L471.7 607.77 L472.2 612.07 L472.7 615.08 L473.2 617.01 L473.7 618.13 L474.2 618.68 L474.7 618.86 L475.2 618.83 L475.7 618.7 L476.2 618.54 L476.7 618.39 L477.2 618.27 L477.7 618.21 L478.2 618.2 L478.7 618.23 L479.2 618.28 L479.7 618.36 L480.2 618.46 L480.7 618.59 L481.2 618.73 L481.7 618.89 L482.2 619.07 L482.7 619.26 L483.2 619.45 L483.7 619.65 L484.2 619.85 L484.7 620.06 L485.2 620.25 L485.7 620.44 L486.2 620.63 L486.7 620.8 L487.2 620.97 L487.7 621.12 L488.2 621.26 L488.7 621.38 L489.2 621.5 L489.7 621.6 L490.2 621.69 L490.7 621.77 L491.2 621.84 L491.7 621.9 L492.2 621.96 L492.7 622 L493.2 622.04 L493.7 622.07 L494.2 622.1 L494.7 622.12 L495.2 622.13 L495.7 622.15 L496.2 622.16 L496.7 622.17 L497.2 622.18 L497.7 622.18 L498.2 622.19 L498.7 622.19 L499.2 622.19 L499.7 622.19 L500.2 622.2 L500.7 622.2 L501.2 622.2 L501.7 622.2 L502.2 622.2 L502.7 622.2 L503.2 622.2 L503.7 622.2 L504.2 622.2 L504.7 622.2 L505.2 622.2 L505.7 622.2 L506.2 622.2 L506.7 622.2 L507.2 622.2 L507.7 622.2 L508.2 622.2 L508.7 622.2 L509.2 622.2 L509.7 622.2 L510.2 622.2 L510.7 622.2 L511.2 622.2 L511.7 622.2 L512.2 622.2 L512.7 622.2 L513.2 622.2 L513.7 622.2 L514.2 622.2 L514.7 622.2 L515.2 622.2 L515.7 622.2 L516.2 622.2 L516.7 622.2 L517.2 622.2 L517.7 622.2 L518.2 622.2 L518.7 622.2 L519.2 622.2 L519.7 622.2 L520.2 622.2 L520.7 622.2 L521.2 622.2 L521.7 622.2 L522.2 622.2 L522.7 622.2 L523.2 622.2 L523.7 622.2 L524.2 622.2 L524.7 622.2 L525.2 622.2 L525.7 622.2 L526.2 622.2 L526.7 622.2 L527.2 622.2 L527.7 622.2 L528.2 622.2 L528.7 622.2 L529.2 622.2 L529.7 622.2 L530.2 622.2 L530.7 622.2 L531.2 622.2 L531.7 622.2 L532.2 622.2 L532.7 622.2 L533.2 622.2 L533.7 622.2 L534.2 622.2 L534.7 622.2 L535.2 622.2 L535.7 622.2 L536.2 622.2 L536.7 622.2 L537.2 622.2 L537.7 622.2 L538.2 622.2 L538.7 622.2 L539.2 622.2 L539.7 622.2 L540.2 622.2 L540.7 622.2 L541.2 622.2 L541.7 622.2 L542.2 622.2 L542.7 622.2 L543.2 622.2 L543.7 622.2 L544.2 622.2 L544.7 622.2 L545.2 622.2 L545.7 622.2 L546.2 622.2 L546.7 622.2 L547.2 622.2 L547.7 622.2 L548.2 622.2 L548.7 622.2 L549.2 622.2 L549.7 622.2 L550.2 622.2 L550.7 622.2 L551.2 622.2 L551.7 622.2 L552.2 622.2 L552.7 622.2 L553.2 622.2 L553.7 622.2 L554.2 622.2 L554.7 622.2 L555.2 622.2 L555.7 622.2 L556.2 622.2 L556.7 622.2 L557.2 622.2 L557.7 622.2 L558.2 622.2 L558.7 622.2 L559.2 622.2 L559.7 622.2 L560.2 622.2 L560.7 622.2 L561.2 622.2 L561.7 622.2 L562.2 622.2 L562.7 622.2 L563.2 622.2 L563.7 622.2 L564.2 622.2 L564.7 622.2 L565.2 622.2 L565.7 622.2 L566.2 622.2 L566.7 622.2 L567.2 622.2 L567.7 622.2 L568.2 622.2 L568.7 622.2 L569.2 622.2 L569.7 622.2 L570.2 622.2 L570.7 622.2 L571.2 622.2 L571.7 622.2 L572.2 622.2 L572.7 622.2 L573.2 622.2 L573.7 622.2 L574.2 622.2 L574.7 622.2 L575.2 622.2 L575.7 622.2 L576.2 622.2 L576.7 622.2 L577.2 622.2 L577.7 622.2 L578.2 622.2 L578.7 622.2 L579.2 622.2 L579.7 622.2 L580.2 622.2 L580.7 622.2 L581.2 622.2 L581.7 622.2 L582.2 622.2 L582.7 622.2 L583.2 622.2 L583.7 622.2 L584.2 622.2 L584.7 622.2 L585.2 622.2 L585.7 622.2 L586.2 622.2 L586.7 622.2 L587.2 622.2 L587.7 622.2 L588.2 622.2 L588.7 622.2 L589.2 622.2 L589.7 622.2 L590.2 622.2 L590.7 622.2 L591.2 622.2 L591.7 622.2 L592.2 622.2 L592.7 622.2 L593.2 622.2 L593.7 622.2 L594.2 622.2 L594.7 622.2 L595.2 622.2 L595.7 622.2 L596.2 622.2 L596.7 622.2 L597.2 622.2 L597.7 622.2 L598.2 622.2 L598.7 622.2 L599.2 622.2 L599.7 622.2 L600.2 622.2 L600.7 622.2 L601.2 622.2 L601.7 622.2 L602.2 622.2 L602.7 622.2 L603.2 622.2 L603.7 622.2 L604.2 622.2 L604.7 622.2 L605.2 622.2 L605.7 622.2 L606.2 622.2 L606.7 622.2 L607.2 622.2 L607.7 622.2 L608.2 622.2 L608.7 622.2 L609.2 622.2 L609.7 622.2 L610.2 622.2 L610.7 622.2 L611.2 622.2 L611.7 622.2 L612.2 622.2 L612.7 622.2 L613.2 622.2 L613.7 622.2 L614.2 622.2 L614.7 622.2 L615.2 622.2 L615.7 622.2 L616.2 622.2 L616.7 622.2 L617.2 622.2 L617.7 622.2 L618.2 622.2 L618.7 622.2 L619.2 622.2 L619.7 622.2 L620.2 622.2 L620.7 622.2 L621.2 622.2 L621.7 622.2 L622.2 622.2 L622.7 622.2 L623.2 622.2 L623.7 622.2 L624.2 622.2 L624.7 622.2 L625.2 622.2 L625.7 622.2 L626.2 622.2 L626.7 622.2 L627.2 622.2 L627.7 622.2 L628.2 622.2 L628.7 622.2 L628.9 622.2" fill="none" stroke="#000" stroke-width="1.8" stroke-linejoin="round" stroke-linecap="round"/>
<text x="633.1" y="624.8" font-family='"Liberation Sans", sans-serif' font-size="10.6" font-weight="normal" text-anchor="start" fill="#000" textLength="32.9" lengthAdjust="spacingAndGlyphs">3 hours</text>
<path d="M402.6 633.6 L403.1 633.6 L403.6 633.6 L404.1 633.6 L404.6 633.6 L405.1 633.6 L405.6 633.6 L406.1 633.6 L406.6 633.6 L407.1 633.6 L407.6 633.6 L408.1 633.6 L408.6 633.6 L409.1 633.6 L409.6 633.6 L410.1 633.6 L410.6 633.6 L411.1 633.6 L411.6 633.6 L412.1 633.6 L412.6 633.6 L413.1 633.6 L413.6 633.6 L414.1 633.6 L414.6 633.6 L415.1 633.6 L415.6 633.6 L416.1 633.6 L416.6 633.6 L417.1 633.6 L417.6 633.6 L418.1 633.6 L418.6 633.6 L419.1 633.6 L419.6 633.6 L420.1 633.6 L420.6 633.6 L421.1 633.6 L421.6 633.6 L422.1 633.6 L422.6 633.6 L423.1 633.6 L423.6 633.6 L424.1 633.6 L424.6 633.6 L425.1 633.6 L425.6 633.6 L426.1 633.6 L426.6 633.6 L427.1 633.6 L427.6 633.6 L428.1 633.6 L428.6 633.6 L429.1 633.6 L429.6 633.6 L430.1 633.6 L430.6 633.6 L431.1 633.6 L431.6 633.6 L432.1 633.6 L432.6 633.6 L433.1 633.6 L433.6 633.6 L434.1 633.6 L434.6 633.6 L435.1 633.6 L435.6 633.6 L436.1 633.6 L436.6 633.6 L437.1 633.6 L437.6 633.6 L438.1 633.6 L438.6 633.6 L439.1 633.6 L439.6 633.6 L440.1 633.6 L440.6 633.6 L441.1 633.6 L441.6 633.6 L442.1 633.6 L442.6 633.6 L443.1 633.6 L443.6 633.6 L444.1 633.6 L444.6 633.6 L445.1 633.6 L445.6 633.6 L446.1 633.6 L446.6 633.6 L447.1 633.6 L447.6 633.6 L448.1 633.6 L448.6 633.6 L449.1 633.6 L449.6 633.6 L450.1 633.6 L450.6 633.6 L451.1 633.6 L451.6 633.6 L452.1 633.6 L452.6 633.59 L453.1 633.57 L453.6 633.53 L454.1 633.44 L454.6 633.28 L455.1 633.02 L455.6 632.61 L456.1 632.04 L456.6 631.33 L457.1 630.53 L457.6 629.76 L458.1 629.15 L458.6 628.82 L459.1 628.85 L459.6 629.21 L460.1 629.81 L460.6 630.49 L461.1 631.07 L461.6 631.4 L462.1 631.38 L462.6 630.96 L463.1 630.16 L463.6 629.1 L464.1 627.95 L464.6 626.92 L465.1 626.22 L465.6 625.96 L466.1 626.16 L466.6 626.73 L467.1 627.49 L467.6 628.26 L468.1 628.93 L468.6 629.42 L469.1 629.73 L469.6 629.92 L470.1 630.02 L470.6 630 L471.1 629.77 L471.6 629.08 L472.1 627.6 L472.6 624.85 L473.1 620.39 L473.6 613.99 L474.1 605.8 L474.6 596.58 L475.1 587.61 L475.6 580.52 L476.1 576.75 L476.6 576.89 L477.1 579.9 L477.6 585.23 L478.1 592.11 L478.6 599.65 L479.1 607.02 L479.6 613.58 L480.1 618.95 L480.6 623.02 L481.1 625.87 L481.6 627.7 L482.1 628.77 L482.6 629.32 L483.1 629.55 L483.6 629.61 L484.1 629.59 L484.6 629.57 L485.1 629.58 L485.6 629.61 L486.1 629.66 L486.6 629.74 L487.1 629.84 L487.6 629.96 L488.1 630.1 L488.6 630.26 L489.1 630.43 L489.6 630.62 L490.1 630.81 L490.6 631.01 L491.1 631.21 L491.6 631.42 L492.1 631.61 L492.6 631.81 L493.1 631.99 L493.6 632.17 L494.1 632.33 L494.6 632.48 L495.1 632.62 L495.6 632.74 L496.1 632.83 L496.6 632.89 L497.1 632.91 L497.6 632.85 L498.1 632.69 L498.6 632.39 L499.1 631.94 L499.6 631.3 L500.1 630.47 L500.6 629.48 L501.1 628.42 L501.6 627.37 L502.1 626.47 L502.6 625.84 L503.1 625.57 L503.6 625.7 L504.1 626.22 L504.6 627.05 L505.1 628.08 L505.6 629.18 L506.1 630.24 L506.6 631.17 L507.1 631.93 L507.6 632.51 L508.1 632.93 L508.6 633.2 L509.1 633.38 L509.6 633.48 L510.1 633.54 L510.6 633.57 L511.1 633.59 L511.6 633.59 L512.1 633.6 L512.6 633.6 L513.1 633.6 L513.6 633.6 L514.1 633.6 L514.6 633.6 L515.1 633.6 L515.6 633.6 L516.1 633.6 L516.6 633.6 L517.1 633.6 L517.6 633.6 L518.1 633.6 L518.6 633.6 L519.1 633.6 L519.6 633.6 L520.1 633.6 L520.6 633.6 L521.1 633.6 L521.6 633.6 L522.1 633.6 L522.6 633.6 L523.1 633.6 L523.6 633.6 L524.1 633.6 L524.6 633.6 L525.1 633.6 L525.6 633.6 L526.1 633.6 L526.6 633.6 L527.1 633.6 L527.6 633.6 L528.1 633.6 L528.6 633.6 L529.1 633.6 L529.6 633.6 L530.1 633.6 L530.6 633.6 L531.1 633.6 L531.6 633.6 L532.1 633.6 L532.6 633.6 L533.1 633.6 L533.6 633.6 L534.1 633.6 L534.6 633.6 L535.1 633.6 L535.6 633.6 L536.1 633.6 L536.6 633.6 L537.1 633.6 L537.6 633.6 L538.1 633.6 L538.6 633.6 L539.1 633.6 L539.6 633.6 L540.1 633.6 L540.6 633.6 L541.1 633.6 L541.6 633.6 L542.1 633.6 L542.6 633.6 L543.1 633.6 L543.6 633.6 L544.1 633.6 L544.6 633.6 L545.1 633.6 L545.6 633.6 L546.1 633.59 L546.6 633.59 L547.1 633.58 L547.6 633.56 L548.1 633.53 L548.6 633.48 L549.1 633.41 L549.6 633.31 L550.1 633.17 L550.6 632.99 L551.1 632.76 L551.6 632.5 L552.1 632.2 L552.6 631.9 L553.1 631.62 L553.6 631.37 L554.1 631.2 L554.6 631.11 L555.1 631.12 L555.6 631.22 L556.1 631.42 L556.6 631.67 L557.1 631.96 L557.6 632.26 L558.1 632.55 L558.6 632.81 L559.1 633.03 L559.6 633.2 L560.1 633.34 L560.6 633.43 L561.1 633.5 L561.6 633.54 L562.1 633.56 L562.6 633.58 L563.1 633.59 L563.6 633.59 L564.1 633.6 L564.6 633.6 L565.1 633.6 L565.6 633.6 L566.1 633.6 L566.6 633.6 L567.1 633.6 L567.6 633.6 L568.1 633.6 L568.6 633.6 L569.1 633.6 L569.6 633.6 L570.1 633.6 L570.6 633.6 L571.1 633.6 L571.6 633.6 L572.1 633.6 L572.6 633.6 L573.1 633.6 L573.6 633.6 L574.1 633.6 L574.6 633.6 L575.1 633.6 L575.6 633.6 L576.1 633.6 L576.6 633.6 L577.1 633.6 L577.6 633.6 L578.1 633.6 L578.6 633.6 L579.1 633.6 L579.6 633.6 L580.1 633.6 L580.6 633.6 L581.1 633.6 L581.6 633.6 L582.1 633.6 L582.6 633.6 L583.1 633.6 L583.6 633.6 L584.1 633.6 L584.6 633.6 L585.1 633.6 L585.6 633.6 L586.1 633.6 L586.6 633.6 L587.1 633.6 L587.6 633.6 L588.1 633.6 L588.6 633.6 L589.1 633.6 L589.6 633.6 L590.1 633.6 L590.6 633.6 L591.1 633.6 L591.6 633.6 L592.1 633.6 L592.6 633.6 L593.1 633.6 L593.6 633.6 L594.1 633.6 L594.6 633.6 L595.1 633.6 L595.6 633.6 L596.1 633.6 L596.6 633.6 L597.1 633.6 L597.6 633.6 L598.1 633.6 L598.6 633.6 L599.1 633.6 L599.6 633.6 L600.1 633.6 L600.6 633.6 L601.1 633.6 L601.6 633.6 L602.1 633.6 L602.6 633.6 L603.1 633.6 L603.6 633.6 L604.1 633.6 L604.6 633.6 L605.1 633.6 L605.6 633.6 L606.1 633.6 L606.6 633.6 L607.1 633.6 L607.6 633.6 L608.1 633.6 L608.6 633.6 L609.1 633.6 L609.6 633.6 L610.1 633.6 L610.6 633.6 L611.1 633.6 L611.6 633.6 L612.1 633.6 L612.6 633.6 L613.1 633.6 L613.6 633.6 L614.1 633.6 L614.6 633.6 L615.1 633.6 L615.6 633.6 L616.1 633.6 L616.6 633.6 L617.1 633.6 L617.6 633.6 L618.1 633.6 L618.6 633.6 L619.1 633.6 L619.6 633.6 L620.1 633.6 L620.6 633.6 L621.1 633.6 L621.6 633.6 L622.1 633.6 L622.6 633.6 L623.1 633.6 L623.6 633.6 L624.1 633.6 L624.6 633.6 L625.1 633.6 L625.6 633.6 L626.1 633.6 L626.6 633.6 L627.1 633.6 L627.6 633.6 L628.1 633.6 L628.6 633.6 L629.1 633.6 L629.6 633.6 L630.1 633.6 L630.6 633.6 L631.1 633.6 L631.6 633.6 L632.1 633.6 L632.6 633.6 L633.1 633.6 L633.6 633.6 L634.1 633.6 L634.6 633.6 L635.1 633.6 L635.6 633.6 L636.1 633.6 L636.6 633.6 L637 633.6" fill="none" stroke="#000" stroke-width="1.8" stroke-linejoin="round" stroke-linecap="round"/>
<text x="640.6" y="636.2" font-family='"Liberation Sans", sans-serif' font-size="10.6" font-weight="normal" text-anchor="start" fill="#000" textLength="27.5" lengthAdjust="spacingAndGlyphs">1 hour</text>
<path d="M410.4 647.6 L410.9 647.6 L411.4 647.6 L411.9 647.6 L412.4 647.6 L412.9 647.6 L413.4 647.6 L413.9 647.6 L414.4 647.6 L414.9 647.6 L415.4 647.6 L415.9 647.6 L416.4 647.6 L416.9 647.6 L417.4 647.6 L417.9 647.6 L418.4 647.6 L418.9 647.6 L419.4 647.6 L419.9 647.6 L420.4 647.6 L420.9 647.6 L421.4 647.6 L421.9 647.6 L422.4 647.6 L422.9 647.6 L423.4 647.6 L423.9 647.6 L424.4 647.6 L424.9 647.6 L425.4 647.6 L425.9 647.6 L426.4 647.6 L426.9 647.6 L427.4 647.6 L427.9 647.6 L428.4 647.6 L428.9 647.6 L429.4 647.6 L429.9 647.6 L430.4 647.6 L430.9 647.6 L431.4 647.6 L431.9 647.6 L432.4 647.6 L432.9 647.6 L433.4 647.6 L433.9 647.6 L434.4 647.6 L434.9 647.6 L435.4 647.6 L435.9 647.6 L436.4 647.6 L436.9 647.6 L437.4 647.6 L437.9 647.6 L438.4 647.6 L438.9 647.6 L439.4 647.6 L439.9 647.6 L440.4 647.6 L440.9 647.6 L441.4 647.6 L441.9 647.6 L442.4 647.6 L442.9 647.6 L443.4 647.6 L443.9 647.6 L444.4 647.6 L444.9 647.6 L445.4 647.6 L445.9 647.6 L446.4 647.6 L446.9 647.6 L447.4 647.6 L447.9 647.6 L448.4 647.6 L448.9 647.6 L449.4 647.6 L449.9 647.6 L450.4 647.6 L450.9 647.6 L451.4 647.6 L451.9 647.6 L452.4 647.6 L452.9 647.6 L453.4 647.6 L453.9 647.6 L454.4 647.6 L454.9 647.6 L455.4 647.6 L455.9 647.6 L456.4 647.6 L456.9 647.6 L457.4 647.6 L457.9 647.6 L458.4 647.6 L458.9 647.6 L459.4 647.6 L459.9 647.6 L460.4 647.6 L460.9 647.6 L461.4 647.59 L461.9 647.59 L462.4 647.57 L462.9 647.53 L463.4 647.47 L463.9 647.37 L464.4 647.23 L464.9 647.03 L465.4 646.79 L465.9 646.54 L466.4 646.31 L466.9 646.15 L467.4 646.09 L467.9 646.12 L468.4 646.23 L468.9 646.37 L469.4 646.47 L469.9 646.45 L470.4 646.28 L470.9 645.93 L471.4 645.42 L471.9 644.85 L472.4 644.31 L472.9 643.93 L473.4 643.79 L473.9 643.94 L474.4 644.34 L474.9 644.91 L475.4 645.55 L475.9 646.15 L476.4 646.65 L476.9 647.03 L477.4 647.28 L477.9 647.43 L478.4 647.5 L478.9 647.52 L479.4 647.47 L479.9 647.31 L480.4 646.94 L480.9 646.16 L481.4 644.72 L481.9 642.29 L482.4 638.61 L482.9 633.63 L483.4 627.69 L483.9 621.56 L484.4 616.34 L484.9 613.15 L485.4 612.67 L485.9 614.41 L486.4 617.87 L486.9 622.45 L487.4 627.42 L487.9 632.12 L488.4 636.09 L488.9 639.11 L489.4 641.18 L489.9 642.41 L490.4 643.02 L490.9 643.2 L491.4 643.13 L491.9 642.92 L492.4 642.67 L492.9 642.42 L493.4 642.21 L493.9 642.05 L494.4 641.96 L494.9 641.92 L495.4 641.95 L495.9 642.03 L496.4 642.16 L496.9 642.33 L497.4 642.53 L497.9 642.74 L498.4 642.97 L498.9 643.2 L499.4 643.42 L499.9 643.64 L500.4 643.84 L500.9 644.03 L501.4 644.2 L501.9 644.36 L502.4 644.51 L502.9 644.65 L503.4 644.78 L503.9 644.91 L504.4 645.04 L504.9 645.14 L505.4 645.21 L505.9 645.18 L506.4 644.96 L506.9 644.4 L507.4 643.32 L507.9 641.58 L508.4 639.15 L508.9 636.25 L509.4 633.35 L509.9 631.13 L510.4 630.16 L510.9 630.56 L511.4 631.93 L511.9 634.02 L512.4 636.51 L512.9 639.07 L513.4 641.41 L513.9 643.35 L514.4 644.83 L514.9 645.88 L515.4 646.56 L515.9 646.99 L516.4 647.24 L516.9 647.38 L517.4 647.46 L517.9 647.5 L518.4 647.53 L518.9 647.55 L519.4 647.56 L519.9 647.57 L520.4 647.58 L520.9 647.58 L521.4 647.59 L521.9 647.59 L522.4 647.59 L522.9 647.59 L523.4 647.6 L523.9 647.6 L524.4 647.6 L524.9 647.6 L525.4 647.6 L525.9 647.6 L526.4 647.6 L526.9 647.6 L527.4 647.6 L527.9 647.6 L528.4 647.6 L528.9 647.6 L529.4 647.6 L529.9 647.6 L530.4 647.6 L530.9 647.6 L531.4 647.6 L531.9 647.6 L532.4 647.6 L532.9 647.6 L533.4 647.6 L533.9 647.6 L534.4 647.6 L534.9 647.6 L535.4 647.6 L535.9 647.6 L536.4 647.6 L536.9 647.6 L537.4 647.6 L537.9 647.6 L538.4 647.6 L538.9 647.6 L539.4 647.6 L539.9 647.6 L540.4 647.6 L540.9 647.6 L541.4 647.6 L541.9 647.6 L542.4 647.6 L542.9 647.6 L543.4 647.6 L543.9 647.6 L544.4 647.6 L544.9 647.6 L545.4 647.6 L545.9 647.6 L546.4 647.6 L546.9 647.6 L547.4 647.6 L547.9 647.6 L548.4 647.6 L548.9 647.6 L549.4 647.6 L549.9 647.6 L550.4 647.6 L550.9 647.6 L551.4 647.6 L551.9 647.6 L552.4 647.6 L552.9 647.6 L553.4 647.6 L553.9 647.6 L554.4 647.6 L554.9 647.6 L555.4 647.58 L555.9 647.55 L556.4 647.48 L556.9 647.3 L557.4 646.94 L557.9 646.29 L558.4 645.22 L558.9 643.69 L559.4 641.76 L559.9 639.69 L560.4 637.89 L560.9 636.79 L561.4 636.71 L561.9 637.89 L562.4 639.98 L562.9 642.34 L563.4 644.4 L563.9 645.89 L564.4 646.79 L564.9 647.27 L565.4 647.48 L565.9 647.56 L566.4 647.59 L566.9 647.6 L567.4 647.6 L567.9 647.6 L568.4 647.6 L568.9 647.6 L569.4 647.6 L569.9 647.6 L570.4 647.6 L570.9 647.6 L571.4 647.6 L571.9 647.6 L572.4 647.6 L572.9 647.6 L573.4 647.6 L573.9 647.6 L574.4 647.6 L574.9 647.6 L575.4 647.6 L575.9 647.6 L576.4 647.6 L576.9 647.6 L577.4 647.6 L577.9 647.6 L578.4 647.6 L578.9 647.6 L579.4 647.6 L579.9 647.6 L580.4 647.6 L580.9 647.6 L581.4 647.6 L581.9 647.6 L582.4 647.6 L582.9 647.6 L583.4 647.6 L583.9 647.6 L584.4 647.6 L584.9 647.6 L585.4 647.6 L585.9 647.6 L586.4 647.6 L586.9 647.6 L587.4 647.6 L587.9 647.6 L588.4 647.6 L588.9 647.6 L589.4 647.6 L589.9 647.6 L590.4 647.6 L590.9 647.6 L591.4 647.6 L591.9 647.6 L592.4 647.6 L592.9 647.6 L593.4 647.6 L593.9 647.6 L594.4 647.6 L594.9 647.6 L595.4 647.6 L595.9 647.6 L596.4 647.6 L596.9 647.6 L597.4 647.6 L597.9 647.6 L598.4 647.6 L598.9 647.6 L599.4 647.6 L599.9 647.6 L600.4 647.6 L600.9 647.6 L601.4 647.6 L601.9 647.6 L602.4 647.6 L602.9 647.6 L603.4 647.6 L603.9 647.6 L604.4 647.6 L604.9 647.6 L605.4 647.6 L605.9 647.6 L606.4 647.6 L606.9 647.6 L607.4 647.6 L607.9 647.6 L608.4 647.6 L608.9 647.6 L609.4 647.6 L609.9 647.6 L610.4 647.6 L610.9 647.6 L611.4 647.6 L611.9 647.6 L612.4 647.6 L612.9 647.6 L613.4 647.6 L613.9 647.6 L614.4 647.6 L614.9 647.6 L615.4 647.6 L615.9 647.6 L616.4 647.6 L616.9 647.6 L617.4 647.6 L617.9 647.6 L618.4 647.6 L618.9 647.6 L619.4 647.6 L619.9 647.6 L620.4 647.6 L620.9 647.6 L621.4 647.6 L621.9 647.6 L622.4 647.6 L622.9 647.6 L623.4 647.6 L623.9 647.6 L624.4 647.6 L624.9 647.6 L625.4 647.6 L625.9 647.6 L626.4 647.6 L626.9 647.6 L627.4 647.6 L627.9 647.6 L628.4 647.6 L628.9 647.6 L629.4 647.6 L629.9 647.6 L630.4 647.6 L630.9 647.6 L631.4 647.6 L631.9 647.6 L632.4 647.6 L632.9 647.6 L633.4 647.6 L633.9 647.6 L634.4 647.6 L634.9 647.6 L635.4 647.6 L635.9 647.6 L636.4 647.6 L636.9 647.6 L637.4 647.6 L637.9 647.6 L638.4 647.6 L638.9 647.6 L639.4 647.6 L639.9 647.6 L640.4 647.6 L640.9 647.6 L641.4 647.6 L641.9 647.6 L642.4 647.6 L642.9 647.6 L643.4 647.6 L643.9 647.6 L644.4 647.6 L644.8 647.6" fill="none" stroke="#000" stroke-width="1.8" stroke-linejoin="round" stroke-linecap="round"/>
<text x="648.4" y="650.2" font-family='"Liberation Sans", sans-serif' font-size="10.6" font-weight="normal" text-anchor="start" fill="#000" textLength="27.1" lengthAdjust="spacingAndGlyphs">30 min</text>
<path d="M417.5 664.2 L418 664.2 L418.5 664.2 L419 664.2 L419.5 664.2 L420 664.2 L420.5 664.2 L421 664.2 L421.5 664.2 L422 664.2 L422.5 664.2 L423 664.2 L423.5 664.2 L424 664.2 L424.5 664.2 L425 664.2 L425.5 664.2 L426 664.2 L426.5 664.2 L427 664.2 L427.5 664.2 L428 664.2 L428.5 664.2 L429 664.2 L429.5 664.2 L430 664.2 L430.5 664.2 L431 664.2 L431.5 664.2 L432 664.2 L432.5 664.2 L433 664.2 L433.5 664.2 L434 664.2 L434.5 664.19 L435 664.19 L435.5 664.18 L436 664.17 L436.5 664.15 L437 664.12 L437.5 664.08 L438 664.02 L438.5 663.95 L439 663.86 L439.5 663.76 L440 663.65 L440.5 663.55 L441 663.45 L441.5 663.37 L442 663.32 L442.5 663.3 L443 663.32 L443.5 663.37 L444 663.45 L444.5 663.55 L445 663.65 L445.5 663.76 L446 663.86 L446.5 663.95 L447 664.02 L447.5 664.08 L448 664.12 L448.5 664.15 L449 664.17 L449.5 664.18 L450 664.19 L450.5 664.19 L451 664.2 L451.5 664.2 L452 664.2 L452.5 664.2 L453 664.2 L453.5 664.2 L454 664.2 L454.5 664.2 L455 664.2 L455.5 664.2 L456 664.2 L456.5 664.2 L457 664.2 L457.5 664.2 L458 664.2 L458.5 664.2 L459 664.2 L459.5 664.2 L460 664.2 L460.5 664.2 L461 664.2 L461.5 664.2 L462 664.2 L462.5 664.2 L463 664.2 L463.5 664.2 L464 664.2 L464.5 664.2 L465 664.2 L465.5 664.2 L466 664.2 L466.5 664.2 L467 664.2 L467.5 664.2 L468 664.2 L468.5 664.2 L469 664.2 L469.5 664.2 L470 664.2 L470.5 664.2 L471 664.2 L471.5 664.2 L472 664.2 L472.5 664.2 L473 664.2 L473.5 664.2 L474 664.2 L474.5 664.2 L475 664.2 L475.5 664.2 L476 664.2 L476.5 664.2 L477 664.2 L477.5 664.2 L478 664.2 L478.5 664.2 L479 664.2 L479.5 664.2 L480 664.2 L480.5 664.2 L481 664.2 L481.5 664.2 L482 664.2 L482.5 664.2 L483 664.2 L483.5 664.19 L484 664.19 L484.5 664.19 L485 664.19 L485.5 664.19 L486 664.19 L486.5 664.19 L487 664.19 L487.5 664.18 L488 664.18 L488.5 664.18 L489 664.18 L489.5 664.17 L490 664.17 L490.5 664.17 L491 664.16 L491.5 664.16 L492 664.15 L492.5 664.15 L493 664.14 L493.5 664.14 L494 664.13 L494.5 664.12 L495 664.11 L495.5 664.1 L496 664.09 L496.5 664.08 L497 664.07 L497.5 664.06 L498 664.04 L498.5 664.03 L499 664.01 L499.5 663.99 L500 663.97 L500.5 663.95 L501 663.93 L501.5 663.91 L502 663.88 L502.5 663.86 L503 663.83 L503.5 663.8 L504 663.77 L504.5 663.74 L505 663.7 L505.5 663.67 L506 663.63 L506.5 663.59 L507 663.55 L507.5 663.51 L508 663.47 L508.5 663.42 L509 663.38 L509.5 663.33 L510 663.28 L510.5 663.24 L511 663.19 L511.5 663.14 L512 663.09 L512.5 663.04 L513 662.99 L513.5 662.94 L514 662.89 L514.5 662.84 L515 662.79 L515.5 662.74 L516 662.69 L516.5 662.64 L517 662.6 L517.5 662.55 L518 662.51 L518.5 662.47 L519 662.44 L519.5 662.4 L520 662.37 L520.5 662.34 L521 662.31 L521.5 662.28 L522 662.26 L522.5 662.24 L523 662.23 L523.5 662.22 L524 662.21 L524.5 662.2 L525 662.2 L525.5 662.2 L526 662.21 L526.5 662.22 L527 662.23 L527.5 662.24 L528 662.26 L528.5 662.28 L529 662.31 L529.5 662.34 L530 662.37 L530.5 662.4 L531 662.44 L531.5 662.47 L532 662.51 L532.5 662.55 L533 662.6 L533.5 662.64 L534 662.69 L534.5 662.74 L535 662.79 L535.5 662.84 L536 662.89 L536.5 662.94 L537 662.98 L537.5 663.02 L538 663.04 L538.5 663.02 L539 662.92 L539.5 662.71 L540 662.37 L540.5 661.94 L541 661.51 L541.5 661.21 L542 661.17 L542.5 661.41 L543 661.86 L543.5 662.39 L544 662.88 L544.5 663.26 L545 663.5 L545.5 663.65 L546 663.74 L546.5 663.79 L547 663.82 L547.5 663.85 L548 663.88 L548.5 663.91 L549 663.93 L549.5 663.95 L550 663.97 L550.5 663.99 L551 664.01 L551.5 664.02 L552 664.03 L552.5 664.05 L553 664.06 L553.5 664.06 L554 664.07 L554.5 664.07 L555 664.07 L555.5 664.06 L556 664.05 L556.5 664.04 L557 664.02 L557.5 663.99 L558 663.95 L558.5 663.91 L559 663.85 L559.5 663.79 L560 663.71 L560.5 663.62 L561 663.53 L561.5 663.41 L562 663.29 L562.5 663.14 L563 662.94 L563.5 662.64 L564 662.12 L564.5 661.13 L565 659.29 L565.5 656.07 L566 650.85 L566.5 643.19 L567 633.14 L567.5 621.5 L568 609.93 L568.5 600.63 L569 595.66 L569.5 596.03 L570 600.87 L570.5 609.16 L571 619.4 L571.5 629.99 L572 639.61 L572.5 647.47 L573 653.33 L573.5 657.34 L574 659.89 L574.5 661.42 L575 662.29 L575.5 662.8 L576 663.1 L576.5 663.3 L577 663.44 L577.5 663.56 L578 663.66 L578.5 663.74 L579 663.8 L579.5 663.84 L580 663.85 L580.5 663.83 L581 663.79 L581.5 663.71 L582 663.62 L582.5 663.52 L583 663.44 L583.5 663.38 L584 663.37 L584.5 663.4 L585 663.48 L585.5 663.58 L586 663.71 L586.5 663.83 L587 663.94 L587.5 664.02 L588 664.09 L588.5 664.13 L589 664.16 L589.5 664.18 L590 664.19 L590.5 664.2 L591 664.2 L591.5 664.2 L592 664.2 L592.5 664.2 L593 664.2 L593.5 664.2 L594 664.2 L594.5 664.2 L595 664.2 L595.5 664.2 L596 664.2 L596.5 664.2 L597 664.2 L597.5 664.2 L598 664.2 L598.5 664.2 L599 664.2 L599.5 664.2 L600 664.2 L600.5 664.2 L601 664.2 L601.5 664.2 L602 664.2 L602.5 664.2 L603 664.2 L603.5 664.2 L604 664.2 L604.5 664.2 L605 664.2 L605.5 664.2 L606 664.2 L606.5 664.2 L607 664.2 L607.5 664.2 L608 664.2 L608.5 664.2 L609 664.2 L609.5 664.2 L610 664.2 L610.5 664.2 L611 664.2 L611.5 664.2 L612 664.2 L612.5 664.2 L613 664.2 L613.5 664.2 L614 664.2 L614.5 664.2 L615 664.2 L615.5 664.2 L616 664.2 L616.5 664.2 L617 664.2 L617.5 664.2 L618 664.2 L618.5 664.2 L619 664.2 L619.5 664.2 L620 664.2 L620.5 664.2 L621 664.2 L621.5 664.2 L622 664.2 L622.5 664.2 L623 664.2 L623.5 664.2 L624 664.2 L624.5 664.2 L625 664.2 L625.5 664.2 L626 664.2 L626.5 664.2 L627 664.2 L627.5 664.2 L628 664.2 L628.5 664.2 L629 664.2 L629.5 664.2 L630 664.2 L630.5 664.2 L631 664.2 L631.5 664.2 L632 664.2 L632.5 664.2 L633 664.2 L633.5 664.2 L634 664.2 L634.5 664.2 L635 664.2 L635.5 664.2 L636 664.2 L636.5 664.2 L637 664.2 L637.5 664.2 L638 664.2 L638.5 664.2 L639 664.2 L639.5 664.2 L640 664.2 L640.5 664.2 L641 664.2 L641.5 664.2 L642 664.2 L642.5 664.2 L643 664.2 L643.5 664.2 L644 664.2 L644.5 664.2 L645 664.2 L645.5 664.2 L646 664.2 L646.5 664.2 L647 664.2 L647.5 664.2 L648 664.2 L648.5 664.2 L649 664.2 L649.5 664.2 L650 664.2 L650.5 664.2 L651 664.2 L651.5 664.2 L652 664.2 L652.5 664.2 L652.6 664.2" fill="none" stroke="#000" stroke-width="1.8" stroke-linejoin="round" stroke-linecap="round"/>
<text x="656" y="666.8" font-family='"Liberation Sans", sans-serif' font-size="10.6" font-weight="normal" text-anchor="start" fill="#000" textLength="28.0" lengthAdjust="spacingAndGlyphs">Time 0</text>
<rect x="424.7" y="568.9" width="33.4" height="37.0" fill="none" stroke="#c05a55" stroke-width="1.3"/>
<line x1="518.4" y1="569.5" x2="512.2" y2="622" stroke="#000" stroke-width="1.1"/>
<path d="M511.3 628.0 L509.3 620.2 L514.9 620.8 Z" fill="#000"/>
</svg>
</body></html>
